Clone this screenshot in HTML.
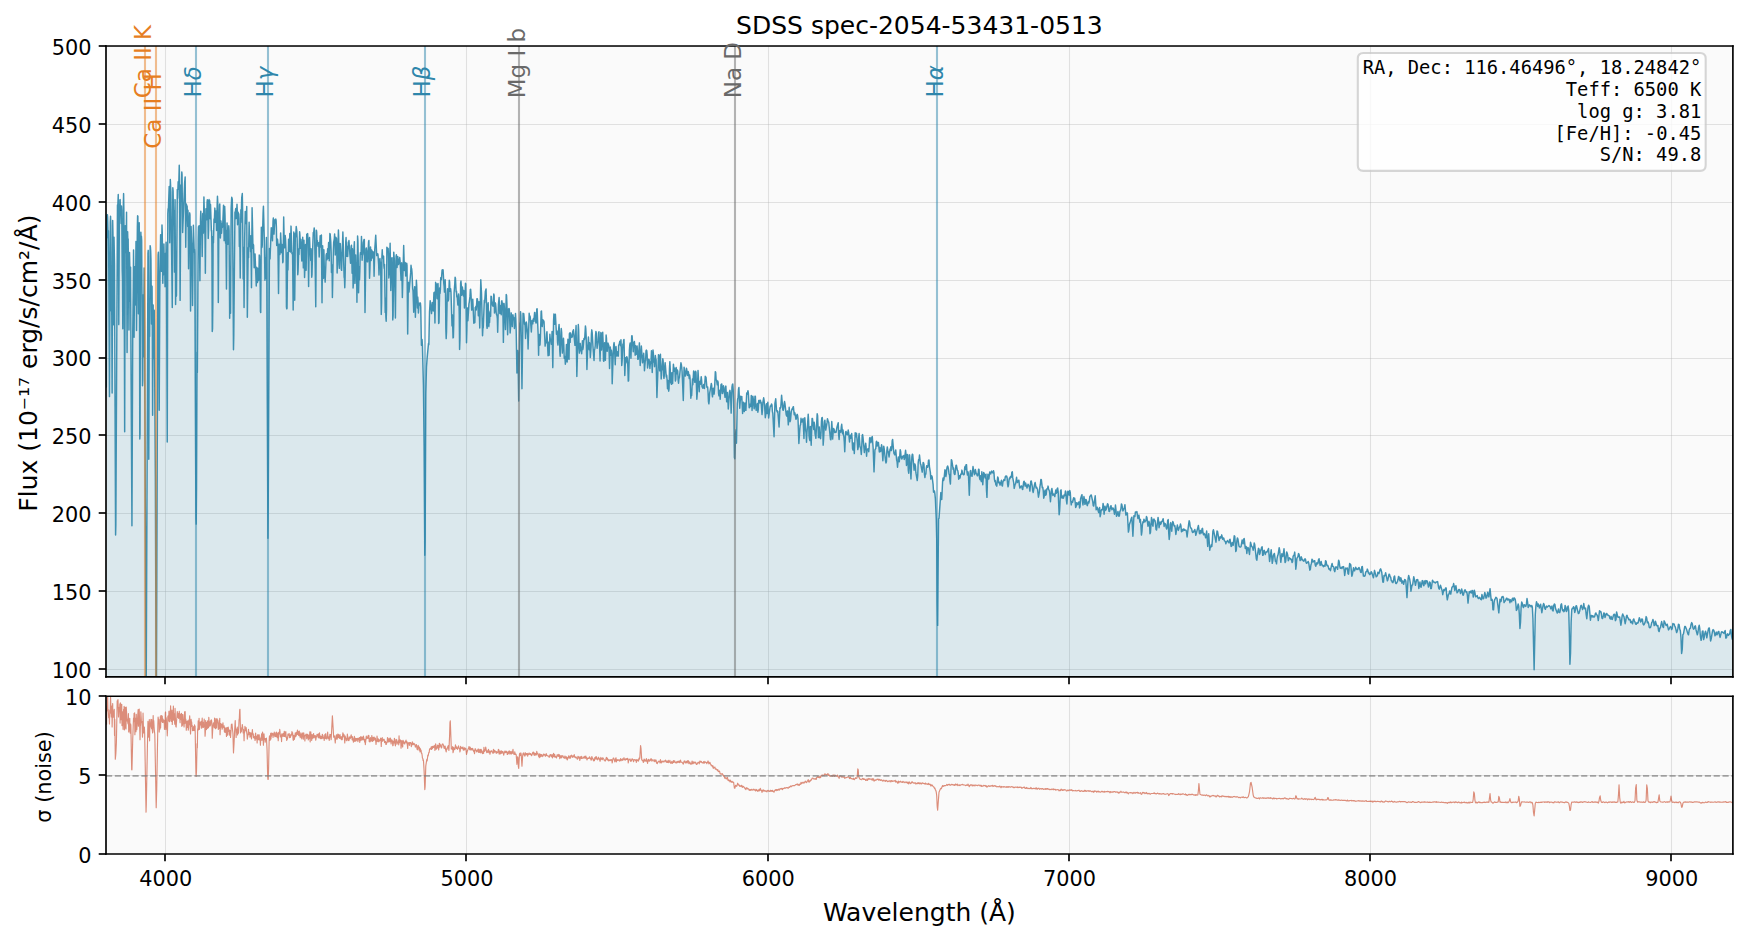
<!DOCTYPE html>
<html><head><meta charset="utf-8"><title>SDSS spec-2054-53431-0513</title>
<style>html,body{margin:0;padding:0;background:#fff;}body{width:1748px;height:940px;overflow:hidden;}svg{display:block;}</style>
</head><body>
<svg width="1748" height="940" viewBox="0 0 839.04 451.2" version="1.1">
<defs>
<style type="text/css">*{stroke-linejoin: round; stroke-linecap: butt}</style>
</defs>
<g id="figure_1">
<g id="patch_1">
<path d="M 0 451.2 L 839.04 451.2 L 839.04 0 L 0 0 z
" style="fill: #ffffff"/>
</g>
<g id="axes_1">
<g id="patch_2">
<path d="M 50.88 324.91 L 831.79 324.91 L 831.79 22.08 L 50.88 22.08 z
" style="fill: #fafafa"/>
</g>
<g id="matplotlib.axis_1">
<g id="xtick_1">
<g id="line2d_1">
<path d="M 79.44 324.91 L 79.44 22.08 " clip-path="url(#pba4cbe3485)" style="fill: none; stroke: #b0b0b0; stroke-opacity: 0.35; stroke-width: 0.5; stroke-linecap: square"/>
</g>
<g id="line2d_2">
<defs>
<path id="m1504cfccaf" d="M 0 0 L 0 3.5 " style="stroke: #000000; stroke-width: 0.8"/>
</defs>
<g>
<use href="#m1504cfccaf" x="79.20" y="324.96" style="stroke: #000000; stroke-width: 0.8"/>
</g>
</g>
</g>
<g id="xtick_2">
<g id="line2d_3">
<path d="M 223.92 324.91 L 223.92 22.08 " clip-path="url(#pba4cbe3485)" style="fill: none; stroke: #b0b0b0; stroke-opacity: 0.35; stroke-width: 0.5; stroke-linecap: square"/>
</g>
<g id="line2d_4">
<g>
<use href="#m1504cfccaf" x="223.68" y="324.96" style="stroke: #000000; stroke-width: 0.8"/>
</g>
</g>
</g>
<g id="xtick_3">
<g id="line2d_5">
<path d="M 368.88 324.91 L 368.88 22.08 " clip-path="url(#pba4cbe3485)" style="fill: none; stroke: #b0b0b0; stroke-opacity: 0.35; stroke-width: 0.5; stroke-linecap: square"/>
</g>
<g id="line2d_6">
<g>
<use href="#m1504cfccaf" x="368.64" y="324.96" style="stroke: #000000; stroke-width: 0.8"/>
</g>
</g>
</g>
<g id="xtick_4">
<g id="line2d_7">
<path d="M 513.36 324.91 L 513.36 22.08 " clip-path="url(#pba4cbe3485)" style="fill: none; stroke: #b0b0b0; stroke-opacity: 0.35; stroke-width: 0.5; stroke-linecap: square"/>
</g>
<g id="line2d_8">
<g>
<use href="#m1504cfccaf" x="513.12" y="324.96" style="stroke: #000000; stroke-width: 0.8"/>
</g>
</g>
</g>
<g id="xtick_5">
<g id="line2d_9">
<path d="M 657.84 324.91 L 657.84 22.08 " clip-path="url(#pba4cbe3485)" style="fill: none; stroke: #b0b0b0; stroke-opacity: 0.35; stroke-width: 0.5; stroke-linecap: square"/>
</g>
<g id="line2d_10">
<g>
<use href="#m1504cfccaf" x="657.60" y="324.96" style="stroke: #000000; stroke-width: 0.8"/>
</g>
</g>
</g>
<g id="xtick_6">
<g id="line2d_11">
<path d="M 802.32 324.91 L 802.32 22.08 " clip-path="url(#pba4cbe3485)" style="fill: none; stroke: #b0b0b0; stroke-opacity: 0.35; stroke-width: 0.5; stroke-linecap: square"/>
</g>
<g id="line2d_12">
<g>
<use href="#m1504cfccaf" x="802.08" y="324.96" style="stroke: #000000; stroke-width: 0.8"/>
</g>
</g>
</g>
</g>
<g id="matplotlib.axis_2">
<g id="ytick_1">
<g id="line2d_13">
<path d="M 50.88 321.36 L 831.79 321.36 " clip-path="url(#pba4cbe3485)" style="fill: none; stroke: #b0b0b0; stroke-opacity: 0.35; stroke-width: 0.5; stroke-linecap: square"/>
</g>
<g id="line2d_14">
<defs>
<path id="m5d545ce8f8" d="M 0 0 L -3.5 0 " style="stroke: #000000; stroke-width: 0.8"/>
</defs>
<g>
<use href="#m5d545ce8f8" x="50.88" y="321.12" style="stroke: #000000; stroke-width: 0.8"/>
</g>
</g>
<g id="text_1" transform="translate(0.00 0.48)">
<text style="font-size: 10px; font-family: 'DejaVu Sans', 'Liberation Sans', sans-serif; text-anchor: end" x="43.88" y="324.92" transform="rotate(-0 43.88 324.92)">100</text>
</g>
</g>
<g id="ytick_2">
<g id="line2d_15">
<path d="M 50.88 283.92 L 831.79 283.92 " clip-path="url(#pba4cbe3485)" style="fill: none; stroke: #b0b0b0; stroke-opacity: 0.35; stroke-width: 0.5; stroke-linecap: square"/>
</g>
<g id="line2d_16">
<g>
<use href="#m5d545ce8f8" x="50.88" y="283.68" style="stroke: #000000; stroke-width: 0.8"/>
</g>
</g>
<g id="text_2" transform="translate(0.00 0.48)">
<text style="font-size: 10px; font-family: 'DejaVu Sans', 'Liberation Sans', sans-serif; text-anchor: end" x="43.88" y="287.54" transform="rotate(-0 43.88 287.54)">150</text>
</g>
</g>
<g id="ytick_3">
<g id="line2d_17">
<path d="M 50.88 246.48 L 831.79 246.48 " clip-path="url(#pba4cbe3485)" style="fill: none; stroke: #b0b0b0; stroke-opacity: 0.35; stroke-width: 0.5; stroke-linecap: square"/>
</g>
<g id="line2d_18">
<g>
<use href="#m5d545ce8f8" x="50.88" y="246.24" style="stroke: #000000; stroke-width: 0.8"/>
</g>
</g>
<g id="text_3" transform="translate(0.00 0.48)">
<text style="font-size: 10px; font-family: 'DejaVu Sans', 'Liberation Sans', sans-serif; text-anchor: end" x="43.88" y="250.16" transform="rotate(-0 43.88 250.16)">200</text>
</g>
</g>
<g id="ytick_4">
<g id="line2d_19">
<path d="M 50.88 209.04 L 831.79 209.04 " clip-path="url(#pba4cbe3485)" style="fill: none; stroke: #b0b0b0; stroke-opacity: 0.35; stroke-width: 0.5; stroke-linecap: square"/>
</g>
<g id="line2d_20">
<g>
<use href="#m5d545ce8f8" x="50.88" y="208.80" style="stroke: #000000; stroke-width: 0.8"/>
</g>
</g>
<g id="text_4" transform="translate(0.00 0.48)">
<text style="font-size: 10px; font-family: 'DejaVu Sans', 'Liberation Sans', sans-serif; text-anchor: end" x="43.88" y="212.78" transform="rotate(-0 43.88 212.78)">250</text>
</g>
</g>
<g id="ytick_5">
<g id="line2d_21">
<path d="M 50.88 172.08 L 831.79 172.08 " clip-path="url(#pba4cbe3485)" style="fill: none; stroke: #b0b0b0; stroke-opacity: 0.35; stroke-width: 0.5; stroke-linecap: square"/>
</g>
<g id="line2d_22">
<g>
<use href="#m5d545ce8f8" x="50.88" y="171.84" style="stroke: #000000; stroke-width: 0.8"/>
</g>
</g>
<g id="text_5" transform="translate(0.00 0.48)">
<text style="font-size: 10px; font-family: 'DejaVu Sans', 'Liberation Sans', sans-serif; text-anchor: end" x="43.88" y="175.40" transform="rotate(-0 43.88 175.40)">300</text>
</g>
</g>
<g id="ytick_6">
<g id="line2d_23">
<path d="M 50.88 134.64 L 831.79 134.64 " clip-path="url(#pba4cbe3485)" style="fill: none; stroke: #b0b0b0; stroke-opacity: 0.35; stroke-width: 0.5; stroke-linecap: square"/>
</g>
<g id="line2d_24">
<g>
<use href="#m5d545ce8f8" x="50.88" y="134.40" style="stroke: #000000; stroke-width: 0.8"/>
</g>
</g>
<g id="text_6" transform="translate(0.00 0.48)">
<text style="font-size: 10px; font-family: 'DejaVu Sans', 'Liberation Sans', sans-serif; text-anchor: end" x="43.88" y="138.01" transform="rotate(-0 43.88 138.01)">350</text>
</g>
</g>
<g id="ytick_7">
<g id="line2d_25">
<path d="M 50.88 97.20 L 831.79 97.20 " clip-path="url(#pba4cbe3485)" style="fill: none; stroke: #b0b0b0; stroke-opacity: 0.35; stroke-width: 0.5; stroke-linecap: square"/>
</g>
<g id="line2d_26">
<g>
<use href="#m5d545ce8f8" x="50.88" y="96.96" style="stroke: #000000; stroke-width: 0.8"/>
</g>
</g>
<g id="text_7" transform="translate(0.00 0.48)">
<text style="font-size: 10px; font-family: 'DejaVu Sans', 'Liberation Sans', sans-serif; text-anchor: end" x="43.88" y="100.63" transform="rotate(-0 43.88 100.63)">400</text>
</g>
</g>
<g id="ytick_8">
<g id="line2d_27">
<path d="M 50.88 59.76 L 831.79 59.76 " clip-path="url(#pba4cbe3485)" style="fill: none; stroke: #b0b0b0; stroke-opacity: 0.35; stroke-width: 0.5; stroke-linecap: square"/>
</g>
<g id="line2d_28">
<g>
<use href="#m5d545ce8f8" x="50.88" y="59.52" style="stroke: #000000; stroke-width: 0.8"/>
</g>
</g>
<g id="text_8" transform="translate(0.00 0.48)">
<text style="font-size: 10px; font-family: 'DejaVu Sans', 'Liberation Sans', sans-serif; text-anchor: end" x="43.88" y="63.25" transform="rotate(-0 43.88 63.25)">450</text>
</g>
</g>
<g id="ytick_9">
<g id="line2d_29">
<path d="M 50.88 22.32 L 831.79 22.32 " clip-path="url(#pba4cbe3485)" style="fill: none; stroke: #b0b0b0; stroke-opacity: 0.35; stroke-width: 0.5; stroke-linecap: square"/>
</g>
<g id="line2d_30">
<g>
<use href="#m5d545ce8f8" x="50.88" y="22.08" style="stroke: #000000; stroke-width: 0.8"/>
</g>
</g>
<g id="text_9" transform="translate(0.00 0.48)">
<text style="font-size: 10px; font-family: 'DejaVu Sans', 'Liberation Sans', sans-serif; text-anchor: end" x="43.88" y="25.87" transform="rotate(-0 43.88 25.87)">500</text>
</g>
</g>
<g id="text_10" transform="translate(-0.48 0.81)">
<text style="font-size: 12px; font-family: 'DejaVu Sans', 'Liberation Sans', sans-serif; text-anchor: middle" x="18.29" y="173.49" transform="rotate(-90 18.29 173.49)">Flux (10⁻¹⁷ erg/s/cm²/Å)</text>
</g>
</g>
<g id="FillBetweenPolyCollection_1">
<defs>
<path id="m7d26e6ad8c" d="M 50.40 -55.31 L 50.40 -351.37 L 50.52 -343.74 L 50.65 -335.51 L 50.78 -336.23 L 50.90 -308.76 L 51.03 -265.43 L 51.16 -314.63 L 51.28 -347.62 L 51.41 -347.87 L 51.54 -348.16 L 51.66 -346.89 L 51.79 -338.58 L 51.92 -336.95 L 52.04 -340.49 L 52.17 -328.85 L 52.30 -305.86 L 52.43 -265.85 L 52.55 -260.80 L 52.68 -294.57 L 52.81 -325.25 L 52.93 -344.34 L 53.06 -347.37 L 53.19 -343.28 L 53.32 -321.95 L 53.44 -301.89 L 53.57 -316.00 L 53.70 -296.93 L 53.82 -262.53 L 53.95 -316.93 L 54.08 -345.39 L 54.21 -339.63 L 54.33 -324.74 L 54.46 -295.29 L 54.59 -323.17 L 54.72 -337.35 L 54.84 -328.94 L 54.97 -324.37 L 55.10 -298.91 L 55.23 -256.09 L 55.35 -216.07 L 55.48 -194.37 L 55.61 -199.48 L 55.74 -226.86 L 55.86 -251.35 L 55.99 -263.14 L 56.12 -318.33 L 56.25 -349.87 L 56.38 -352.75 L 56.50 -351.47 L 56.63 -354.42 L 56.76 -357.82 L 56.89 -330.59 L 57.02 -295.37 L 57.14 -323.60 L 57.27 -341.91 L 57.40 -348.68 L 57.53 -355.21 L 57.66 -355.41 L 57.78 -350.33 L 57.91 -351.79 L 58.04 -350.03 L 58.17 -343.92 L 58.30 -352.30 L 58.43 -350.27 L 58.55 -331.71 L 58.68 -321.29 L 58.81 -317.25 L 58.94 -293.36 L 59.07 -325.77 L 59.20 -353.29 L 59.33 -358.26 L 59.45 -351.01 L 59.58 -332.13 L 59.71 -287.74 L 59.84 -243.94 L 59.97 -304.41 L 60.10 -342.80 L 60.23 -336.14 L 60.35 -329.94 L 60.48 -330.21 L 60.61 -343.96 L 60.74 -349.28 L 60.87 -322.85 L 61.00 -282.01 L 61.13 -319.49 L 61.26 -339.95 L 61.39 -334.56 L 61.52 -336.53 L 61.64 -320.81 L 61.77 -305.96 L 61.90 -292.79 L 62.03 -311.23 L 62.16 -330.02 L 62.29 -324.27 L 62.42 -306.55 L 62.55 -319.39 L 62.68 -322.95 L 62.81 -302.92 L 62.94 -268.41 L 63.07 -238.61 L 63.20 -205.27 L 63.33 -198.84 L 63.45 -238.06 L 63.58 -269.51 L 63.71 -291.51 L 63.84 -300.14 L 63.97 -313.51 L 64.10 -331.21 L 64.23 -318.95 L 64.36 -289.30 L 64.49 -314.45 L 64.62 -323.18 L 64.75 -307.71 L 64.88 -310.59 L 65.01 -304.84 L 65.14 -319.87 L 65.27 -335.28 L 65.40 -321.76 L 65.53 -292.52 L 65.66 -313.17 L 65.79 -338.58 L 65.92 -341.76 L 66.05 -347.60 L 66.18 -347.41 L 66.31 -327.53 L 66.44 -300.59 L 66.57 -316.36 L 66.70 -340.87 L 66.83 -344.30 L 66.96 -309.43 L 67.09 -240.44 L 67.22 -242.83 L 67.35 -298.55 L 67.48 -334.61 L 67.61 -339.77 L 67.74 -336.01 L 67.88 -337.76 L 68.01 -335.73 L 68.14 -309.84 L 68.27 -267.84 L 68.40 -266.07 L 68.53 -268.79 L 68.66 -307.25 L 68.79 -309.66 L 68.92 -279.99 L 69.05 -308.95 L 69.18 -322.57 L 69.31 -309.30 L 69.44 -291.99 L 69.57 -249.90 L 69.71 -198.29 L 69.84 -164.09 L 69.97 -129.85 L 70.10 -115.12 L 70.23 -132.05 L 70.36 -170.14 L 70.49 -221.98 L 70.62 -262.80 L 70.75 -284.78 L 70.89 -308.71 L 71.02 -329.51 L 71.15 -331.02 L 71.28 -286.49 L 71.41 -230.70 L 71.54 -286.76 L 71.67 -307.32 L 71.81 -289.68 L 71.94 -318.02 L 72.07 -333.29 L 72.20 -332.52 L 72.33 -330.79 L 72.46 -326.57 L 72.59 -310.21 L 72.73 -295.71 L 72.86 -310.67 L 72.99 -313.77 L 73.12 -293.57 L 73.25 -251.83 L 73.38 -288.88 L 73.52 -304.81 L 73.65 -279.07 L 73.78 -279.32 L 73.91 -295.58 L 74.04 -302.25 L 74.18 -284.37 L 74.31 -272.25 L 74.44 -255.76 L 74.57 -222.95 L 74.70 -175.88 L 74.84 -134.34 L 74.97 -115.12 L 75.10 -125.63 L 75.23 -165.95 L 75.36 -217.24 L 75.50 -268.18 L 75.63 -301.02 L 75.76 -317.21 L 75.89 -328.71 L 76.03 -330.08 L 76.16 -317.87 L 76.29 -291.79 L 76.42 -254.24 L 76.56 -290.37 L 76.69 -310.79 L 76.82 -323.17 L 76.95 -331.81 L 77.09 -338.51 L 77.22 -337.48 L 77.35 -326.32 L 77.48 -320.99 L 77.62 -330.54 L 77.75 -343.22 L 77.88 -339.80 L 78.02 -321.83 L 78.15 -315.20 L 78.28 -325.05 L 78.41 -319.21 L 78.55 -324.08 L 78.68 -334.08 L 78.81 -326.51 L 78.95 -329.49 L 79.08 -323.84 L 79.21 -313.52 L 79.35 -329.57 L 79.48 -326.80 L 79.61 -313.98 L 79.75 -334.89 L 79.88 -326.71 L 80.01 -295.11 L 80.15 -273.46 L 80.28 -238.99 L 80.41 -303.50 L 80.55 -348.58 L 80.68 -351.03 L 80.81 -350.20 L 80.95 -353.67 L 81.08 -358.61 L 81.21 -361.68 L 81.35 -350.32 L 81.48 -334.71 L 81.61 -354.10 L 81.75 -364.99 L 81.88 -361.69 L 82.02 -359.15 L 82.15 -347.46 L 82.28 -338.87 L 82.42 -329.91 L 82.55 -318.07 L 82.69 -303.55 L 82.82 -339.45 L 82.95 -361.08 L 83.09 -359.54 L 83.22 -352.71 L 83.36 -343.42 L 83.49 -350.20 L 83.62 -340.44 L 83.76 -320.57 L 83.89 -340.65 L 84.03 -355.38 L 84.16 -337.23 L 84.29 -305.05 L 84.43 -314.89 L 84.56 -308.88 L 84.70 -309.30 L 84.83 -324.13 L 84.97 -351.17 L 85.10 -360.29 L 85.24 -356.04 L 85.37 -361.82 L 85.51 -363.94 L 85.64 -360.37 L 85.77 -361.04 L 85.91 -367.60 L 86.04 -371.89 L 86.18 -365.88 L 86.31 -343.56 L 86.45 -307.01 L 86.58 -327.32 L 86.72 -357.06 L 86.85 -362.41 L 86.99 -354.70 L 87.12 -359.53 L 87.26 -368.69 L 87.39 -367.37 L 87.53 -354.84 L 87.66 -339.57 L 87.80 -343.28 L 87.93 -347.34 L 88.07 -349.26 L 88.20 -354.39 L 88.34 -357.70 L 88.47 -360.77 L 88.61 -363.22 L 88.74 -365.05 L 88.88 -366.26 L 89.01 -351.06 L 89.15 -332.55 L 89.29 -343.76 L 89.42 -353.32 L 89.56 -352.74 L 89.69 -349.25 L 89.83 -352.32 L 89.96 -348.23 L 90.10 -342.45 L 90.23 -350.25 L 90.37 -342.75 L 90.51 -322.18 L 90.64 -335.34 L 90.78 -345.37 L 90.91 -345.38 L 91.05 -349.02 L 91.19 -348.11 L 91.32 -326.62 L 91.46 -301.91 L 91.59 -326.59 L 91.73 -342.50 L 91.87 -338.39 L 92.00 -334.12 L 92.14 -334.42 L 92.27 -323.15 L 92.41 -304.52 L 92.55 -320.69 L 92.68 -341.49 L 92.82 -343.09 L 92.95 -338.74 L 93.09 -331.33 L 93.23 -330.28 L 93.36 -331.47 L 93.50 -329.71 L 93.64 -301.27 L 93.77 -259.27 L 93.91 -216.53 L 94.05 -202.15 L 94.18 -199.60 L 94.32 -216.74 L 94.46 -259.14 L 94.59 -282.10 L 94.73 -272.41 L 94.87 -300.28 L 95.00 -327.43 L 95.14 -336.37 L 95.28 -342.32 L 95.41 -342.34 L 95.55 -342.85 L 95.69 -337.42 L 95.82 -324.31 L 95.96 -316.48 L 96.10 -333.11 L 96.24 -345.87 L 96.37 -349.83 L 96.51 -347.66 L 96.65 -341.93 L 96.78 -343.85 L 96.92 -338.14 L 97.06 -328.07 L 97.20 -341.64 L 97.33 -348.67 L 97.47 -342.20 L 97.61 -339.28 L 97.74 -349.14 L 97.88 -356.60 L 98.02 -351.62 L 98.16 -345.72 L 98.29 -343.03 L 98.43 -336.31 L 98.57 -320.06 L 98.71 -339.30 L 98.85 -350.96 L 98.98 -347.95 L 99.12 -345.70 L 99.26 -345.95 L 99.40 -354.09 L 99.53 -355.34 L 99.67 -354.95 L 99.81 -346.84 L 99.95 -336.76 L 100.09 -340.49 L 100.22 -351.00 L 100.36 -355.39 L 100.50 -353.75 L 100.64 -354.89 L 100.78 -346.66 L 100.91 -346.21 L 101.05 -353.06 L 101.19 -349.20 L 101.33 -346.10 L 101.47 -340.38 L 101.60 -340.64 L 101.74 -329.53 L 101.88 -292.08 L 102.02 -293.47 L 102.16 -305.90 L 102.30 -337.71 L 102.44 -334.58 L 102.57 -339.32 L 102.71 -346.04 L 102.85 -344.27 L 102.99 -349.38 L 103.13 -351.30 L 103.27 -347.62 L 103.41 -344.46 L 103.54 -344.80 L 103.68 -349.89 L 103.82 -345.11 L 103.96 -340.57 L 104.10 -348.79 L 104.24 -353.04 L 104.38 -356.97 L 104.52 -354.21 L 104.66 -330.35 L 104.79 -305.99 L 104.93 -327.11 L 105.07 -345.41 L 105.21 -347.70 L 105.35 -352.79 L 105.49 -353.25 L 105.63 -342.50 L 105.77 -336.98 L 105.91 -339.78 L 106.05 -345.13 L 106.19 -341.93 L 106.33 -339.24 L 106.46 -341.96 L 106.60 -343.96 L 106.74 -341.98 L 106.88 -342.99 L 107.02 -346.33 L 107.16 -352.30 L 107.30 -352.73 L 107.44 -344.84 L 107.58 -335.68 L 107.72 -345.38 L 107.86 -352.08 L 108.00 -348.27 L 108.14 -341.01 L 108.28 -334.48 L 108.42 -340.68 L 108.56 -330.50 L 108.70 -312.50 L 108.84 -333.39 L 108.98 -344.21 L 109.12 -340.40 L 109.26 -334.98 L 109.40 -333.98 L 109.54 -337.60 L 109.68 -339.19 L 109.82 -342.81 L 109.96 -340.62 L 110.10 -322.61 L 110.24 -298.44 L 110.38 -318.57 L 110.52 -308.21 L 110.66 -300.80 L 110.80 -332.91 L 110.94 -351.12 L 111.08 -355.13 L 111.22 -356.52 L 111.36 -356.09 L 111.50 -355.56 L 111.65 -345.62 L 111.79 -325.84 L 111.93 -304.00 L 112.07 -283.33 L 112.21 -289.68 L 112.35 -305.74 L 112.49 -328.68 L 112.63 -347.51 L 112.77 -349.49 L 112.91 -346.10 L 113.05 -350.41 L 113.19 -351.13 L 113.34 -346.34 L 113.48 -347.32 L 113.62 -350.54 L 113.76 -353.19 L 113.90 -349.97 L 114.04 -343.27 L 114.18 -346.49 L 114.32 -349.33 L 114.46 -346.72 L 114.61 -348.58 L 114.75 -346.31 L 114.89 -332.93 L 115.03 -335.38 L 115.17 -331.53 L 115.31 -317.79 L 115.45 -340.14 L 115.60 -350.46 L 115.74 -344.44 L 115.88 -350.60 L 116.02 -356.18 L 116.16 -357.41 L 116.30 -358.28 L 116.45 -350.42 L 116.59 -332.60 L 116.73 -317.28 L 116.87 -332.48 L 117.01 -325.94 L 117.15 -303.62 L 117.30 -323.43 L 117.44 -337.03 L 117.58 -344.96 L 117.72 -349.69 L 117.86 -347.30 L 118.01 -347.37 L 118.15 -343.93 L 118.29 -350.10 L 118.43 -352.03 L 118.57 -319.83 L 118.72 -298.93 L 118.86 -311.17 L 119.00 -323.95 L 119.14 -332.28 L 119.29 -327.49 L 119.43 -336.58 L 119.57 -344.56 L 119.71 -340.65 L 119.86 -332.90 L 120.00 -338.06 L 120.14 -333.00 L 120.28 -330.40 L 120.43 -338.07 L 120.57 -327.21 L 120.71 -313.12 L 120.85 -337.19 L 121.00 -351.48 L 121.14 -346.00 L 121.28 -335.12 L 121.43 -332.00 L 121.57 -333.96 L 121.71 -333.53 L 121.85 -327.57 L 122.00 -322.71 L 122.14 -324.29 L 122.28 -326.38 L 122.43 -329.25 L 122.57 -325.71 L 122.71 -320.42 L 122.86 -318.74 L 123.00 -313.92 L 123.14 -317.64 L 123.29 -322.86 L 123.43 -318.29 L 123.57 -315.55 L 123.72 -320.61 L 123.86 -322.36 L 124.00 -321.08 L 124.15 -316.54 L 124.29 -319.81 L 124.43 -328.80 L 124.58 -328.43 L 124.72 -322.34 L 124.86 -317.03 L 125.01 -301.62 L 125.15 -301.15 L 125.29 -325.05 L 125.44 -342.14 L 125.58 -339.55 L 125.73 -332.39 L 125.87 -333.22 L 126.01 -340.08 L 126.16 -345.01 L 126.30 -349.56 L 126.45 -352.21 L 126.59 -347.62 L 126.73 -340.19 L 126.88 -335.99 L 127.02 -325.60 L 127.17 -316.62 L 127.31 -321.57 L 127.45 -327.45 L 127.60 -317.67 L 127.74 -328.76 L 127.89 -337.24 L 128.03 -328.07 L 128.18 -301.19 L 128.32 -254.98 L 128.47 -208.14 L 128.61 -192.87 L 128.75 -209.29 L 128.90 -246.82 L 129.04 -292.88 L 129.19 -322.94 L 129.33 -331.89 L 129.48 -331.58 L 129.62 -326.94 L 129.77 -331.42 L 129.91 -335.47 L 130.06 -338.01 L 130.20 -341.88 L 130.35 -340.60 L 130.49 -341.69 L 130.64 -338.89 L 130.78 -335.63 L 130.93 -342.10 L 131.07 -345.43 L 131.22 -346.59 L 131.36 -342.20 L 131.51 -338.81 L 131.65 -341.66 L 131.80 -344.42 L 131.94 -345.72 L 132.09 -344.23 L 132.23 -344.35 L 132.38 -346.04 L 132.52 -345.46 L 132.67 -342.24 L 132.81 -333.39 L 132.96 -334.88 L 133.11 -336.45 L 133.25 -336.10 L 133.40 -333.99 L 133.54 -324.07 L 133.69 -310.32 L 133.83 -325.77 L 133.98 -334.01 L 134.13 -330.28 L 134.27 -329.06 L 134.42 -329.23 L 134.56 -333.56 L 134.71 -339.41 L 134.85 -336.29 L 135.00 -331.39 L 135.15 -329.92 L 135.29 -333.62 L 135.44 -333.77 L 135.59 -330.95 L 135.73 -325.11 L 135.88 -325.62 L 136.02 -339.97 L 136.17 -347.08 L 136.32 -339.50 L 136.46 -333.15 L 136.61 -332.25 L 136.76 -335.36 L 136.90 -338.12 L 137.05 -336.70 L 137.19 -333.86 L 137.34 -329.96 L 137.49 -303.84 L 137.63 -302.94 L 137.78 -303.21 L 137.93 -324.72 L 138.07 -330.02 L 138.22 -321.60 L 138.37 -328.58 L 138.51 -336.39 L 138.66 -334.46 L 138.81 -330.55 L 138.95 -333.65 L 139.10 -339.16 L 139.25 -335.10 L 139.40 -330.26 L 139.54 -338.35 L 139.69 -342.66 L 139.84 -338.54 L 139.98 -332.49 L 140.13 -329.48 L 140.28 -329.32 L 140.43 -329.83 L 140.57 -314.59 L 140.72 -302.39 L 140.87 -317.30 L 141.01 -339.80 L 141.16 -336.45 L 141.31 -309.97 L 141.46 -307.04 L 141.60 -318.46 L 141.75 -339.25 L 141.90 -337.41 L 142.05 -339.71 L 142.19 -342.48 L 142.34 -341.29 L 142.49 -340.14 L 142.64 -336.27 L 142.79 -326.89 L 142.93 -319.32 L 143.08 -321.00 L 143.23 -329.10 L 143.38 -331.77 L 143.53 -328.99 L 143.67 -334.99 L 143.82 -339.96 L 143.97 -338.39 L 144.12 -331.97 L 144.27 -333.78 L 144.41 -336.30 L 144.56 -332.73 L 144.71 -329.25 L 144.86 -325.91 L 145.01 -331.16 L 145.15 -334.69 L 145.30 -337.33 L 145.45 -330.65 L 145.60 -322.61 L 145.75 -327.46 L 145.90 -335.86 L 146.05 -329.08 L 146.19 -317.96 L 146.34 -321.49 L 146.49 -326.34 L 146.64 -333.80 L 146.79 -331.33 L 146.94 -321.41 L 147.09 -331.61 L 147.23 -338.71 L 147.38 -337.31 L 147.53 -337.21 L 147.68 -339.06 L 147.83 -335.67 L 147.98 -323.67 L 148.13 -313.65 L 148.28 -324.41 L 148.43 -336.10 L 148.58 -337.22 L 148.72 -332.09 L 148.87 -329.68 L 149.02 -329.13 L 149.17 -326.13 L 149.32 -331.79 L 149.47 -327.49 L 149.62 -318.15 L 149.77 -319.52 L 149.92 -326.98 L 150.07 -331.68 L 150.22 -335.67 L 150.37 -339.55 L 150.52 -339.22 L 150.67 -340.33 L 150.82 -341.79 L 150.97 -340.51 L 151.12 -329.07 L 151.26 -325.13 L 151.41 -316.66 L 151.56 -303.97 L 151.71 -327.11 L 151.86 -340.68 L 152.01 -339.80 L 152.16 -335.22 L 152.31 -335.83 L 152.46 -334.18 L 152.61 -332.97 L 152.76 -333.55 L 152.91 -334.66 L 153.06 -332.65 L 153.21 -327.85 L 153.36 -330.65 L 153.51 -334.62 L 153.67 -338.06 L 153.82 -336.76 L 153.97 -332.66 L 154.12 -334.10 L 154.27 -338.43 L 154.42 -324.15 L 154.57 -305.86 L 154.72 -320.08 L 154.87 -333.28 L 155.02 -327.37 L 155.17 -317.51 L 155.32 -327.24 L 155.47 -331.32 L 155.62 -326.15 L 155.77 -317.81 L 155.92 -319.39 L 156.07 -315.78 L 156.23 -321.74 L 156.38 -323.58 L 156.53 -328.72 L 156.68 -329.35 L 156.83 -327.85 L 156.98 -326.54 L 157.13 -328.98 L 157.28 -331.85 L 157.43 -327.22 L 157.58 -330.34 L 157.74 -334.78 L 157.89 -331.31 L 158.04 -326.02 L 158.19 -333.47 L 158.34 -339.08 L 158.49 -338.80 L 158.64 -336.59 L 158.79 -334.93 L 158.95 -330.37 L 159.10 -320.41 L 159.25 -324.16 L 159.40 -322.37 L 159.55 -308.37 L 159.70 -317.49 L 159.86 -324.63 L 160.01 -330.94 L 160.16 -334.84 L 160.31 -335.69 L 160.46 -336.50 L 160.62 -338.88 L 160.77 -335.39 L 160.92 -328.80 L 161.07 -331.24 L 161.22 -337.31 L 161.37 -336.97 L 161.53 -336.72 L 161.68 -330.03 L 161.83 -320.14 L 161.98 -326.31 L 162.14 -335.92 L 162.29 -339.06 L 162.44 -340.76 L 162.59 -337.00 L 162.74 -324.20 L 162.90 -322.38 L 163.05 -331.67 L 163.20 -334.31 L 163.35 -334.27 L 163.51 -331.09 L 163.66 -327.50 L 163.81 -321.90 L 163.97 -321.41 L 164.12 -325.91 L 164.27 -331.60 L 164.42 -336.86 L 164.58 -339.87 L 164.73 -335.52 L 164.88 -327.36 L 165.03 -323.15 L 165.19 -318.13 L 165.34 -317.45 L 165.49 -313.09 L 165.65 -317.79 L 165.80 -329.93 L 165.95 -334.88 L 166.11 -337.16 L 166.26 -333.09 L 166.41 -328.17 L 166.57 -333.00 L 166.72 -332.84 L 166.87 -328.10 L 167.03 -333.37 L 167.18 -335.07 L 167.33 -334.26 L 167.49 -335.71 L 167.64 -333.49 L 167.79 -330.26 L 167.95 -328.74 L 168.10 -328.37 L 168.25 -324.84 L 168.41 -325.98 L 168.56 -333.01 L 168.71 -333.45 L 168.87 -323.80 L 169.02 -320.07 L 169.18 -331.79 L 169.33 -329.79 L 169.48 -312.97 L 169.64 -314.96 L 169.79 -326.92 L 169.95 -332.41 L 170.10 -335.16 L 170.25 -326.26 L 170.41 -315.17 L 170.56 -324.41 L 170.72 -328.85 L 170.87 -322.27 L 171.02 -325.02 L 171.18 -319.80 L 171.33 -306.11 L 171.49 -326.94 L 171.64 -337.89 L 171.80 -335.75 L 171.95 -327.10 L 172.11 -310.62 L 172.26 -316.62 L 172.41 -323.17 L 172.57 -316.91 L 172.72 -321.08 L 172.88 -328.68 L 173.03 -330.05 L 173.19 -329.19 L 173.34 -330.41 L 173.50 -337.72 L 173.65 -334.35 L 173.81 -326.27 L 173.96 -328.93 L 174.12 -328.82 L 174.27 -329.90 L 174.43 -334.85 L 174.58 -335.68 L 174.74 -336.22 L 174.89 -336.24 L 175.05 -318.96 L 175.20 -301.22 L 175.36 -312.46 L 175.51 -323.13 L 175.67 -331.68 L 175.82 -332.21 L 175.98 -330.94 L 176.14 -329.44 L 176.29 -325.58 L 176.45 -325.53 L 176.60 -329.41 L 176.76 -334.14 L 176.91 -335.09 L 177.07 -335.73 L 177.22 -327.32 L 177.38 -317.61 L 177.54 -321.54 L 177.69 -329.85 L 177.85 -332.60 L 178.00 -328.62 L 178.16 -326.17 L 178.32 -331.23 L 178.47 -330.87 L 178.63 -330.57 L 178.78 -327.40 L 178.94 -327.78 L 179.10 -330.32 L 179.25 -329.03 L 179.41 -325.80 L 179.56 -318.57 L 179.72 -326.67 L 179.88 -331.46 L 180.03 -333.86 L 180.19 -336.04 L 180.35 -338.32 L 180.50 -334.90 L 180.66 -330.54 L 180.82 -328.49 L 180.97 -329.41 L 181.13 -329.06 L 181.29 -329.43 L 181.44 -328.93 L 181.60 -326.89 L 181.76 -324.14 L 181.91 -319.21 L 182.07 -324.17 L 182.23 -326.38 L 182.38 -327.14 L 182.54 -324.87 L 182.70 -325.39 L 182.85 -308.40 L 183.01 -300.28 L 183.17 -305.73 L 183.32 -328.00 L 183.48 -331.33 L 183.64 -327.60 L 183.80 -327.41 L 183.95 -328.04 L 184.11 -328.26 L 184.27 -323.69 L 184.43 -322.39 L 184.58 -324.28 L 184.74 -311.56 L 184.90 -301.17 L 185.06 -308.17 L 185.21 -299.03 L 185.37 -297.01 L 185.53 -302.93 L 185.69 -332.52 L 185.84 -331.75 L 186.00 -330.16 L 186.16 -332.06 L 186.32 -331.91 L 186.47 -327.04 L 186.63 -317.75 L 186.79 -319.78 L 186.95 -324.00 L 187.11 -330.02 L 187.26 -334.39 L 187.42 -324.57 L 187.58 -311.72 L 187.74 -316.59 L 187.90 -322.99 L 188.05 -327.37 L 188.21 -327.51 L 188.37 -318.16 L 188.53 -297.64 L 188.69 -299.63 L 188.85 -313.77 L 189.00 -330.17 L 189.16 -328.66 L 189.32 -326.26 L 189.48 -316.88 L 189.64 -306.66 L 189.80 -298.57 L 189.96 -317.05 L 190.11 -328.03 L 190.27 -328.91 L 190.43 -325.07 L 190.59 -322.83 L 190.75 -324.99 L 190.91 -328.09 L 191.07 -326.73 L 191.23 -324.17 L 191.39 -324.60 L 191.54 -325.99 L 191.70 -326.22 L 191.86 -327.56 L 192.02 -326.24 L 192.18 -323.75 L 192.34 -320.30 L 192.50 -316.69 L 192.66 -323.50 L 192.82 -325.03 L 192.98 -316.53 L 193.14 -308.34 L 193.30 -315.23 L 193.45 -320.40 L 193.61 -326.80 L 193.77 -333.35 L 193.93 -328.34 L 194.09 -321.31 L 194.25 -322.23 L 194.41 -325.22 L 194.57 -325.00 L 194.73 -318.70 L 194.89 -319.30 L 195.05 -322.55 L 195.21 -324.85 L 195.37 -323.78 L 195.53 -305.85 L 195.69 -290.88 L 195.85 -303.11 L 196.01 -315.69 L 196.17 -311.88 L 196.33 -311.07 L 196.49 -312.93 L 196.65 -313.59 L 196.81 -317.23 L 196.97 -317.81 L 197.13 -320.32 L 197.29 -323.85 L 197.45 -322.55 L 197.61 -322.18 L 197.77 -320.36 L 197.93 -315.04 L 198.09 -312.65 L 198.25 -311.57 L 198.42 -304.17 L 198.58 -301.35 L 198.74 -308.21 L 198.90 -311.87 L 199.06 -313.60 L 199.22 -309.63 L 199.38 -298.93 L 199.54 -306.45 L 199.70 -315.58 L 199.86 -316.73 L 200.02 -314.15 L 200.18 -308.23 L 200.35 -303.39 L 200.51 -308.64 L 200.67 -306.70 L 200.83 -300.96 L 200.99 -303.12 L 201.15 -305.31 L 201.31 -305.70 L 201.47 -304.81 L 201.63 -305.10 L 201.80 -305.72 L 201.96 -303.83 L 202.12 -295.40 L 202.28 -285.51 L 202.44 -285.85 L 202.60 -288.27 L 202.76 -285.28 L 202.93 -279.15 L 203.09 -273.09 L 203.25 -266.20 L 203.41 -254.61 L 203.57 -237.35 L 203.74 -204.99 L 203.90 -184.65 L 204.06 -191.89 L 204.22 -225.79 L 204.38 -262.21 L 204.54 -269.71 L 204.71 -275.01 L 204.87 -277.96 L 205.03 -279.43 L 205.19 -281.45 L 205.36 -283.74 L 205.52 -284.52 L 205.68 -286.40 L 205.84 -285.77 L 206.00 -294.62 L 206.17 -301.46 L 206.33 -303.64 L 206.49 -306.87 L 206.65 -305.50 L 206.82 -303.29 L 206.98 -303.39 L 207.14 -300.68 L 207.30 -303.77 L 207.47 -305.98 L 207.63 -304.43 L 207.79 -304.76 L 207.96 -301.94 L 208.12 -306.51 L 208.28 -310.60 L 208.44 -310.92 L 208.61 -302.31 L 208.77 -296.15 L 208.93 -309.30 L 209.10 -315.66 L 209.26 -312.27 L 209.42 -313.99 L 209.58 -314.91 L 209.75 -308.01 L 209.91 -307.78 L 210.07 -311.14 L 210.24 -315.13 L 210.40 -310.99 L 210.56 -295.92 L 210.73 -296.40 L 210.89 -307.91 L 211.05 -312.92 L 211.22 -310.31 L 211.38 -312.19 L 211.55 -317.85 L 211.71 -317.18 L 211.87 -316.95 L 212.04 -320.00 L 212.20 -321.62 L 212.36 -321.16 L 212.53 -321.76 L 212.69 -321.61 L 212.86 -318.09 L 213.02 -315.10 L 213.18 -313.83 L 213.35 -310.98 L 213.51 -311.97 L 213.68 -316.91 L 213.84 -311.89 L 214.00 -293.57 L 214.17 -288.65 L 214.33 -291.81 L 214.50 -301.82 L 214.66 -309.41 L 214.83 -312.60 L 214.99 -306.69 L 215.15 -306.77 L 215.32 -307.45 L 215.48 -311.10 L 215.65 -316.72 L 215.81 -316.00 L 215.98 -311.40 L 216.14 -312.38 L 216.31 -312.58 L 216.47 -311.03 L 216.64 -306.29 L 216.80 -302.95 L 216.97 -294.77 L 217.13 -300.12 L 217.30 -294.99 L 217.46 -289.00 L 217.63 -289.20 L 217.79 -295.58 L 217.96 -310.68 L 218.12 -312.33 L 218.29 -314.95 L 218.45 -318.11 L 218.62 -317.66 L 218.78 -313.84 L 218.95 -311.03 L 219.11 -311.47 L 219.28 -308.68 L 219.44 -309.12 L 219.61 -306.30 L 219.77 -304.81 L 219.94 -308.18 L 220.10 -310.11 L 220.27 -308.63 L 220.44 -300.20 L 220.60 -283.48 L 220.77 -287.94 L 220.93 -306.22 L 221.10 -315.15 L 221.26 -316.28 L 221.43 -314.30 L 221.60 -309.45 L 221.76 -310.86 L 221.93 -313.46 L 222.09 -311.97 L 222.26 -310.19 L 222.43 -309.09 L 222.59 -311.72 L 222.76 -310.21 L 222.93 -303.35 L 223.09 -306.18 L 223.26 -312.50 L 223.42 -315.21 L 223.59 -314.93 L 223.76 -298.45 L 223.92 -286.68 L 224.09 -292.70 L 224.26 -303.41 L 224.42 -303.26 L 224.59 -297.27 L 224.76 -300.27 L 224.92 -304.98 L 225.09 -305.34 L 225.26 -306.19 L 225.42 -307.80 L 225.59 -309.04 L 225.76 -312.30 L 225.92 -312.33 L 226.09 -309.90 L 226.26 -304.77 L 226.42 -302.34 L 226.59 -304.75 L 226.76 -306.62 L 226.93 -307.60 L 227.09 -304.03 L 227.26 -299.82 L 227.43 -295.99 L 227.59 -296.90 L 227.76 -296.74 L 227.93 -296.36 L 228.10 -303.60 L 228.26 -302.83 L 228.43 -304.21 L 228.60 -302.38 L 228.77 -304.73 L 228.93 -307.78 L 229.10 -307.81 L 229.27 -306.83 L 229.44 -302.42 L 229.61 -299.65 L 229.77 -302.51 L 229.94 -306.40 L 230.11 -301.33 L 230.28 -293.70 L 230.44 -301.89 L 230.61 -311.53 L 230.78 -316.91 L 230.95 -314.16 L 231.12 -310.58 L 231.28 -303.41 L 231.45 -297.87 L 231.62 -290.04 L 231.79 -293.59 L 231.96 -293.95 L 232.13 -298.57 L 232.29 -305.57 L 232.46 -307.02 L 232.63 -305.85 L 232.80 -309.35 L 232.97 -311.34 L 233.14 -312.05 L 233.31 -312.48 L 233.47 -306.89 L 233.64 -294.82 L 233.81 -293.57 L 233.98 -295.60 L 234.15 -304.99 L 234.32 -305.84 L 234.49 -299.67 L 234.66 -294.41 L 234.82 -300.04 L 234.99 -296.40 L 235.16 -300.96 L 235.33 -301.86 L 235.50 -299.35 L 235.67 -308.97 L 235.84 -308.94 L 236.01 -306.33 L 236.18 -306.12 L 236.35 -304.78 L 236.52 -304.32 L 236.69 -304.22 L 236.86 -306.61 L 237.02 -310.07 L 237.19 -309.34 L 237.36 -300.99 L 237.53 -301.76 L 237.70 -305.86 L 237.87 -305.50 L 238.04 -303.77 L 238.21 -300.83 L 238.38 -300.02 L 238.55 -299.76 L 238.72 -298.27 L 238.89 -291.70 L 239.06 -299.34 L 239.23 -305.01 L 239.40 -307.26 L 239.57 -308.38 L 239.74 -304.18 L 239.91 -300.71 L 240.08 -304.59 L 240.25 -304.22 L 240.42 -302.22 L 240.59 -300.09 L 240.76 -306.60 L 240.93 -306.82 L 241.10 -304.67 L 241.27 -305.74 L 241.44 -298.81 L 241.62 -286.85 L 241.79 -300.08 L 241.96 -305.50 L 242.13 -303.22 L 242.30 -297.68 L 242.47 -296.97 L 242.64 -292.98 L 242.81 -303.31 L 242.98 -309.83 L 243.15 -309.34 L 243.32 -305.44 L 243.49 -297.91 L 243.66 -290.48 L 243.84 -298.82 L 244.01 -302.90 L 244.18 -301.71 L 244.35 -303.17 L 244.52 -302.16 L 244.69 -298.08 L 244.86 -291.37 L 245.03 -293.45 L 245.21 -298.08 L 245.38 -301.02 L 245.55 -298.22 L 245.72 -294.71 L 245.89 -294.42 L 246.06 -299.96 L 246.23 -300.08 L 246.41 -298.45 L 246.58 -298.86 L 246.75 -297.05 L 246.92 -293.54 L 247.09 -296.33 L 247.26 -298.27 L 247.44 -300.69 L 247.61 -297.95 L 247.78 -292.19 L 247.95 -281.57 L 248.12 -272.12 L 248.30 -279.67 L 248.47 -282.98 L 248.64 -281.55 L 248.81 -266.15 L 248.98 -258.66 L 249.16 -274.39 L 249.33 -294.61 L 249.50 -296.07 L 249.67 -296.61 L 249.85 -301.59 L 250.02 -299.84 L 250.19 -290.58 L 250.36 -271.94 L 250.54 -264.64 L 250.71 -279.38 L 250.88 -295.80 L 251.05 -300.89 L 251.23 -300.24 L 251.40 -300.63 L 251.57 -298.77 L 251.75 -295.54 L 251.92 -296.29 L 252.09 -294.11 L 252.26 -288.68 L 252.44 -293.55 L 252.61 -296.69 L 252.78 -295.79 L 252.96 -294.05 L 253.13 -292.86 L 253.30 -290.36 L 253.48 -283.63 L 253.65 -290.54 L 253.82 -298.53 L 254.00 -300.82 L 254.17 -299.28 L 254.34 -299.56 L 254.52 -299.03 L 254.69 -296.89 L 254.86 -295.40 L 255.04 -291.81 L 255.21 -294.93 L 255.38 -297.41 L 255.56 -297.06 L 255.73 -295.75 L 255.91 -297.71 L 256.08 -298.32 L 256.25 -296.93 L 256.43 -300.00 L 256.60 -301.15 L 256.78 -301.16 L 256.95 -298.70 L 257.12 -296.76 L 257.30 -296.16 L 257.47 -296.30 L 257.65 -302.82 L 257.82 -303.01 L 257.99 -298.67 L 258.17 -296.92 L 258.34 -289.88 L 258.52 -280.62 L 258.69 -288.69 L 258.87 -290.63 L 259.04 -285.41 L 259.22 -285.83 L 259.39 -289.34 L 259.57 -295.91 L 259.74 -301.77 L 259.91 -301.89 L 260.09 -298.24 L 260.26 -294.43 L 260.44 -296.38 L 260.61 -297.67 L 260.79 -296.38 L 260.96 -297.29 L 261.14 -296.73 L 261.31 -292.57 L 261.49 -288.88 L 261.66 -285.05 L 261.84 -286.87 L 262.01 -287.51 L 262.19 -286.65 L 262.37 -291.05 L 262.54 -291.95 L 262.72 -288.07 L 262.89 -282.02 L 263.07 -280.42 L 263.24 -286.88 L 263.42 -284.64 L 263.59 -280.69 L 263.77 -286.13 L 263.94 -290.76 L 264.12 -288.53 L 264.30 -288.18 L 264.47 -288.17 L 264.65 -285.93 L 264.82 -287.43 L 265.00 -292.13 L 265.18 -285.02 L 265.35 -274.73 L 265.53 -286.61 L 265.70 -297.04 L 265.88 -300.52 L 266.06 -298.13 L 266.23 -295.55 L 266.41 -297.67 L 266.58 -300.35 L 266.76 -296.94 L 266.94 -292.08 L 267.11 -290.75 L 267.29 -292.43 L 267.47 -291.71 L 267.64 -286.74 L 267.82 -285.56 L 268.00 -291.12 L 268.17 -293.57 L 268.35 -295.49 L 268.53 -292.29 L 268.70 -282.58 L 268.88 -280.16 L 269.06 -284.58 L 269.23 -290.97 L 269.41 -293.48 L 269.59 -291.52 L 269.76 -286.30 L 269.94 -281.70 L 270.12 -284.40 L 270.30 -286.69 L 270.47 -288.82 L 270.65 -285.27 L 270.83 -279.24 L 271.00 -280.17 L 271.18 -279.55 L 271.36 -276.35 L 271.54 -277.67 L 271.71 -281.77 L 271.89 -285.87 L 272.07 -282.90 L 272.25 -277.41 L 272.42 -282.98 L 272.60 -288.31 L 272.78 -287.24 L 272.96 -279.06 L 273.13 -278.73 L 273.31 -291.02 L 273.49 -291.40 L 273.67 -286.86 L 273.85 -291.42 L 274.02 -290.79 L 274.20 -289.21 L 274.38 -289.50 L 274.56 -290.22 L 274.74 -289.48 L 274.91 -292.10 L 275.09 -292.63 L 275.27 -292.91 L 275.45 -290.91 L 275.63 -288.63 L 275.81 -288.12 L 275.98 -285.41 L 276.16 -288.35 L 276.34 -293.01 L 276.52 -294.93 L 276.70 -283.20 L 276.88 -270.52 L 277.06 -277.15 L 277.24 -280.78 L 277.41 -290.92 L 277.59 -295.42 L 277.77 -292.36 L 277.95 -284.24 L 278.13 -281.70 L 278.31 -286.09 L 278.49 -286.36 L 278.67 -284.80 L 278.85 -282.70 L 279.02 -283.93 L 279.20 -281.42 L 279.38 -284.71 L 279.56 -287.69 L 279.74 -283.37 L 279.92 -284.21 L 280.10 -286.11 L 280.28 -288.71 L 280.46 -288.19 L 280.64 -288.47 L 280.82 -292.66 L 281.00 -294.73 L 281.18 -293.49 L 281.36 -289.88 L 281.54 -281.25 L 281.72 -273.87 L 281.90 -279.78 L 282.08 -284.17 L 282.26 -286.72 L 282.44 -289.42 L 282.62 -286.44 L 282.80 -283.33 L 282.98 -286.69 L 283.16 -285.18 L 283.34 -279.58 L 283.52 -281.92 L 283.70 -284.66 L 283.88 -290.85 L 284.06 -292.86 L 284.24 -291.56 L 284.42 -287.35 L 284.60 -285.33 L 284.78 -282.27 L 284.96 -280.39 L 285.14 -278.18 L 285.32 -282.98 L 285.50 -283.70 L 285.68 -285.06 L 285.86 -290.23 L 286.04 -292.11 L 286.22 -291.30 L 286.40 -287.64 L 286.59 -283.99 L 286.77 -285.35 L 286.95 -286.80 L 287.13 -287.81 L 287.31 -291.52 L 287.49 -291.98 L 287.67 -288.25 L 287.85 -281.11 L 288.03 -277.94 L 288.22 -283.88 L 288.40 -291.61 L 288.58 -289.19 L 288.76 -283.18 L 288.94 -287.24 L 289.12 -291.27 L 289.30 -291.73 L 289.49 -287.12 L 289.67 -278.09 L 289.85 -277.76 L 290.03 -284.09 L 290.21 -286.70 L 290.39 -279.91 L 290.58 -278.29 L 290.76 -286.48 L 290.94 -290.41 L 291.12 -288.62 L 291.30 -282.90 L 291.48 -282.55 L 291.67 -286.37 L 291.85 -286.51 L 292.03 -285.74 L 292.21 -285.53 L 292.40 -281.53 L 292.58 -274.29 L 292.76 -279.40 L 292.94 -284.59 L 293.12 -282.02 L 293.31 -280.72 L 293.49 -283.04 L 293.67 -281.41 L 293.85 -267.01 L 294.04 -272.84 L 294.22 -279.66 L 294.40 -282.61 L 294.59 -286.01 L 294.77 -286.74 L 294.95 -284.37 L 295.13 -278.69 L 295.32 -276.15 L 295.50 -283.15 L 295.68 -284.88 L 295.87 -282.93 L 296.05 -280.29 L 296.23 -281.91 L 296.41 -282.29 L 296.60 -280.39 L 296.78 -280.26 L 296.96 -285.60 L 297.15 -285.64 L 297.33 -286.43 L 297.51 -287.42 L 297.70 -286.05 L 297.88 -285.25 L 298.06 -288.10 L 298.25 -283.63 L 298.43 -275.79 L 298.62 -277.83 L 298.80 -283.05 L 298.98 -286.10 L 299.17 -284.80 L 299.35 -288.00 L 299.53 -288.20 L 299.72 -277.58 L 299.90 -270.97 L 300.09 -276.74 L 300.27 -279.45 L 300.45 -277.00 L 300.64 -278.48 L 300.82 -279.96 L 301.01 -279.72 L 301.19 -278.44 L 301.38 -274.66 L 301.56 -268.25 L 301.74 -268.38 L 301.93 -277.51 L 302.11 -282.99 L 302.30 -285.60 L 302.48 -286.59 L 302.67 -282.95 L 302.85 -279.23 L 303.04 -285.29 L 303.22 -289.93 L 303.41 -290.03 L 303.59 -286.97 L 303.77 -283.23 L 303.96 -282.36 L 304.14 -286.75 L 304.33 -286.90 L 304.51 -287.28 L 304.70 -285.08 L 304.88 -280.63 L 305.07 -285.29 L 305.26 -283.42 L 305.44 -281.16 L 305.63 -284.43 L 305.81 -285.11 L 306.00 -281.90 L 306.18 -278.71 L 306.37 -278.84 L 306.55 -281.32 L 306.74 -284.67 L 306.92 -286.62 L 307.11 -282.23 L 307.29 -275.77 L 307.48 -279.11 L 307.67 -284.10 L 307.85 -285.14 L 308.04 -282.06 L 308.22 -278.47 L 308.41 -277.08 L 308.60 -277.75 L 308.78 -279.60 L 308.97 -281.59 L 309.15 -278.74 L 309.34 -273.21 L 309.53 -276.09 L 309.71 -277.68 L 309.90 -278.27 L 310.08 -282.82 L 310.27 -283.16 L 310.46 -282.75 L 310.64 -280.72 L 310.83 -274.54 L 311.02 -275.99 L 311.20 -278.80 L 311.39 -278.59 L 311.58 -278.59 L 311.76 -277.04 L 311.95 -274.34 L 312.14 -276.37 L 312.32 -277.08 L 312.51 -278.32 L 312.70 -282.84 L 312.88 -278.19 L 313.07 -272.38 L 313.26 -279.75 L 313.45 -283.15 L 313.63 -281.37 L 313.82 -277.38 L 314.01 -278.88 L 314.19 -275.20 L 314.38 -278.24 L 314.57 -280.52 L 314.76 -278.91 L 314.94 -278.57 L 315.13 -270.81 L 315.32 -260.37 L 315.51 -265.56 L 315.69 -270.97 L 315.88 -276.65 L 316.07 -280.96 L 316.26 -280.50 L 316.44 -276.45 L 316.63 -273.18 L 316.82 -279.13 L 317.01 -281.15 L 317.20 -273.61 L 317.38 -269.32 L 317.57 -273.86 L 317.76 -273.64 L 317.95 -275.86 L 318.14 -279.00 L 318.32 -277.92 L 318.51 -270.91 L 318.70 -269.60 L 318.89 -271.20 L 319.08 -275.43 L 319.27 -277.11 L 319.45 -274.82 L 319.64 -272.20 L 319.83 -270.21 L 320.02 -271.07 L 320.21 -268.77 L 320.40 -264.59 L 320.59 -268.60 L 320.77 -267.62 L 320.96 -263.44 L 321.15 -264.63 L 321.34 -274.02 L 321.53 -277.61 L 321.72 -274.03 L 321.91 -267.76 L 322.10 -267.09 L 322.29 -266.70 L 322.47 -272.33 L 322.66 -272.33 L 322.85 -267.15 L 323.04 -271.47 L 323.23 -276.38 L 323.42 -274.84 L 323.61 -273.00 L 323.80 -274.48 L 323.99 -273.00 L 324.18 -268.30 L 324.37 -269.08 L 324.56 -274.84 L 324.75 -273.04 L 324.94 -271.81 L 325.13 -273.60 L 325.32 -273.02 L 325.51 -268.71 L 325.70 -267.22 L 325.89 -269.59 L 326.08 -269.69 L 326.27 -271.62 L 326.46 -273.94 L 326.65 -276.38 L 326.84 -277.09 L 327.03 -276.28 L 327.22 -274.98 L 327.41 -272.89 L 327.60 -268.49 L 327.79 -265.75 L 327.98 -258.92 L 328.17 -268.90 L 328.36 -274.97 L 328.55 -273.45 L 328.74 -270.99 L 328.93 -270.67 L 329.12 -271.90 L 329.31 -273.56 L 329.50 -274.49 L 329.69 -273.48 L 329.89 -271.07 L 330.08 -270.99 L 330.27 -272.93 L 330.46 -272.52 L 330.65 -271.20 L 330.84 -269.45 L 331.03 -271.20 L 331.22 -269.88 L 331.41 -265.82 L 331.60 -260.01 L 331.80 -261.93 L 331.99 -261.36 L 332.18 -266.39 L 332.37 -269.25 L 332.56 -266.55 L 332.75 -269.73 L 332.94 -273.13 L 333.14 -272.83 L 333.33 -269.03 L 333.52 -267.65 L 333.71 -270.84 L 333.90 -272.97 L 334.09 -272.39 L 334.29 -264.49 L 334.48 -259.56 L 334.67 -262.02 L 334.86 -269.24 L 335.05 -273.36 L 335.25 -269.87 L 335.44 -265.85 L 335.63 -263.16 L 335.82 -267.69 L 336.02 -268.16 L 336.21 -266.79 L 336.40 -268.65 L 336.59 -270.40 L 336.78 -268.67 L 336.98 -265.58 L 337.17 -265.28 L 337.36 -264.82 L 337.55 -265.89 L 337.75 -266.60 L 337.94 -265.92 L 338.13 -264.74 L 338.33 -267.94 L 338.52 -270.55 L 338.71 -270.35 L 338.90 -270.00 L 339.10 -266.97 L 339.29 -265.33 L 339.48 -265.33 L 339.68 -265.46 L 339.87 -262.90 L 340.06 -258.40 L 340.26 -257.34 L 340.45 -259.28 L 340.64 -262.50 L 340.84 -263.47 L 341.03 -264.75 L 341.22 -265.86 L 341.42 -267.11 L 341.61 -266.36 L 341.80 -261.98 L 342.00 -260.70 L 342.19 -262.44 L 342.38 -264.87 L 342.58 -264.61 L 342.77 -262.02 L 342.97 -264.08 L 343.16 -269.05 L 343.35 -272.81 L 343.55 -272.40 L 343.74 -268.94 L 343.94 -268.76 L 344.13 -267.63 L 344.32 -266.45 L 344.52 -268.35 L 344.71 -267.66 L 344.91 -262.33 L 345.10 -261.22 L 345.30 -262.69 L 345.49 -263.84 L 345.68 -259.57 L 345.88 -263.49 L 346.07 -266.50 L 346.27 -266.78 L 346.46 -266.84 L 346.66 -262.40 L 346.85 -262.31 L 347.05 -264.00 L 347.24 -266.04 L 347.44 -264.84 L 347.63 -262.84 L 347.83 -261.82 L 348.02 -260.47 L 348.22 -265.27 L 348.41 -265.87 L 348.61 -261.22 L 348.80 -258.31 L 349.00 -260.68 L 349.19 -262.76 L 349.39 -259.28 L 349.58 -254.87 L 349.78 -257.91 L 349.97 -260.09 L 350.17 -263.30 L 350.37 -263.83 L 350.56 -262.58 L 350.76 -259.24 L 350.95 -252.89 L 351.15 -259.33 L 351.34 -265.41 L 351.54 -266.63 L 351.74 -266.83 L 351.93 -264.37 L 352.13 -259.61 L 352.32 -249.00 L 352.52 -231.59 L 352.72 -231.00 L 352.91 -238.00 L 353.11 -243.35 L 353.30 -244.91 L 353.50 -238.48 L 353.70 -247.40 L 353.89 -257.34 L 354.09 -259.73 L 354.29 -260.56 L 354.48 -264.39 L 354.68 -265.25 L 354.88 -259.69 L 355.07 -255.27 L 355.27 -259.11 L 355.47 -261.01 L 355.66 -260.14 L 355.86 -259.44 L 356.06 -260.93 L 356.25 -257.07 L 356.45 -252.75 L 356.65 -254.99 L 356.84 -258.17 L 357.04 -257.31 L 357.24 -253.65 L 357.44 -254.79 L 357.63 -257.71 L 357.83 -257.39 L 358.03 -254.22 L 358.22 -259.63 L 358.42 -262.51 L 358.62 -261.96 L 358.82 -262.58 L 359.01 -263.64 L 359.21 -262.58 L 359.41 -258.83 L 359.61 -255.48 L 359.81 -255.52 L 360.00 -257.11 L 360.20 -257.10 L 360.40 -256.20 L 360.60 -261.37 L 360.79 -260.72 L 360.99 -254.16 L 361.19 -257.22 L 361.39 -260.97 L 361.59 -259.63 L 361.79 -256.93 L 361.98 -254.96 L 362.18 -256.41 L 362.38 -260.95 L 362.58 -260.98 L 362.78 -256.22 L 362.98 -254.20 L 363.17 -254.60 L 363.37 -256.75 L 363.57 -257.52 L 363.77 -253.34 L 363.97 -254.62 L 364.17 -258.87 L 364.37 -259.01 L 364.56 -257.93 L 364.76 -257.80 L 364.96 -259.11 L 365.16 -258.27 L 365.36 -257.98 L 365.56 -255.45 L 365.76 -252.20 L 365.96 -254.06 L 366.16 -257.90 L 366.36 -258.97 L 366.56 -260.25 L 366.75 -259.12 L 366.95 -257.05 L 367.15 -253.46 L 367.35 -250.70 L 367.55 -252.09 L 367.75 -256.65 L 367.95 -257.42 L 368.15 -252.65 L 368.35 -254.72 L 368.55 -258.07 L 368.75 -254.58 L 368.95 -250.56 L 369.15 -252.39 L 369.35 -253.84 L 369.55 -255.33 L 369.75 -256.31 L 369.95 -256.14 L 370.15 -256.64 L 370.35 -257.30 L 370.55 -256.80 L 370.75 -253.64 L 370.95 -252.81 L 371.15 -247.70 L 371.35 -245.21 L 371.55 -241.52 L 371.75 -251.13 L 371.95 -257.42 L 372.15 -258.99 L 372.35 -259.78 L 372.56 -255.91 L 372.76 -253.97 L 372.96 -254.15 L 373.16 -253.36 L 373.36 -253.74 L 373.56 -250.75 L 373.76 -248.39 L 373.96 -246.27 L 374.16 -251.80 L 374.36 -255.44 L 374.56 -255.20 L 374.77 -255.71 L 374.97 -259.39 L 375.17 -261.49 L 375.37 -259.20 L 375.57 -256.05 L 375.77 -254.44 L 375.97 -254.23 L 376.18 -255.43 L 376.38 -257.53 L 376.58 -258.45 L 376.78 -257.45 L 376.98 -255.32 L 377.18 -253.76 L 377.39 -252.07 L 377.59 -251.51 L 377.79 -253.57 L 377.99 -253.93 L 378.19 -251.06 L 378.39 -247.26 L 378.60 -252.33 L 378.80 -255.73 L 379.00 -253.25 L 379.20 -248.73 L 379.41 -249.30 L 379.61 -252.19 L 379.81 -253.60 L 380.01 -254.38 L 380.22 -255.00 L 380.42 -254.81 L 380.62 -255.70 L 380.82 -255.99 L 381.03 -253.57 L 381.23 -252.12 L 381.43 -253.20 L 381.63 -252.55 L 381.84 -250.78 L 382.04 -249.96 L 382.24 -250.16 L 382.44 -251.85 L 382.65 -252.32 L 382.85 -251.80 L 383.05 -250.24 L 383.26 -243.42 L 383.46 -238.31 L 383.66 -242.70 L 383.87 -244.72 L 384.07 -247.02 L 384.27 -247.31 L 384.48 -250.42 L 384.68 -249.10 L 384.88 -248.63 L 385.09 -249.72 L 385.29 -249.54 L 385.49 -250.31 L 385.70 -245.41 L 385.90 -240.67 L 386.11 -248.11 L 386.31 -250.66 L 386.51 -247.17 L 386.72 -244.71 L 386.92 -243.46 L 387.13 -238.92 L 387.33 -243.78 L 387.53 -245.71 L 387.74 -249.49 L 387.94 -252.39 L 388.15 -248.98 L 388.35 -241.95 L 388.55 -240.40 L 388.76 -239.72 L 388.96 -246.51 L 389.17 -243.44 L 389.37 -237.44 L 389.58 -244.33 L 389.78 -250.33 L 389.99 -250.31 L 390.19 -248.81 L 390.40 -246.58 L 390.60 -245.03 L 390.81 -248.49 L 391.01 -246.77 L 391.22 -242.98 L 391.42 -242.08 L 391.63 -240.82 L 391.83 -244.75 L 392.04 -249.76 L 392.24 -252.60 L 392.45 -251.72 L 392.65 -247.13 L 392.86 -241.13 L 393.06 -244.81 L 393.27 -246.20 L 393.47 -241.40 L 393.68 -241.00 L 393.88 -240.61 L 394.09 -243.68 L 394.30 -249.10 L 394.50 -250.74 L 394.71 -250.77 L 394.91 -246.56 L 395.12 -237.52 L 395.32 -240.41 L 395.53 -244.89 L 395.74 -248.81 L 395.94 -249.53 L 396.15 -247.15 L 396.36 -244.74 L 396.56 -245.94 L 396.77 -247.50 L 396.97 -248.33 L 397.18 -250.22 L 397.39 -249.49 L 397.59 -248.81 L 397.80 -248.53 L 398.01 -246.31 L 398.21 -244.74 L 398.42 -242.69 L 398.63 -240.23 L 398.83 -240.07 L 399.04 -245.44 L 399.25 -248.85 L 399.45 -245.70 L 399.66 -240.43 L 399.87 -242.64 L 400.07 -245.53 L 400.28 -245.29 L 400.49 -244.69 L 400.70 -243.58 L 400.90 -243.69 L 401.11 -243.98 L 401.32 -243.73 L 401.52 -245.09 L 401.73 -246.08 L 401.94 -246.91 L 402.15 -247.97 L 402.35 -248.24 L 402.56 -242.45 L 402.77 -240.24 L 402.98 -243.30 L 403.18 -244.58 L 403.39 -244.13 L 403.60 -243.70 L 403.81 -246.34 L 404.02 -247.53 L 404.22 -244.57 L 404.43 -243.03 L 404.64 -244.82 L 404.85 -242.59 L 405.06 -241.65 L 405.26 -239.04 L 405.47 -234.36 L 405.68 -239.55 L 405.89 -243.72 L 406.10 -244.07 L 406.31 -242.91 L 406.51 -242.76 L 406.72 -242.47 L 406.93 -243.35 L 407.14 -244.75 L 407.35 -243.52 L 407.56 -241.11 L 407.77 -239.07 L 407.98 -241.66 L 408.18 -242.32 L 408.39 -240.84 L 408.60 -241.60 L 408.81 -243.08 L 409.02 -240.36 L 409.23 -235.75 L 409.44 -235.18 L 409.65 -238.57 L 409.86 -236.84 L 410.07 -233.47 L 410.28 -238.75 L 410.49 -243.51 L 410.69 -242.69 L 410.90 -241.49 L 411.11 -243.24 L 411.32 -241.11 L 411.53 -238.72 L 411.74 -235.39 L 411.95 -236.48 L 412.16 -241.15 L 412.37 -243.13 L 412.58 -239.71 L 412.79 -236.69 L 413.00 -236.55 L 413.21 -235.35 L 413.42 -233.05 L 413.63 -236.56 L 413.84 -242.25 L 414.05 -242.58 L 414.26 -241.16 L 414.47 -238.27 L 414.68 -235.31 L 414.89 -233.97 L 415.10 -235.72 L 415.31 -237.55 L 415.53 -238.49 L 415.74 -236.54 L 415.95 -232.18 L 416.16 -234.98 L 416.37 -235.49 L 416.58 -235.80 L 416.79 -235.72 L 417.00 -234.37 L 417.21 -236.82 L 417.42 -240.99 L 417.63 -241.22 L 417.84 -239.81 L 418.06 -238.72 L 418.27 -239.68 L 418.48 -241.33 L 418.69 -241.63 L 418.90 -239.00 L 419.11 -236.13 L 419.32 -230.75 L 419.53 -224.70 L 419.75 -229.98 L 419.96 -235.26 L 420.17 -235.75 L 420.38 -236.01 L 420.59 -239.06 L 420.80 -239.38 L 421.02 -237.07 L 421.23 -237.88 L 421.44 -238.76 L 421.65 -238.82 L 421.86 -236.49 L 422.08 -234.27 L 422.29 -236.40 L 422.50 -235.96 L 422.71 -234.45 L 422.93 -235.53 L 423.14 -237.73 L 423.35 -236.78 L 423.56 -233.78 L 423.77 -230.02 L 423.99 -233.90 L 424.20 -237.02 L 424.41 -235.80 L 424.63 -233.63 L 424.84 -231.59 L 425.05 -230.02 L 425.26 -228.97 L 425.48 -229.60 L 425.69 -234.83 L 425.90 -236.66 L 426.12 -235.09 L 426.33 -234.45 L 426.54 -232.97 L 426.75 -231.87 L 426.97 -234.14 L 427.18 -235.41 L 427.39 -235.81 L 427.61 -236.72 L 427.82 -234.92 L 428.03 -235.82 L 428.25 -239.62 L 428.46 -240.26 L 428.67 -237.43 L 428.89 -235.37 L 429.10 -233.55 L 429.32 -233.24 L 429.53 -232.80 L 429.74 -234.31 L 429.96 -235.23 L 430.17 -232.01 L 430.39 -230.31 L 430.60 -229.63 L 430.81 -226.89 L 431.03 -229.25 L 431.24 -231.87 L 431.46 -230.81 L 431.67 -229.56 L 431.88 -232.53 L 432.10 -235.35 L 432.31 -234.52 L 432.53 -231.70 L 432.74 -230.92 L 432.96 -230.96 L 433.17 -232.18 L 433.39 -231.80 L 433.60 -231.84 L 433.82 -232.52 L 434.03 -230.66 L 434.25 -231.37 L 434.46 -233.21 L 434.68 -235.03 L 434.89 -233.07 L 435.11 -227.79 L 435.32 -229.06 L 435.54 -233.00 L 435.75 -232.75 L 435.97 -225.56 L 436.18 -224.05 L 436.40 -229.26 L 436.61 -232.86 L 436.83 -229.68 L 437.04 -224.29 L 437.26 -221.28 L 437.47 -226.64 L 437.69 -231.89 L 437.91 -233.17 L 438.12 -233.02 L 438.34 -230.53 L 438.55 -227.62 L 438.77 -225.47 L 438.99 -228.50 L 439.20 -228.39 L 439.42 -227.46 L 439.63 -224.29 L 439.85 -223.15 L 440.07 -221.77 L 440.28 -220.53 L 440.50 -222.69 L 440.71 -228.90 L 440.93 -230.61 L 441.15 -230.43 L 441.36 -232.77 L 441.58 -230.34 L 441.80 -228.56 L 442.01 -228.18 L 442.23 -226.58 L 442.45 -225.78 L 442.66 -224.56 L 442.88 -226.34 L 443.10 -229.21 L 443.31 -229.02 L 443.53 -228.12 L 443.75 -223.32 L 443.97 -221.98 L 444.18 -223.96 L 444.40 -223.58 L 444.62 -226.42 L 444.83 -227.69 L 445.05 -226.92 L 445.27 -226.95 L 445.49 -228.16 L 445.70 -230.34 L 445.92 -230.37 L 446.14 -227.11 L 446.36 -225.66 L 446.58 -224.43 L 446.79 -221.22 L 447.01 -222.65 L 447.23 -222.77 L 447.45 -222.20 L 447.66 -220.53 L 447.88 -218.72 L 448.10 -214.96 L 448.32 -215.04 L 448.54 -215.50 L 448.75 -214.18 L 448.97 -211.87 L 449.19 -207.73 L 449.41 -202.05 L 449.63 -192.32 L 449.85 -161.98 L 450.07 -151.01 L 450.28 -172.24 L 450.50 -202.19 L 450.72 -202.37 L 450.94 -205.88 L 451.16 -209.85 L 451.38 -213.75 L 451.60 -214.74 L 451.82 -213.80 L 452.03 -211.40 L 452.25 -216.69 L 452.47 -220.39 L 452.69 -221.76 L 452.91 -220.49 L 453.13 -221.35 L 453.35 -223.42 L 453.57 -225.71 L 453.79 -225.11 L 454.01 -222.47 L 454.23 -223.64 L 454.45 -226.16 L 454.67 -227.21 L 454.89 -227.47 L 455.10 -226.80 L 455.32 -225.66 L 455.54 -223.72 L 455.76 -223.23 L 455.98 -220.28 L 456.20 -218.85 L 456.42 -226.32 L 456.64 -230.53 L 456.86 -230.17 L 457.08 -228.84 L 457.30 -226.94 L 457.52 -225.90 L 457.74 -226.54 L 457.97 -224.02 L 458.19 -223.46 L 458.41 -223.53 L 458.63 -225.62 L 458.85 -227.73 L 459.07 -227.91 L 459.29 -226.35 L 459.51 -225.49 L 459.73 -225.31 L 459.95 -224.07 L 460.17 -221.14 L 460.39 -221.62 L 460.61 -222.88 L 460.83 -221.79 L 461.06 -223.20 L 461.28 -223.78 L 461.50 -223.60 L 461.72 -225.54 L 461.94 -224.78 L 462.16 -223.63 L 462.38 -223.71 L 462.60 -223.27 L 462.83 -223.56 L 463.05 -226.80 L 463.27 -227.38 L 463.49 -225.78 L 463.71 -228.17 L 463.93 -228.12 L 464.16 -224.45 L 464.38 -223.17 L 464.60 -224.78 L 464.82 -223.95 L 465.04 -217.50 L 465.26 -213.45 L 465.49 -220.14 L 465.71 -225.13 L 465.93 -225.31 L 466.15 -222.80 L 466.38 -222.76 L 466.60 -222.57 L 466.82 -225.46 L 467.04 -227.24 L 467.27 -225.89 L 467.49 -224.08 L 467.71 -223.32 L 467.93 -224.24 L 468.16 -225.84 L 468.38 -224.99 L 468.60 -223.79 L 468.82 -223.84 L 469.05 -222.87 L 469.27 -222.86 L 469.49 -223.59 L 469.72 -225.99 L 469.94 -225.81 L 470.16 -221.89 L 470.39 -221.05 L 470.61 -222.82 L 470.83 -220.80 L 471.06 -220.01 L 471.28 -224.72 L 471.50 -222.60 L 471.73 -218.48 L 471.95 -221.72 L 472.17 -224.37 L 472.40 -223.93 L 472.62 -222.88 L 472.84 -221.76 L 473.07 -223.28 L 473.29 -223.58 L 473.52 -215.74 L 473.74 -212.46 L 473.96 -219.97 L 474.19 -223.52 L 474.41 -221.33 L 474.64 -221.29 L 474.86 -223.54 L 475.08 -224.69 L 475.31 -224.25 L 475.53 -223.71 L 475.76 -224.37 L 475.98 -225.06 L 476.21 -224.54 L 476.43 -224.43 L 476.66 -224.19 L 476.88 -225.23 L 477.10 -224.34 L 477.33 -221.10 L 477.55 -219.96 L 477.78 -220.50 L 478.00 -218.58 L 478.23 -218.14 L 478.45 -217.81 L 478.68 -219.90 L 478.90 -222.28 L 479.13 -221.69 L 479.36 -219.49 L 479.58 -219.93 L 479.81 -218.90 L 480.03 -218.32 L 480.26 -219.55 L 480.48 -219.90 L 480.71 -220.65 L 480.93 -218.19 L 481.16 -217.89 L 481.38 -219.70 L 481.61 -220.50 L 481.84 -220.97 L 482.06 -220.83 L 482.29 -220.59 L 482.51 -222.31 L 482.74 -222.65 L 482.97 -222.39 L 483.19 -222.70 L 483.42 -221.85 L 483.64 -218.82 L 483.87 -217.52 L 484.10 -218.45 L 484.32 -220.79 L 484.55 -221.78 L 484.78 -221.44 L 485.00 -222.37 L 485.23 -222.53 L 485.46 -222.15 L 485.68 -224.53 L 485.91 -224.73 L 486.14 -221.80 L 486.36 -220.75 L 486.59 -219.37 L 486.82 -216.76 L 487.04 -217.96 L 487.27 -218.71 L 487.50 -218.95 L 487.73 -220.78 L 487.95 -222.11 L 488.18 -219.90 L 488.41 -219.64 L 488.64 -220.02 L 488.86 -220.66 L 489.09 -220.64 L 489.32 -218.05 L 489.55 -216.95 L 489.77 -217.27 L 490.00 -217.61 L 490.23 -217.95 L 490.46 -217.75 L 490.68 -216.51 L 490.91 -216.27 L 491.14 -218.64 L 491.37 -219.92 L 491.60 -220.17 L 491.82 -219.19 L 492.05 -217.87 L 492.28 -219.38 L 492.51 -218.40 L 492.74 -217.43 L 492.97 -216.90 L 493.19 -218.06 L 493.42 -218.72 L 493.65 -218.49 L 493.88 -217.74 L 494.11 -217.36 L 494.34 -215.46 L 494.57 -217.60 L 494.79 -220.23 L 495.02 -220.30 L 495.25 -218.98 L 495.48 -217.81 L 495.71 -215.58 L 495.94 -214.80 L 496.17 -216.23 L 496.40 -217.69 L 496.63 -218.91 L 496.86 -219.61 L 497.09 -218.40 L 497.32 -216.98 L 497.54 -217.40 L 497.77 -216.77 L 498.00 -216.50 L 498.23 -214.85 L 498.46 -212.56 L 498.69 -213.66 L 498.92 -215.13 L 499.15 -217.63 L 499.38 -218.75 L 499.61 -221.04 L 499.84 -220.95 L 500.07 -218.83 L 500.30 -217.17 L 500.53 -217.27 L 500.76 -215.72 L 500.99 -212.06 L 501.22 -212.95 L 501.45 -215.33 L 501.68 -215.99 L 501.91 -213.50 L 502.14 -213.79 L 502.38 -215.96 L 502.61 -216.73 L 502.84 -216.62 L 503.07 -217.86 L 503.30 -216.50 L 503.53 -215.98 L 503.76 -215.43 L 503.99 -212.80 L 504.22 -210.37 L 504.45 -213.60 L 504.68 -215.87 L 504.91 -216.75 L 505.15 -215.29 L 505.38 -213.37 L 505.61 -213.92 L 505.84 -214.06 L 506.07 -213.78 L 506.30 -212.85 L 506.53 -214.62 L 506.77 -215.96 L 507.00 -214.44 L 507.23 -214.72 L 507.46 -216.73 L 507.69 -216.94 L 507.92 -215.22 L 508.16 -209.81 L 508.39 -204.10 L 508.62 -206.01 L 508.85 -210.21 L 509.08 -215.61 L 509.32 -216.08 L 509.55 -212.36 L 509.78 -212.10 L 510.01 -213.14 L 510.25 -212.58 L 510.48 -212.08 L 510.71 -213.55 L 510.94 -213.12 L 511.18 -213.77 L 511.41 -215.49 L 511.64 -215.01 L 511.87 -211.02 L 512.11 -209.30 L 512.34 -212.02 L 512.57 -215.44 L 512.81 -215.27 L 513.04 -213.76 L 513.27 -213.54 L 513.50 -215.71 L 513.74 -214.68 L 513.97 -210.71 L 514.20 -208.84 L 514.44 -210.12 L 514.67 -210.54 L 514.90 -210.17 L 515.14 -211.59 L 515.37 -212.29 L 515.60 -211.38 L 515.84 -212.01 L 516.07 -210.34 L 516.31 -207.62 L 516.54 -207.94 L 516.77 -209.89 L 517.01 -209.77 L 517.24 -208.95 L 517.48 -209.21 L 517.71 -209.90 L 517.94 -210.32 L 518.18 -207.38 L 518.41 -207.92 L 518.65 -211.67 L 518.88 -212.60 L 519.12 -213.24 L 519.35 -213.76 L 519.58 -210.46 L 519.82 -208.79 L 520.05 -211.02 L 520.29 -212.83 L 520.52 -211.67 L 520.76 -209.10 L 520.99 -209.46 L 521.23 -211.47 L 521.46 -211.23 L 521.70 -209.05 L 521.93 -208.47 L 522.17 -209.54 L 522.40 -210.40 L 522.64 -209.71 L 522.87 -210.83 L 523.11 -212.85 L 523.34 -213.03 L 523.58 -213.53 L 523.81 -213.61 L 524.05 -212.55 L 524.29 -211.23 L 524.52 -210.45 L 524.76 -208.45 L 524.99 -208.28 L 525.23 -209.77 L 525.46 -211.91 L 525.70 -213.20 L 525.94 -209.90 L 526.17 -206.46 L 526.41 -206.98 L 526.64 -207.69 L 526.88 -206.88 L 527.12 -205.87 L 527.35 -205.14 L 527.59 -207.08 L 527.83 -207.62 L 528.06 -203.17 L 528.30 -204.23 L 528.54 -206.14 L 528.77 -206.60 L 529.01 -206.39 L 529.25 -206.94 L 529.48 -209.54 L 529.72 -208.12 L 529.96 -204.35 L 530.19 -206.85 L 530.43 -208.20 L 530.67 -206.30 L 530.90 -206.50 L 531.14 -207.49 L 531.38 -208.81 L 531.62 -209.39 L 531.85 -209.18 L 532.09 -207.20 L 532.33 -205.73 L 532.57 -205.63 L 532.80 -207.00 L 533.04 -208.10 L 533.28 -208.45 L 533.52 -207.17 L 533.75 -206.54 L 533.99 -207.18 L 534.23 -207.39 L 534.47 -206.93 L 534.71 -205.92 L 534.94 -204.36 L 535.18 -205.98 L 535.42 -208.79 L 535.66 -206.64 L 535.90 -203.36 L 536.14 -203.78 L 536.37 -204.18 L 536.61 -205.68 L 536.85 -204.38 L 537.09 -203.33 L 537.33 -203.82 L 537.57 -205.89 L 537.81 -206.03 L 538.04 -207.00 L 538.28 -209.33 L 538.52 -208.86 L 538.76 -207.34 L 539.00 -205.96 L 539.24 -206.49 L 539.48 -206.87 L 539.72 -207.59 L 539.96 -208.96 L 540.20 -206.79 L 540.43 -203.94 L 540.67 -204.89 L 540.91 -205.00 L 541.15 -204.93 L 541.39 -201.09 L 541.63 -195.78 L 541.87 -196.88 L 542.11 -199.43 L 542.35 -200.36 L 542.59 -200.89 L 542.83 -201.71 L 543.07 -202.53 L 543.31 -202.94 L 543.55 -198.37 L 543.79 -193.80 L 544.03 -198.48 L 544.27 -203.59 L 544.51 -203.22 L 544.75 -203.30 L 544.99 -205.44 L 545.23 -205.28 L 545.47 -205.23 L 545.71 -205.62 L 545.95 -203.83 L 546.19 -202.31 L 546.44 -203.65 L 546.68 -203.94 L 546.92 -201.85 L 547.16 -200.56 L 547.40 -201.89 L 547.64 -198.96 L 547.88 -194.37 L 548.12 -196.01 L 548.36 -199.40 L 548.60 -200.71 L 548.85 -200.38 L 549.09 -201.96 L 549.33 -201.29 L 549.57 -200.69 L 549.81 -201.12 L 550.05 -201.31 L 550.29 -203.28 L 550.54 -202.71 L 550.78 -201.05 L 551.02 -198.61 L 551.26 -199.37 L 551.50 -200.95 L 551.74 -200.08 L 551.99 -195.03 L 552.23 -195.59 L 552.47 -199.46 L 552.71 -202.81 L 552.96 -201.72 L 553.20 -199.28 L 553.44 -198.64 L 553.68 -201.76 L 553.92 -202.05 L 554.17 -201.22 L 554.41 -201.35 L 554.65 -199.69 L 554.90 -197.02 L 555.14 -196.76 L 555.38 -198.75 L 555.62 -201.44 L 555.87 -202.82 L 556.11 -201.11 L 556.35 -197.90 L 556.60 -199.15 L 556.84 -200.59 L 557.08 -199.56 L 557.32 -199.88 L 557.57 -200.88 L 557.81 -200.85 L 558.05 -201.55 L 558.30 -202.22 L 558.54 -199.90 L 558.78 -198.48 L 559.03 -200.01 L 559.27 -199.87 L 559.52 -199.44 L 559.76 -197.87 L 560.00 -197.22 L 560.25 -198.12 L 560.49 -201.43 L 560.74 -201.77 L 560.98 -195.51 L 561.22 -192.24 L 561.47 -194.43 L 561.71 -199.52 L 561.96 -200.34 L 562.20 -198.23 L 562.44 -196.18 L 562.69 -199.36 L 562.93 -200.83 L 563.18 -200.33 L 563.42 -199.18 L 563.67 -198.61 L 563.91 -198.94 L 564.16 -197.36 L 564.40 -194.67 L 564.65 -196.07 L 564.89 -197.98 L 565.14 -199.24 L 565.38 -197.51 L 565.63 -196.59 L 565.87 -197.35 L 566.12 -198.24 L 566.36 -198.29 L 566.61 -199.65 L 566.85 -198.89 L 567.10 -195.94 L 567.34 -196.29 L 567.59 -197.02 L 567.84 -196.36 L 568.08 -197.27 L 568.33 -197.28 L 568.57 -196.62 L 568.82 -196.78 L 569.06 -196.78 L 569.31 -196.72 L 569.56 -195.53 L 569.80 -193.45 L 570.05 -195.68 L 570.29 -197.02 L 570.54 -199.55 L 570.79 -201.23 L 571.03 -200.55 L 571.28 -198.46 L 571.53 -197.86 L 571.77 -197.55 L 572.02 -197.25 L 572.27 -195.89 L 572.51 -195.63 L 572.76 -196.18 L 573.01 -195.89 L 573.25 -196.43 L 573.50 -197.03 L 573.75 -195.94 L 573.99 -194.25 L 574.24 -195.15 L 574.49 -195.92 L 574.74 -196.59 L 574.98 -197.79 L 575.23 -198.97 L 575.48 -197.32 L 575.73 -195.13 L 575.97 -194.98 L 576.22 -196.51 L 576.47 -195.64 L 576.72 -195.42 L 576.96 -197.40 L 577.21 -197.58 L 577.46 -195.35 L 577.71 -194.49 L 577.96 -195.13 L 578.20 -194.75 L 578.45 -194.13 L 578.70 -193.01 L 578.95 -194.76 L 579.20 -196.29 L 579.44 -192.95 L 579.69 -188.92 L 579.94 -193.07 L 580.19 -195.02 L 580.44 -191.20 L 580.69 -187.09 L 580.94 -188.78 L 581.18 -188.51 L 581.43 -189.72 L 581.68 -188.93 L 581.93 -191.70 L 582.18 -196.13 L 582.43 -196.95 L 582.68 -195.64 L 582.93 -193.91 L 583.18 -193.53 L 583.42 -192.42 L 583.67 -190.96 L 583.92 -194.11 L 584.17 -196.37 L 584.42 -196.09 L 584.67 -194.42 L 584.92 -192.45 L 585.17 -191.69 L 585.42 -192.69 L 585.67 -193.60 L 585.92 -192.93 L 586.17 -193.11 L 586.42 -194.46 L 586.67 -193.57 L 586.92 -192.37 L 587.17 -192.94 L 587.42 -192.87 L 587.67 -191.69 L 587.92 -191.46 L 588.17 -191.28 L 588.42 -190.13 L 588.67 -191.18 L 588.92 -191.17 L 589.17 -191.74 L 589.42 -191.24 L 589.67 -190.95 L 589.92 -190.60 L 590.18 -192.11 L 590.43 -192.35 L 590.68 -190.59 L 590.93 -188.88 L 591.18 -189.07 L 591.43 -190.77 L 591.68 -189.59 L 591.93 -189.51 L 592.18 -192.14 L 592.43 -194.00 L 592.69 -193.80 L 592.94 -190.48 L 593.19 -186.43 L 593.44 -187.20 L 593.69 -191.62 L 593.94 -192.99 L 594.20 -192.48 L 594.45 -190.56 L 594.70 -189.20 L 594.95 -188.68 L 595.20 -188.58 L 595.45 -188.58 L 595.71 -188.88 L 595.96 -190.42 L 596.21 -191.96 L 596.46 -190.91 L 596.72 -190.19 L 596.97 -192.39 L 597.22 -192.69 L 597.47 -190.08 L 597.73 -187.95 L 597.98 -188.92 L 598.23 -188.71 L 598.48 -185.50 L 598.74 -187.71 L 598.99 -188.43 L 599.24 -187.96 L 599.49 -186.15 L 599.75 -185.04 L 600.00 -188.50 L 600.25 -190.90 L 600.51 -189.73 L 600.76 -188.97 L 601.01 -188.75 L 601.27 -188.35 L 601.52 -187.08 L 601.77 -188.36 L 602.03 -190.57 L 602.28 -189.71 L 602.53 -187.47 L 602.79 -185.85 L 603.04 -182.85 L 603.30 -182.28 L 603.55 -184.76 L 603.80 -186.09 L 604.06 -187.98 L 604.31 -187.72 L 604.56 -185.05 L 604.82 -185.68 L 605.07 -187.26 L 605.33 -187.27 L 605.58 -188.59 L 605.84 -188.70 L 606.09 -184.61 L 606.35 -184.78 L 606.60 -186.83 L 606.85 -187.03 L 607.11 -185.87 L 607.36 -185.05 L 607.62 -186.19 L 607.87 -186.30 L 608.13 -186.15 L 608.38 -186.76 L 608.64 -187.52 L 608.89 -187.92 L 609.15 -184.45 L 609.40 -181.67 L 609.66 -183.66 L 609.91 -186.39 L 610.17 -187.27 L 610.42 -184.61 L 610.68 -180.79 L 610.94 -182.10 L 611.19 -184.63 L 611.45 -185.22 L 611.70 -185.54 L 611.96 -183.80 L 612.21 -181.77 L 612.47 -181.76 L 612.73 -180.54 L 612.98 -183.10 L 613.24 -184.41 L 613.49 -184.97 L 613.75 -186.43 L 614.01 -188.31 L 614.26 -187.06 L 614.52 -184.45 L 614.78 -181.29 L 615.03 -183.21 L 615.29 -185.38 L 615.55 -185.20 L 615.80 -184.07 L 616.06 -186.31 L 616.32 -187.78 L 616.57 -184.18 L 616.83 -181.20 L 617.09 -181.58 L 617.34 -184.20 L 617.60 -186.29 L 617.86 -185.61 L 618.12 -184.59 L 618.37 -182.03 L 618.63 -182.59 L 618.89 -183.45 L 619.14 -183.08 L 619.40 -183.15 L 619.66 -182.52 L 619.92 -182.70 L 620.18 -181.23 L 620.43 -181.51 L 620.69 -184.20 L 620.95 -184.48 L 621.21 -184.79 L 621.46 -186.18 L 621.72 -183.22 L 621.98 -177.96 L 622.24 -179.98 L 622.50 -183.22 L 622.76 -183.59 L 623.01 -184.03 L 623.27 -185.46 L 623.53 -185.17 L 623.79 -183.65 L 624.05 -182.14 L 624.31 -182.49 L 624.56 -183.93 L 624.82 -183.32 L 625.08 -182.36 L 625.34 -182.51 L 625.60 -181.98 L 625.86 -181.76 L 626.12 -182.36 L 626.38 -182.99 L 626.64 -182.74 L 626.90 -181.23 L 627.15 -180.78 L 627.41 -181.24 L 627.67 -181.22 L 627.93 -181.72 L 628.19 -181.01 L 628.45 -179.20 L 628.71 -177.52 L 628.97 -177.92 L 629.23 -179.99 L 629.49 -180.85 L 629.75 -182.80 L 630.01 -182.46 L 630.27 -181.44 L 630.53 -181.75 L 630.79 -181.94 L 631.05 -182.08 L 631.31 -180.05 L 631.57 -179.36 L 631.83 -180.31 L 632.09 -181.11 L 632.35 -180.50 L 632.61 -180.75 L 632.87 -182.51 L 633.13 -183.00 L 633.40 -181.21 L 633.66 -179.80 L 633.92 -180.52 L 634.18 -181.67 L 634.44 -180.14 L 634.70 -179.74 L 634.96 -179.85 L 635.22 -179.17 L 635.48 -179.39 L 635.74 -179.81 L 636.01 -179.46 L 636.27 -182.08 L 636.53 -181.80 L 636.79 -180.08 L 637.05 -179.63 L 637.31 -179.91 L 637.58 -179.18 L 637.84 -178.07 L 638.10 -178.24 L 638.36 -177.85 L 638.62 -177.27 L 638.88 -178.63 L 639.15 -179.89 L 639.41 -180.72 L 639.67 -179.32 L 639.93 -179.26 L 640.20 -179.05 L 640.46 -177.34 L 640.72 -176.79 L 640.98 -178.31 L 641.25 -179.12 L 641.51 -178.92 L 641.77 -178.84 L 642.03 -177.92 L 642.30 -179.91 L 642.56 -182.33 L 642.82 -181.52 L 643.08 -179.42 L 643.35 -178.41 L 643.61 -178.83 L 643.87 -178.86 L 644.14 -178.27 L 644.40 -179.11 L 644.66 -178.93 L 644.93 -179.20 L 645.19 -177.66 L 645.45 -174.96 L 645.72 -176.95 L 645.98 -178.57 L 646.24 -178.13 L 646.51 -178.25 L 646.77 -178.55 L 647.04 -175.79 L 647.30 -175.61 L 647.56 -178.04 L 647.83 -180.73 L 648.09 -180.40 L 648.36 -180.16 L 648.62 -177.54 L 648.88 -174.63 L 649.15 -175.46 L 649.41 -177.28 L 649.68 -178.63 L 649.94 -177.34 L 650.21 -177.19 L 650.47 -178.09 L 650.74 -178.93 L 651.00 -178.41 L 651.27 -177.86 L 651.53 -178.09 L 651.80 -177.83 L 652.06 -178.57 L 652.33 -178.82 L 652.59 -178.20 L 652.86 -177.42 L 653.12 -176.46 L 653.39 -176.42 L 653.65 -179.07 L 653.92 -179.26 L 654.18 -176.73 L 654.45 -174.67 L 654.71 -174.80 L 654.98 -174.62 L 655.25 -174.86 L 655.51 -176.49 L 655.78 -176.91 L 656.04 -176.91 L 656.31 -178.02 L 656.58 -177.33 L 656.84 -176.15 L 657.11 -176.34 L 657.37 -175.40 L 657.64 -175.57 L 657.91 -175.93 L 658.17 -176.74 L 658.44 -176.40 L 658.71 -175.50 L 658.97 -174.76 L 659.24 -173.85 L 659.51 -176.04 L 659.77 -177.42 L 660.04 -176.22 L 660.31 -175.36 L 660.57 -174.32 L 660.84 -174.63 L 661.11 -174.74 L 661.38 -176.54 L 661.64 -176.32 L 661.91 -175.84 L 662.18 -176.84 L 662.44 -177.82 L 662.71 -178.12 L 662.98 -177.43 L 663.25 -176.40 L 663.51 -173.98 L 663.78 -171.80 L 664.05 -171.76 L 664.32 -174.98 L 664.59 -174.72 L 664.85 -175.33 L 665.12 -176.25 L 665.39 -174.88 L 665.66 -173.10 L 665.93 -172.39 L 666.19 -172.97 L 666.46 -174.08 L 666.73 -175.60 L 667.00 -175.36 L 667.27 -174.38 L 667.54 -174.09 L 667.81 -172.44 L 668.07 -172.40 L 668.34 -171.57 L 668.61 -171.54 L 668.88 -172.40 L 669.15 -174.40 L 669.42 -174.68 L 669.69 -172.27 L 669.96 -171.22 L 670.23 -171.07 L 670.50 -171.53 L 670.76 -171.99 L 671.03 -173.01 L 671.30 -174.53 L 671.57 -174.27 L 671.84 -172.72 L 672.11 -172.25 L 672.38 -173.91 L 672.65 -173.00 L 672.92 -171.26 L 673.19 -172.31 L 673.46 -172.23 L 673.73 -170.70 L 674.00 -172.14 L 674.27 -173.03 L 674.54 -172.83 L 674.81 -172.24 L 675.08 -168.20 L 675.35 -164.33 L 675.62 -168.78 L 675.89 -173.45 L 676.16 -175.00 L 676.43 -173.88 L 676.71 -172.90 L 676.98 -171.04 L 677.25 -167.41 L 677.52 -168.70 L 677.79 -170.44 L 678.06 -170.46 L 678.33 -172.86 L 678.60 -174.40 L 678.87 -173.16 L 679.14 -171.36 L 679.42 -170.22 L 679.69 -171.40 L 679.96 -172.97 L 680.23 -172.68 L 680.50 -173.01 L 680.77 -171.55 L 681.04 -168.75 L 681.32 -170.76 L 681.59 -171.83 L 681.86 -169.62 L 682.13 -169.33 L 682.40 -170.68 L 682.68 -172.50 L 682.95 -172.42 L 683.22 -170.47 L 683.49 -170.03 L 683.77 -172.13 L 684.04 -172.49 L 684.31 -170.98 L 684.58 -172.32 L 684.86 -172.42 L 685.13 -172.16 L 685.40 -170.61 L 685.67 -169.40 L 685.95 -170.25 L 686.22 -171.87 L 686.49 -171.61 L 686.76 -168.68 L 687.04 -168.72 L 687.31 -170.84 L 687.58 -172.67 L 687.86 -172.26 L 688.13 -171.80 L 688.40 -171.87 L 688.68 -171.63 L 688.95 -171.37 L 689.22 -171.77 L 689.50 -171.90 L 689.77 -171.93 L 690.05 -172.04 L 690.32 -170.08 L 690.59 -168.86 L 690.87 -168.39 L 691.14 -169.19 L 691.42 -170.26 L 691.69 -169.45 L 691.96 -168.67 L 692.24 -167.67 L 692.51 -165.76 L 692.79 -166.97 L 693.06 -168.27 L 693.34 -167.74 L 693.61 -168.08 L 693.89 -168.94 L 694.16 -169.01 L 694.43 -165.24 L 694.71 -163.28 L 694.98 -164.91 L 695.26 -165.95 L 695.53 -166.00 L 695.81 -167.54 L 696.08 -167.28 L 696.36 -166.01 L 696.64 -167.49 L 696.91 -169.19 L 697.19 -169.62 L 697.46 -169.66 L 697.74 -171.09 L 698.01 -169.81 L 698.29 -167.74 L 698.56 -169.15 L 698.84 -170.05 L 699.12 -167.94 L 699.39 -166.64 L 699.67 -166.92 L 699.94 -167.42 L 700.22 -168.29 L 700.50 -168.26 L 700.77 -167.62 L 701.05 -166.28 L 701.32 -167.01 L 701.60 -168.52 L 701.88 -167.33 L 702.15 -165.59 L 702.43 -165.52 L 702.71 -166.74 L 702.98 -167.92 L 703.26 -168.06 L 703.54 -167.43 L 703.81 -166.82 L 704.09 -167.15 L 704.37 -165.14 L 704.65 -161.69 L 704.92 -165.05 L 705.20 -167.17 L 705.48 -166.57 L 705.76 -167.45 L 706.03 -167.20 L 706.31 -166.53 L 706.59 -167.80 L 706.87 -167.68 L 707.14 -164.63 L 707.42 -165.87 L 707.70 -167.84 L 707.98 -166.73 L 708.25 -164.79 L 708.53 -165.06 L 708.81 -164.88 L 709.09 -165.29 L 709.37 -164.20 L 709.65 -163.87 L 709.92 -164.27 L 710.20 -164.45 L 710.48 -163.91 L 710.76 -163.51 L 711.04 -163.32 L 711.32 -165.82 L 711.59 -164.81 L 711.87 -163.71 L 712.15 -163.84 L 712.43 -165.13 L 712.71 -166.80 L 712.99 -165.77 L 713.27 -164.12 L 713.55 -164.34 L 713.83 -165.80 L 714.11 -166.92 L 714.39 -165.26 L 714.67 -164.69 L 714.94 -167.11 L 715.22 -168.64 L 715.50 -166.19 L 715.78 -163.01 L 716.06 -163.64 L 716.34 -163.12 L 716.62 -158.48 L 716.90 -158.47 L 717.18 -162.21 L 717.46 -163.47 L 717.74 -163.80 L 718.02 -164.52 L 718.30 -164.29 L 718.58 -163.85 L 718.86 -161.58 L 719.14 -158.78 L 719.43 -157.01 L 719.71 -160.35 L 719.99 -163.52 L 720.27 -162.38 L 720.55 -162.62 L 720.83 -164.63 L 721.11 -164.47 L 721.39 -164.92 L 721.67 -164.33 L 721.95 -161.93 L 722.23 -162.65 L 722.52 -162.73 L 722.80 -163.39 L 723.08 -163.99 L 723.36 -164.03 L 723.64 -163.22 L 723.92 -163.21 L 724.20 -163.67 L 724.49 -163.35 L 724.77 -161.91 L 725.05 -163.30 L 725.33 -162.58 L 725.61 -162.37 L 725.90 -163.86 L 726.18 -164.04 L 726.46 -163.00 L 726.74 -164.19 L 727.02 -163.95 L 727.31 -163.47 L 727.59 -161.53 L 727.87 -158.20 L 728.15 -158.59 L 728.44 -160.21 L 728.72 -161.33 L 729.00 -160.19 L 729.28 -156.27 L 729.57 -149.51 L 729.85 -152.55 L 730.13 -159.81 L 730.42 -162.23 L 730.70 -161.62 L 730.98 -160.10 L 731.27 -159.58 L 731.55 -160.88 L 731.83 -160.81 L 732.12 -160.25 L 732.40 -160.10 L 732.68 -161.31 L 732.97 -163.88 L 733.25 -162.13 L 733.53 -159.62 L 733.82 -160.32 L 734.10 -160.88 L 734.39 -160.39 L 734.67 -160.54 L 734.95 -159.91 L 735.24 -160.56 L 735.52 -159.85 L 735.81 -154.25 L 736.09 -139.29 L 736.38 -129.70 L 736.66 -143.60 L 736.94 -156.35 L 737.23 -160.33 L 737.51 -162.31 L 737.80 -161.55 L 738.08 -160.11 L 738.37 -161.28 L 738.65 -160.16 L 738.94 -159.37 L 739.22 -160.57 L 739.51 -161.14 L 739.79 -158.84 L 740.08 -157.09 L 740.36 -159.00 L 740.65 -160.48 L 740.94 -161.48 L 741.22 -160.93 L 741.51 -159.18 L 741.79 -158.72 L 742.08 -159.80 L 742.36 -160.26 L 742.65 -159.73 L 742.94 -160.15 L 743.22 -160.26 L 743.51 -160.50 L 743.79 -160.26 L 744.08 -160.01 L 744.37 -158.94 L 744.65 -159.55 L 744.94 -160.32 L 745.23 -158.13 L 745.51 -157.95 L 745.80 -160.59 L 746.09 -161.31 L 746.37 -161.02 L 746.66 -159.04 L 746.95 -158.37 L 747.23 -157.83 L 747.52 -156.90 L 747.81 -157.95 L 748.09 -158.90 L 748.38 -157.30 L 748.67 -157.14 L 748.96 -158.19 L 749.24 -160.85 L 749.53 -161.38 L 749.82 -159.29 L 750.11 -158.06 L 750.39 -158.47 L 750.68 -157.59 L 750.97 -158.12 L 751.26 -160.57 L 751.54 -159.92 L 751.83 -157.68 L 752.12 -158.01 L 752.41 -159.67 L 752.70 -160.31 L 752.99 -158.37 L 753.27 -147.85 L 753.56 -132.32 L 753.85 -137.69 L 754.14 -152.57 L 754.43 -158.46 L 754.72 -159.27 L 755.00 -159.06 L 755.29 -159.98 L 755.58 -159.65 L 755.87 -157.18 L 756.16 -158.21 L 756.45 -160.38 L 756.74 -160.41 L 757.03 -159.11 L 757.32 -158.31 L 757.61 -156.69 L 757.90 -156.83 L 758.18 -157.64 L 758.47 -158.88 L 758.76 -160.38 L 759.05 -160.62 L 759.34 -159.55 L 759.63 -158.60 L 759.92 -159.34 L 760.21 -161.49 L 760.50 -159.47 L 760.79 -158.90 L 761.08 -159.31 L 761.37 -156.16 L 761.66 -154.22 L 761.95 -156.89 L 762.24 -159.69 L 762.53 -160.67 L 762.83 -160.17 L 763.12 -157.16 L 763.41 -153.50 L 763.70 -155.65 L 763.99 -155.80 L 764.28 -155.06 L 764.57 -155.68 L 764.86 -155.12 L 765.15 -154.96 L 765.44 -155.30 L 765.73 -156.48 L 766.03 -156.99 L 766.32 -156.15 L 766.61 -156.04 L 766.90 -155.04 L 767.19 -153.34 L 767.48 -156.18 L 767.77 -158.01 L 768.07 -157.52 L 768.36 -157.69 L 768.65 -156.70 L 768.94 -154.46 L 769.23 -154.28 L 769.53 -155.23 L 769.82 -156.93 L 770.11 -156.86 L 770.40 -154.82 L 770.69 -155.81 L 770.99 -156.57 L 771.28 -156.74 L 771.57 -156.02 L 771.86 -155.97 L 772.16 -155.73 L 772.45 -155.59 L 772.74 -154.35 L 773.04 -154.10 L 773.33 -155.34 L 773.62 -154.06 L 773.91 -153.88 L 774.21 -154.96 L 774.50 -156.02 L 774.79 -156.37 L 775.09 -156.27 L 775.38 -153.28 L 775.67 -153.75 L 775.97 -157.48 L 776.26 -156.28 L 776.56 -154.97 L 776.85 -154.88 L 777.14 -155.06 L 777.44 -155.06 L 777.73 -152.87 L 778.02 -151.08 L 778.32 -152.88 L 778.61 -155.53 L 778.91 -156.48 L 779.20 -155.66 L 779.50 -155.20 L 779.79 -153.18 L 780.08 -151.83 L 780.38 -153.29 L 780.67 -155.46 L 780.97 -155.86 L 781.26 -154.70 L 781.56 -154.60 L 781.85 -153.73 L 782.15 -153.82 L 782.44 -153.89 L 782.74 -152.39 L 783.03 -152.93 L 783.33 -152.19 L 783.62 -151.77 L 783.92 -153.60 L 784.21 -154.12 L 784.51 -153.12 L 784.81 -152.57 L 785.10 -151.67 L 785.40 -151.52 L 785.69 -152.29 L 785.99 -152.04 L 786.28 -152.25 L 786.58 -153.62 L 786.88 -154.68 L 787.17 -154.00 L 787.47 -152.66 L 787.77 -152.96 L 788.06 -154.07 L 788.36 -153.99 L 788.65 -151.74 L 788.95 -151.22 L 789.25 -151.59 L 789.54 -152.18 L 789.84 -153.24 L 790.14 -155.22 L 790.43 -154.49 L 790.73 -152.27 L 791.03 -152.73 L 791.33 -151.96 L 791.62 -150.15 L 791.92 -149.83 L 792.22 -150.00 L 792.51 -150.89 L 792.81 -152.32 L 793.11 -152.84 L 793.41 -153.86 L 793.71 -152.83 L 794.00 -150.94 L 794.30 -151.06 L 794.60 -153.03 L 794.90 -151.92 L 795.19 -151.05 L 795.49 -150.71 L 795.79 -150.94 L 796.09 -148.54 L 796.39 -148.02 L 796.69 -149.70 L 796.98 -149.87 L 797.28 -151.48 L 797.58 -152.83 L 797.88 -151.32 L 798.18 -150.25 L 798.48 -150.02 L 798.78 -153.18 L 799.07 -152.58 L 799.37 -151.64 L 799.67 -151.07 L 799.97 -150.96 L 800.27 -151.59 L 800.57 -150.09 L 800.87 -148.84 L 801.17 -149.27 L 801.47 -149.91 L 801.77 -150.48 L 802.07 -150.24 L 802.37 -149.01 L 802.67 -149.58 L 802.97 -151.92 L 803.27 -151.66 L 803.57 -151.70 L 803.87 -150.71 L 804.17 -150.15 L 804.47 -148.77 L 804.77 -147.53 L 805.07 -148.22 L 805.37 -149.55 L 805.67 -151.57 L 805.97 -151.34 L 806.27 -149.24 L 806.57 -148.45 L 806.87 -145.17 L 807.17 -137.55 L 807.47 -139.49 L 807.77 -146.52 L 808.07 -146.91 L 808.37 -149.06 L 808.67 -150.43 L 808.98 -150.45 L 809.28 -149.76 L 809.58 -148.99 L 809.88 -147.90 L 810.18 -146.92 L 810.48 -146.46 L 810.78 -148.64 L 811.09 -149.54 L 811.39 -149.65 L 811.69 -151.49 L 811.99 -152.33 L 812.29 -151.86 L 812.59 -149.89 L 812.90 -149.18 L 813.20 -149.54 L 813.50 -150.56 L 813.80 -150.79 L 814.11 -148.80 L 814.41 -147.59 L 814.71 -146.49 L 815.01 -147.61 L 815.32 -150.02 L 815.62 -151.11 L 815.92 -149.16 L 816.22 -145.56 L 816.53 -143.86 L 816.83 -145.38 L 817.13 -148.23 L 817.44 -148.29 L 817.74 -144.17 L 818.04 -145.26 L 818.35 -147.29 L 818.65 -148.23 L 818.95 -147.20 L 819.26 -145.03 L 819.56 -146.91 L 819.86 -148.41 L 820.17 -149.65 L 820.47 -149.74 L 820.77 -146.26 L 821.08 -143.55 L 821.38 -144.52 L 821.69 -146.57 L 821.99 -148.26 L 822.29 -148.97 L 822.60 -148.64 L 822.90 -147.69 L 823.21 -146.02 L 823.51 -146.99 L 823.82 -147.77 L 824.12 -146.49 L 824.43 -147.01 L 824.73 -147.98 L 825.04 -148.12 L 825.34 -146.32 L 825.65 -145.24 L 825.95 -146.63 L 826.26 -147.78 L 826.56 -147.97 L 826.87 -147.65 L 827.17 -147.51 L 827.48 -147.18 L 827.78 -148.10 L 828.09 -148.48 L 828.39 -144.90 L 828.70 -145.02 L 829.00 -146.63 L 829.31 -146.97 L 829.62 -146.18 L 829.92 -146.63 L 830.23 -146.85 L 830.53 -148.63 L 830.84 -149.04 L 831.15 -145.85 L 831.45 -144.40 L 831.76 -147.80 L 832.07 -149.73 L 832.37 -146.53 L 832.68 -143.42 L 832.99 -145.02 L 833.29 -148.05 L 833.29 -55.31 L 833.29 -55.31 L 832.99 -55.31 L 832.68 -55.31 L 832.37 -55.31 L 832.07 -55.31 L 831.76 -55.31 L 831.45 -55.31 L 831.15 -55.31 L 830.84 -55.31 L 830.53 -55.31 L 830.23 -55.31 L 829.92 -55.31 L 829.62 -55.31 L 829.31 -55.31 L 829.00 -55.31 L 828.70 -55.31 L 828.39 -55.31 L 828.09 -55.31 L 827.78 -55.31 L 827.48 -55.31 L 827.17 -55.31 L 826.87 -55.31 L 826.56 -55.31 L 826.26 -55.31 L 825.95 -55.31 L 825.65 -55.31 L 825.34 -55.31 L 825.04 -55.31 L 824.73 -55.31 L 824.43 -55.31 L 824.12 -55.31 L 823.82 -55.31 L 823.51 -55.31 L 823.21 -55.31 L 822.90 -55.31 L 822.60 -55.31 L 822.29 -55.31 L 821.99 -55.31 L 821.69 -55.31 L 821.38 -55.31 L 821.08 -55.31 L 820.77 -55.31 L 820.47 -55.31 L 820.17 -55.31 L 819.86 -55.31 L 819.56 -55.31 L 819.26 -55.31 L 818.95 -55.31 L 818.65 -55.31 L 818.35 -55.31 L 818.04 -55.31 L 817.74 -55.31 L 817.44 -55.31 L 817.13 -55.31 L 816.83 -55.31 L 816.53 -55.31 L 816.22 -55.31 L 815.92 -55.31 L 815.62 -55.31 L 815.32 -55.31 L 815.01 -55.31 L 814.71 -55.31 L 814.41 -55.31 L 814.11 -55.31 L 813.80 -55.31 L 813.50 -55.31 L 813.20 -55.31 L 812.90 -55.31 L 812.59 -55.31 L 812.29 -55.31 L 811.99 -55.31 L 811.69 -55.31 L 811.39 -55.31 L 811.09 -55.31 L 810.78 -55.31 L 810.48 -55.31 L 810.18 -55.31 L 809.88 -55.31 L 809.58 -55.31 L 809.28 -55.31 L 808.98 -55.31 L 808.67 -55.31 L 808.37 -55.31 L 808.07 -55.31 L 807.77 -55.31 L 807.47 -55.31 L 807.17 -55.31 L 806.87 -55.31 L 806.57 -55.31 L 806.27 -55.31 L 805.97 -55.31 L 805.67 -55.31 L 805.37 -55.31 L 805.07 -55.31 L 804.77 -55.31 L 804.47 -55.31 L 804.17 -55.31 L 803.87 -55.31 L 803.57 -55.31 L 803.27 -55.31 L 802.97 -55.31 L 802.67 -55.31 L 802.37 -55.31 L 802.07 -55.31 L 801.77 -55.31 L 801.47 -55.31 L 801.17 -55.31 L 800.87 -55.31 L 800.57 -55.31 L 800.27 -55.31 L 799.97 -55.31 L 799.67 -55.31 L 799.37 -55.31 L 799.07 -55.31 L 798.78 -55.31 L 798.48 -55.31 L 798.18 -55.31 L 797.88 -55.31 L 797.58 -55.31 L 797.28 -55.31 L 796.98 -55.31 L 796.69 -55.31 L 796.39 -55.31 L 796.09 -55.31 L 795.79 -55.31 L 795.49 -55.31 L 795.19 -55.31 L 794.90 -55.31 L 794.60 -55.31 L 794.30 -55.31 L 794.00 -55.31 L 793.71 -55.31 L 793.41 -55.31 L 793.11 -55.31 L 792.81 -55.31 L 792.51 -55.31 L 792.22 -55.31 L 791.92 -55.31 L 791.62 -55.31 L 791.33 -55.31 L 791.03 -55.31 L 790.73 -55.31 L 790.43 -55.31 L 790.14 -55.31 L 789.84 -55.31 L 789.54 -55.31 L 789.25 -55.31 L 788.95 -55.31 L 788.65 -55.31 L 788.36 -55.31 L 788.06 -55.31 L 787.77 -55.31 L 787.47 -55.31 L 787.17 -55.31 L 786.88 -55.31 L 786.58 -55.31 L 786.28 -55.31 L 785.99 -55.31 L 785.69 -55.31 L 785.40 -55.31 L 785.10 -55.31 L 784.81 -55.31 L 784.51 -55.31 L 784.21 -55.31 L 783.92 -55.31 L 783.62 -55.31 L 783.33 -55.31 L 783.03 -55.31 L 782.74 -55.31 L 782.44 -55.31 L 782.15 -55.31 L 781.85 -55.31 L 781.56 -55.31 L 781.26 -55.31 L 780.97 -55.31 L 780.67 -55.31 L 780.38 -55.31 L 780.08 -55.31 L 779.79 -55.31 L 779.50 -55.31 L 779.20 -55.31 L 778.91 -55.31 L 778.61 -55.31 L 778.32 -55.31 L 778.02 -55.31 L 777.73 -55.31 L 777.44 -55.31 L 777.14 -55.31 L 776.85 -55.31 L 776.56 -55.31 L 776.26 -55.31 L 775.97 -55.31 L 775.67 -55.31 L 775.38 -55.31 L 775.09 -55.31 L 774.79 -55.31 L 774.50 -55.31 L 774.21 -55.31 L 773.91 -55.31 L 773.62 -55.31 L 773.33 -55.31 L 773.04 -55.31 L 772.74 -55.31 L 772.45 -55.31 L 772.16 -55.31 L 771.86 -55.31 L 771.57 -55.31 L 771.28 -55.31 L 770.99 -55.31 L 770.69 -55.31 L 770.40 -55.31 L 770.11 -55.31 L 769.82 -55.31 L 769.53 -55.31 L 769.23 -55.31 L 768.94 -55.31 L 768.65 -55.31 L 768.36 -55.31 L 768.07 -55.31 L 767.77 -55.31 L 767.48 -55.31 L 767.19 -55.31 L 766.90 -55.31 L 766.61 -55.31 L 766.32 -55.31 L 766.03 -55.31 L 765.73 -55.31 L 765.44 -55.31 L 765.15 -55.31 L 764.86 -55.31 L 764.57 -55.31 L 764.28 -55.31 L 763.99 -55.31 L 763.70 -55.31 L 763.41 -55.31 L 763.12 -55.31 L 762.83 -55.31 L 762.53 -55.31 L 762.24 -55.31 L 761.95 -55.31 L 761.66 -55.31 L 761.37 -55.31 L 761.08 -55.31 L 760.79 -55.31 L 760.50 -55.31 L 760.21 -55.31 L 759.92 -55.31 L 759.63 -55.31 L 759.34 -55.31 L 759.05 -55.31 L 758.76 -55.31 L 758.47 -55.31 L 758.18 -55.31 L 757.90 -55.31 L 757.61 -55.31 L 757.32 -55.31 L 757.03 -55.31 L 756.74 -55.31 L 756.45 -55.31 L 756.16 -55.31 L 755.87 -55.31 L 755.58 -55.31 L 755.29 -55.31 L 755.00 -55.31 L 754.72 -55.31 L 754.43 -55.31 L 754.14 -55.31 L 753.85 -55.31 L 753.56 -55.31 L 753.27 -55.31 L 752.99 -55.31 L 752.70 -55.31 L 752.41 -55.31 L 752.12 -55.31 L 751.83 -55.31 L 751.54 -55.31 L 751.26 -55.31 L 750.97 -55.31 L 750.68 -55.31 L 750.39 -55.31 L 750.11 -55.31 L 749.82 -55.31 L 749.53 -55.31 L 749.24 -55.31 L 748.96 -55.31 L 748.67 -55.31 L 748.38 -55.31 L 748.09 -55.31 L 747.81 -55.31 L 747.52 -55.31 L 747.23 -55.31 L 746.95 -55.31 L 746.66 -55.31 L 746.37 -55.31 L 746.09 -55.31 L 745.80 -55.31 L 745.51 -55.31 L 745.23 -55.31 L 744.94 -55.31 L 744.65 -55.31 L 744.37 -55.31 L 744.08 -55.31 L 743.79 -55.31 L 743.51 -55.31 L 743.22 -55.31 L 742.94 -55.31 L 742.65 -55.31 L 742.36 -55.31 L 742.08 -55.31 L 741.79 -55.31 L 741.51 -55.31 L 741.22 -55.31 L 740.94 -55.31 L 740.65 -55.31 L 740.36 -55.31 L 740.08 -55.31 L 739.79 -55.31 L 739.51 -55.31 L 739.22 -55.31 L 738.94 -55.31 L 738.65 -55.31 L 738.37 -55.31 L 738.08 -55.31 L 737.80 -55.31 L 737.51 -55.31 L 737.23 -55.31 L 736.94 -55.31 L 736.66 -55.31 L 736.38 -55.31 L 736.09 -55.31 L 735.81 -55.31 L 735.52 -55.31 L 735.24 -55.31 L 734.95 -55.31 L 734.67 -55.31 L 734.39 -55.31 L 734.10 -55.31 L 733.82 -55.31 L 733.53 -55.31 L 733.25 -55.31 L 732.97 -55.31 L 732.68 -55.31 L 732.40 -55.31 L 732.12 -55.31 L 731.83 -55.31 L 731.55 -55.31 L 731.27 -55.31 L 730.98 -55.31 L 730.70 -55.31 L 730.42 -55.31 L 730.13 -55.31 L 729.85 -55.31 L 729.57 -55.31 L 729.28 -55.31 L 729.00 -55.31 L 728.72 -55.31 L 728.44 -55.31 L 728.15 -55.31 L 727.87 -55.31 L 727.59 -55.31 L 727.31 -55.31 L 727.02 -55.31 L 726.74 -55.31 L 726.46 -55.31 L 726.18 -55.31 L 725.90 -55.31 L 725.61 -55.31 L 725.33 -55.31 L 725.05 -55.31 L 724.77 -55.31 L 724.49 -55.31 L 724.20 -55.31 L 723.92 -55.31 L 723.64 -55.31 L 723.36 -55.31 L 723.08 -55.31 L 722.80 -55.31 L 722.52 -55.31 L 722.23 -55.31 L 721.95 -55.31 L 721.67 -55.31 L 721.39 -55.31 L 721.11 -55.31 L 720.83 -55.31 L 720.55 -55.31 L 720.27 -55.31 L 719.99 -55.31 L 719.71 -55.31 L 719.43 -55.31 L 719.14 -55.31 L 718.86 -55.31 L 718.58 -55.31 L 718.30 -55.31 L 718.02 -55.31 L 717.74 -55.31 L 717.46 -55.31 L 717.18 -55.31 L 716.90 -55.31 L 716.62 -55.31 L 716.34 -55.31 L 716.06 -55.31 L 715.78 -55.31 L 715.50 -55.31 L 715.22 -55.31 L 714.94 -55.31 L 714.67 -55.31 L 714.39 -55.31 L 714.11 -55.31 L 713.83 -55.31 L 713.55 -55.31 L 713.27 -55.31 L 712.99 -55.31 L 712.71 -55.31 L 712.43 -55.31 L 712.15 -55.31 L 711.87 -55.31 L 711.59 -55.31 L 711.32 -55.31 L 711.04 -55.31 L 710.76 -55.31 L 710.48 -55.31 L 710.20 -55.31 L 709.92 -55.31 L 709.65 -55.31 L 709.37 -55.31 L 709.09 -55.31 L 708.81 -55.31 L 708.53 -55.31 L 708.25 -55.31 L 707.98 -55.31 L 707.70 -55.31 L 707.42 -55.31 L 707.14 -55.31 L 706.87 -55.31 L 706.59 -55.31 L 706.31 -55.31 L 706.03 -55.31 L 705.76 -55.31 L 705.48 -55.31 L 705.20 -55.31 L 704.92 -55.31 L 704.65 -55.31 L 704.37 -55.31 L 704.09 -55.31 L 703.81 -55.31 L 703.54 -55.31 L 703.26 -55.31 L 702.98 -55.31 L 702.71 -55.31 L 702.43 -55.31 L 702.15 -55.31 L 701.88 -55.31 L 701.60 -55.31 L 701.32 -55.31 L 701.05 -55.31 L 700.77 -55.31 L 700.50 -55.31 L 700.22 -55.31 L 699.94 -55.31 L 699.67 -55.31 L 699.39 -55.31 L 699.12 -55.31 L 698.84 -55.31 L 698.56 -55.31 L 698.29 -55.31 L 698.01 -55.31 L 697.74 -55.31 L 697.46 -55.31 L 697.19 -55.31 L 696.91 -55.31 L 696.64 -55.31 L 696.36 -55.31 L 696.08 -55.31 L 695.81 -55.31 L 695.53 -55.31 L 695.26 -55.31 L 694.98 -55.31 L 694.71 -55.31 L 694.43 -55.31 L 694.16 -55.31 L 693.89 -55.31 L 693.61 -55.31 L 693.34 -55.31 L 693.06 -55.31 L 692.79 -55.31 L 692.51 -55.31 L 692.24 -55.31 L 691.96 -55.31 L 691.69 -55.31 L 691.42 -55.31 L 691.14 -55.31 L 690.87 -55.31 L 690.59 -55.31 L 690.32 -55.31 L 690.05 -55.31 L 689.77 -55.31 L 689.50 -55.31 L 689.22 -55.31 L 688.95 -55.31 L 688.68 -55.31 L 688.40 -55.31 L 688.13 -55.31 L 687.86 -55.31 L 687.58 -55.31 L 687.31 -55.31 L 687.04 -55.31 L 686.76 -55.31 L 686.49 -55.31 L 686.22 -55.31 L 685.95 -55.31 L 685.67 -55.31 L 685.40 -55.31 L 685.13 -55.31 L 684.86 -55.31 L 684.58 -55.31 L 684.31 -55.31 L 684.04 -55.31 L 683.77 -55.31 L 683.49 -55.31 L 683.22 -55.31 L 682.95 -55.31 L 682.68 -55.31 L 682.40 -55.31 L 682.13 -55.31 L 681.86 -55.31 L 681.59 -55.31 L 681.32 -55.31 L 681.04 -55.31 L 680.77 -55.31 L 680.50 -55.31 L 680.23 -55.31 L 679.96 -55.31 L 679.69 -55.31 L 679.42 -55.31 L 679.14 -55.31 L 678.87 -55.31 L 678.60 -55.31 L 678.33 -55.31 L 678.06 -55.31 L 677.79 -55.31 L 677.52 -55.31 L 677.25 -55.31 L 676.98 -55.31 L 676.71 -55.31 L 676.43 -55.31 L 676.16 -55.31 L 675.89 -55.31 L 675.62 -55.31 L 675.35 -55.31 L 675.08 -55.31 L 674.81 -55.31 L 674.54 -55.31 L 674.27 -55.31 L 674.00 -55.31 L 673.73 -55.31 L 673.46 -55.31 L 673.19 -55.31 L 672.92 -55.31 L 672.65 -55.31 L 672.38 -55.31 L 672.11 -55.31 L 671.84 -55.31 L 671.57 -55.31 L 671.30 -55.31 L 671.03 -55.31 L 670.76 -55.31 L 670.50 -55.31 L 670.23 -55.31 L 669.96 -55.31 L 669.69 -55.31 L 669.42 -55.31 L 669.15 -55.31 L 668.88 -55.31 L 668.61 -55.31 L 668.34 -55.31 L 668.07 -55.31 L 667.81 -55.31 L 667.54 -55.31 L 667.27 -55.31 L 667.00 -55.31 L 666.73 -55.31 L 666.46 -55.31 L 666.19 -55.31 L 665.93 -55.31 L 665.66 -55.31 L 665.39 -55.31 L 665.12 -55.31 L 664.85 -55.31 L 664.59 -55.31 L 664.32 -55.31 L 664.05 -55.31 L 663.78 -55.31 L 663.51 -55.31 L 663.25 -55.31 L 662.98 -55.31 L 662.71 -55.31 L 662.44 -55.31 L 662.18 -55.31 L 661.91 -55.31 L 661.64 -55.31 L 661.38 -55.31 L 661.11 -55.31 L 660.84 -55.31 L 660.57 -55.31 L 660.31 -55.31 L 660.04 -55.31 L 659.77 -55.31 L 659.51 -55.31 L 659.24 -55.31 L 658.97 -55.31 L 658.71 -55.31 L 658.44 -55.31 L 658.17 -55.31 L 657.91 -55.31 L 657.64 -55.31 L 657.37 -55.31 L 657.11 -55.31 L 656.84 -55.31 L 656.58 -55.31 L 656.31 -55.31 L 656.04 -55.31 L 655.78 -55.31 L 655.51 -55.31 L 655.25 -55.31 L 654.98 -55.31 L 654.71 -55.31 L 654.45 -55.31 L 654.18 -55.31 L 653.92 -55.31 L 653.65 -55.31 L 653.39 -55.31 L 653.12 -55.31 L 652.86 -55.31 L 652.59 -55.31 L 652.33 -55.31 L 652.06 -55.31 L 651.80 -55.31 L 651.53 -55.31 L 651.27 -55.31 L 651.00 -55.31 L 650.74 -55.31 L 650.47 -55.31 L 650.21 -55.31 L 649.94 -55.31 L 649.68 -55.31 L 649.41 -55.31 L 649.15 -55.31 L 648.88 -55.31 L 648.62 -55.31 L 648.36 -55.31 L 648.09 -55.31 L 647.83 -55.31 L 647.56 -55.31 L 647.30 -55.31 L 647.04 -55.31 L 646.77 -55.31 L 646.51 -55.31 L 646.24 -55.31 L 645.98 -55.31 L 645.72 -55.31 L 645.45 -55.31 L 645.19 -55.31 L 644.93 -55.31 L 644.66 -55.31 L 644.40 -55.31 L 644.14 -55.31 L 643.87 -55.31 L 643.61 -55.31 L 643.35 -55.31 L 643.08 -55.31 L 642.82 -55.31 L 642.56 -55.31 L 642.30 -55.31 L 642.03 -55.31 L 641.77 -55.31 L 641.51 -55.31 L 641.25 -55.31 L 640.98 -55.31 L 640.72 -55.31 L 640.46 -55.31 L 640.20 -55.31 L 639.93 -55.31 L 639.67 -55.31 L 639.41 -55.31 L 639.15 -55.31 L 638.88 -55.31 L 638.62 -55.31 L 638.36 -55.31 L 638.10 -55.31 L 637.84 -55.31 L 637.58 -55.31 L 637.31 -55.31 L 637.05 -55.31 L 636.79 -55.31 L 636.53 -55.31 L 636.27 -55.31 L 636.01 -55.31 L 635.74 -55.31 L 635.48 -55.31 L 635.22 -55.31 L 634.96 -55.31 L 634.70 -55.31 L 634.44 -55.31 L 634.18 -55.31 L 633.92 -55.31 L 633.66 -55.31 L 633.40 -55.31 L 633.13 -55.31 L 632.87 -55.31 L 632.61 -55.31 L 632.35 -55.31 L 632.09 -55.31 L 631.83 -55.31 L 631.57 -55.31 L 631.31 -55.31 L 631.05 -55.31 L 630.79 -55.31 L 630.53 -55.31 L 630.27 -55.31 L 630.01 -55.31 L 629.75 -55.31 L 629.49 -55.31 L 629.23 -55.31 L 628.97 -55.31 L 628.71 -55.31 L 628.45 -55.31 L 628.19 -55.31 L 627.93 -55.31 L 627.67 -55.31 L 627.41 -55.31 L 627.15 -55.31 L 626.90 -55.31 L 626.64 -55.31 L 626.38 -55.31 L 626.12 -55.31 L 625.86 -55.31 L 625.60 -55.31 L 625.34 -55.31 L 625.08 -55.31 L 624.82 -55.31 L 624.56 -55.31 L 624.31 -55.31 L 624.05 -55.31 L 623.79 -55.31 L 623.53 -55.31 L 623.27 -55.31 L 623.01 -55.31 L 622.76 -55.31 L 622.50 -55.31 L 622.24 -55.31 L 621.98 -55.31 L 621.72 -55.31 L 621.46 -55.31 L 621.21 -55.31 L 620.95 -55.31 L 620.69 -55.31 L 620.43 -55.31 L 620.18 -55.31 L 619.92 -55.31 L 619.66 -55.31 L 619.40 -55.31 L 619.14 -55.31 L 618.89 -55.31 L 618.63 -55.31 L 618.37 -55.31 L 618.12 -55.31 L 617.86 -55.31 L 617.60 -55.31 L 617.34 -55.31 L 617.09 -55.31 L 616.83 -55.31 L 616.57 -55.31 L 616.32 -55.31 L 616.06 -55.31 L 615.80 -55.31 L 615.55 -55.31 L 615.29 -55.31 L 615.03 -55.31 L 614.78 -55.31 L 614.52 -55.31 L 614.26 -55.31 L 614.01 -55.31 L 613.75 -55.31 L 613.49 -55.31 L 613.24 -55.31 L 612.98 -55.31 L 612.73 -55.31 L 612.47 -55.31 L 612.21 -55.31 L 611.96 -55.31 L 611.70 -55.31 L 611.45 -55.31 L 611.19 -55.31 L 610.94 -55.31 L 610.68 -55.31 L 610.42 -55.31 L 610.17 -55.31 L 609.91 -55.31 L 609.66 -55.31 L 609.40 -55.31 L 609.15 -55.31 L 608.89 -55.31 L 608.64 -55.31 L 608.38 -55.31 L 608.13 -55.31 L 607.87 -55.31 L 607.62 -55.31 L 607.36 -55.31 L 607.11 -55.31 L 606.85 -55.31 L 606.60 -55.31 L 606.35 -55.31 L 606.09 -55.31 L 605.84 -55.31 L 605.58 -55.31 L 605.33 -55.31 L 605.07 -55.31 L 604.82 -55.31 L 604.56 -55.31 L 604.31 -55.31 L 604.06 -55.31 L 603.80 -55.31 L 603.55 -55.31 L 603.30 -55.31 L 603.04 -55.31 L 602.79 -55.31 L 602.53 -55.31 L 602.28 -55.31 L 602.03 -55.31 L 601.77 -55.31 L 601.52 -55.31 L 601.27 -55.31 L 601.01 -55.31 L 600.76 -55.31 L 600.51 -55.31 L 600.25 -55.31 L 600.00 -55.31 L 599.75 -55.31 L 599.49 -55.31 L 599.24 -55.31 L 598.99 -55.31 L 598.74 -55.31 L 598.48 -55.31 L 598.23 -55.31 L 597.98 -55.31 L 597.73 -55.31 L 597.47 -55.31 L 597.22 -55.31 L 596.97 -55.31 L 596.72 -55.31 L 596.46 -55.31 L 596.21 -55.31 L 595.96 -55.31 L 595.71 -55.31 L 595.45 -55.31 L 595.20 -55.31 L 594.95 -55.31 L 594.70 -55.31 L 594.45 -55.31 L 594.20 -55.31 L 593.94 -55.31 L 593.69 -55.31 L 593.44 -55.31 L 593.19 -55.31 L 592.94 -55.31 L 592.69 -55.31 L 592.43 -55.31 L 592.18 -55.31 L 591.93 -55.31 L 591.68 -55.31 L 591.43 -55.31 L 591.18 -55.31 L 590.93 -55.31 L 590.68 -55.31 L 590.43 -55.31 L 590.18 -55.31 L 589.92 -55.31 L 589.67 -55.31 L 589.42 -55.31 L 589.17 -55.31 L 588.92 -55.31 L 588.67 -55.31 L 588.42 -55.31 L 588.17 -55.31 L 587.92 -55.31 L 587.67 -55.31 L 587.42 -55.31 L 587.17 -55.31 L 586.92 -55.31 L 586.67 -55.31 L 586.42 -55.31 L 586.17 -55.31 L 585.92 -55.31 L 585.67 -55.31 L 585.42 -55.31 L 585.17 -55.31 L 584.92 -55.31 L 584.67 -55.31 L 584.42 -55.31 L 584.17 -55.31 L 583.92 -55.31 L 583.67 -55.31 L 583.42 -55.31 L 583.18 -55.31 L 582.93 -55.31 L 582.68 -55.31 L 582.43 -55.31 L 582.18 -55.31 L 581.93 -55.31 L 581.68 -55.31 L 581.43 -55.31 L 581.18 -55.31 L 580.94 -55.31 L 580.69 -55.31 L 580.44 -55.31 L 580.19 -55.31 L 579.94 -55.31 L 579.69 -55.31 L 579.44 -55.31 L 579.20 -55.31 L 578.95 -55.31 L 578.70 -55.31 L 578.45 -55.31 L 578.20 -55.31 L 577.96 -55.31 L 577.71 -55.31 L 577.46 -55.31 L 577.21 -55.31 L 576.96 -55.31 L 576.72 -55.31 L 576.47 -55.31 L 576.22 -55.31 L 575.97 -55.31 L 575.73 -55.31 L 575.48 -55.31 L 575.23 -55.31 L 574.98 -55.31 L 574.74 -55.31 L 574.49 -55.31 L 574.24 -55.31 L 573.99 -55.31 L 573.75 -55.31 L 573.50 -55.31 L 573.25 -55.31 L 573.01 -55.31 L 572.76 -55.31 L 572.51 -55.31 L 572.27 -55.31 L 572.02 -55.31 L 571.77 -55.31 L 571.53 -55.31 L 571.28 -55.31 L 571.03 -55.31 L 570.79 -55.31 L 570.54 -55.31 L 570.29 -55.31 L 570.05 -55.31 L 569.80 -55.31 L 569.56 -55.31 L 569.31 -55.31 L 569.06 -55.31 L 568.82 -55.31 L 568.57 -55.31 L 568.33 -55.31 L 568.08 -55.31 L 567.84 -55.31 L 567.59 -55.31 L 567.34 -55.31 L 567.10 -55.31 L 566.85 -55.31 L 566.61 -55.31 L 566.36 -55.31 L 566.12 -55.31 L 565.87 -55.31 L 565.63 -55.31 L 565.38 -55.31 L 565.14 -55.31 L 564.89 -55.31 L 564.65 -55.31 L 564.40 -55.31 L 564.16 -55.31 L 563.91 -55.31 L 563.67 -55.31 L 563.42 -55.31 L 563.18 -55.31 L 562.93 -55.31 L 562.69 -55.31 L 562.44 -55.31 L 562.20 -55.31 L 561.96 -55.31 L 561.71 -55.31 L 561.47 -55.31 L 561.22 -55.31 L 560.98 -55.31 L 560.74 -55.31 L 560.49 -55.31 L 560.25 -55.31 L 560.00 -55.31 L 559.76 -55.31 L 559.52 -55.31 L 559.27 -55.31 L 559.03 -55.31 L 558.78 -55.31 L 558.54 -55.31 L 558.30 -55.31 L 558.05 -55.31 L 557.81 -55.31 L 557.57 -55.31 L 557.32 -55.31 L 557.08 -55.31 L 556.84 -55.31 L 556.60 -55.31 L 556.35 -55.31 L 556.11 -55.31 L 555.87 -55.31 L 555.62 -55.31 L 555.38 -55.31 L 555.14 -55.31 L 554.90 -55.31 L 554.65 -55.31 L 554.41 -55.31 L 554.17 -55.31 L 553.92 -55.31 L 553.68 -55.31 L 553.44 -55.31 L 553.20 -55.31 L 552.96 -55.31 L 552.71 -55.31 L 552.47 -55.31 L 552.23 -55.31 L 551.99 -55.31 L 551.74 -55.31 L 551.50 -55.31 L 551.26 -55.31 L 551.02 -55.31 L 550.78 -55.31 L 550.54 -55.31 L 550.29 -55.31 L 550.05 -55.31 L 549.81 -55.31 L 549.57 -55.31 L 549.33 -55.31 L 549.09 -55.31 L 548.85 -55.31 L 548.60 -55.31 L 548.36 -55.31 L 548.12 -55.31 L 547.88 -55.31 L 547.64 -55.31 L 547.40 -55.31 L 547.16 -55.31 L 546.92 -55.31 L 546.68 -55.31 L 546.44 -55.31 L 546.19 -55.31 L 545.95 -55.31 L 545.71 -55.31 L 545.47 -55.31 L 545.23 -55.31 L 544.99 -55.31 L 544.75 -55.31 L 544.51 -55.31 L 544.27 -55.31 L 544.03 -55.31 L 543.79 -55.31 L 543.55 -55.31 L 543.31 -55.31 L 543.07 -55.31 L 542.83 -55.31 L 542.59 -55.31 L 542.35 -55.31 L 542.11 -55.31 L 541.87 -55.31 L 541.63 -55.31 L 541.39 -55.31 L 541.15 -55.31 L 540.91 -55.31 L 540.67 -55.31 L 540.43 -55.31 L 540.20 -55.31 L 539.96 -55.31 L 539.72 -55.31 L 539.48 -55.31 L 539.24 -55.31 L 539.00 -55.31 L 538.76 -55.31 L 538.52 -55.31 L 538.28 -55.31 L 538.04 -55.31 L 537.81 -55.31 L 537.57 -55.31 L 537.33 -55.31 L 537.09 -55.31 L 536.85 -55.31 L 536.61 -55.31 L 536.37 -55.31 L 536.14 -55.31 L 535.90 -55.31 L 535.66 -55.31 L 535.42 -55.31 L 535.18 -55.31 L 534.94 -55.31 L 534.71 -55.31 L 534.47 -55.31 L 534.23 -55.31 L 533.99 -55.31 L 533.75 -55.31 L 533.52 -55.31 L 533.28 -55.31 L 533.04 -55.31 L 532.80 -55.31 L 532.57 -55.31 L 532.33 -55.31 L 532.09 -55.31 L 531.85 -55.31 L 531.62 -55.31 L 531.38 -55.31 L 531.14 -55.31 L 530.90 -55.31 L 530.67 -55.31 L 530.43 -55.31 L 530.19 -55.31 L 529.96 -55.31 L 529.72 -55.31 L 529.48 -55.31 L 529.25 -55.31 L 529.01 -55.31 L 528.77 -55.31 L 528.54 -55.31 L 528.30 -55.31 L 528.06 -55.31 L 527.83 -55.31 L 527.59 -55.31 L 527.35 -55.31 L 527.12 -55.31 L 526.88 -55.31 L 526.64 -55.31 L 526.41 -55.31 L 526.17 -55.31 L 525.94 -55.31 L 525.70 -55.31 L 525.46 -55.31 L 525.23 -55.31 L 524.99 -55.31 L 524.76 -55.31 L 524.52 -55.31 L 524.29 -55.31 L 524.05 -55.31 L 523.81 -55.31 L 523.58 -55.31 L 523.34 -55.31 L 523.11 -55.31 L 522.87 -55.31 L 522.64 -55.31 L 522.40 -55.31 L 522.17 -55.31 L 521.93 -55.31 L 521.70 -55.31 L 521.46 -55.31 L 521.23 -55.31 L 520.99 -55.31 L 520.76 -55.31 L 520.52 -55.31 L 520.29 -55.31 L 520.05 -55.31 L 519.82 -55.31 L 519.58 -55.31 L 519.35 -55.31 L 519.12 -55.31 L 518.88 -55.31 L 518.65 -55.31 L 518.41 -55.31 L 518.18 -55.31 L 517.94 -55.31 L 517.71 -55.31 L 517.48 -55.31 L 517.24 -55.31 L 517.01 -55.31 L 516.77 -55.31 L 516.54 -55.31 L 516.31 -55.31 L 516.07 -55.31 L 515.84 -55.31 L 515.60 -55.31 L 515.37 -55.31 L 515.14 -55.31 L 514.90 -55.31 L 514.67 -55.31 L 514.44 -55.31 L 514.20 -55.31 L 513.97 -55.31 L 513.74 -55.31 L 513.50 -55.31 L 513.27 -55.31 L 513.04 -55.31 L 512.81 -55.31 L 512.57 -55.31 L 512.34 -55.31 L 512.11 -55.31 L 511.87 -55.31 L 511.64 -55.31 L 511.41 -55.31 L 511.18 -55.31 L 510.94 -55.31 L 510.71 -55.31 L 510.48 -55.31 L 510.25 -55.31 L 510.01 -55.31 L 509.78 -55.31 L 509.55 -55.31 L 509.32 -55.31 L 509.08 -55.31 L 508.85 -55.31 L 508.62 -55.31 L 508.39 -55.31 L 508.16 -55.31 L 507.92 -55.31 L 507.69 -55.31 L 507.46 -55.31 L 507.23 -55.31 L 507.00 -55.31 L 506.77 -55.31 L 506.53 -55.31 L 506.30 -55.31 L 506.07 -55.31 L 505.84 -55.31 L 505.61 -55.31 L 505.38 -55.31 L 505.15 -55.31 L 504.91 -55.31 L 504.68 -55.31 L 504.45 -55.31 L 504.22 -55.31 L 503.99 -55.31 L 503.76 -55.31 L 503.53 -55.31 L 503.30 -55.31 L 503.07 -55.31 L 502.84 -55.31 L 502.61 -55.31 L 502.38 -55.31 L 502.14 -55.31 L 501.91 -55.31 L 501.68 -55.31 L 501.45 -55.31 L 501.22 -55.31 L 500.99 -55.31 L 500.76 -55.31 L 500.53 -55.31 L 500.30 -55.31 L 500.07 -55.31 L 499.84 -55.31 L 499.61 -55.31 L 499.38 -55.31 L 499.15 -55.31 L 498.92 -55.31 L 498.69 -55.31 L 498.46 -55.31 L 498.23 -55.31 L 498.00 -55.31 L 497.77 -55.31 L 497.54 -55.31 L 497.32 -55.31 L 497.09 -55.31 L 496.86 -55.31 L 496.63 -55.31 L 496.40 -55.31 L 496.17 -55.31 L 495.94 -55.31 L 495.71 -55.31 L 495.48 -55.31 L 495.25 -55.31 L 495.02 -55.31 L 494.79 -55.31 L 494.57 -55.31 L 494.34 -55.31 L 494.11 -55.31 L 493.88 -55.31 L 493.65 -55.31 L 493.42 -55.31 L 493.19 -55.31 L 492.97 -55.31 L 492.74 -55.31 L 492.51 -55.31 L 492.28 -55.31 L 492.05 -55.31 L 491.82 -55.31 L 491.60 -55.31 L 491.37 -55.31 L 491.14 -55.31 L 490.91 -55.31 L 490.68 -55.31 L 490.46 -55.31 L 490.23 -55.31 L 490.00 -55.31 L 489.77 -55.31 L 489.55 -55.31 L 489.32 -55.31 L 489.09 -55.31 L 488.86 -55.31 L 488.64 -55.31 L 488.41 -55.31 L 488.18 -55.31 L 487.95 -55.31 L 487.73 -55.31 L 487.50 -55.31 L 487.27 -55.31 L 487.04 -55.31 L 486.82 -55.31 L 486.59 -55.31 L 486.36 -55.31 L 486.14 -55.31 L 485.91 -55.31 L 485.68 -55.31 L 485.46 -55.31 L 485.23 -55.31 L 485.00 -55.31 L 484.78 -55.31 L 484.55 -55.31 L 484.32 -55.31 L 484.10 -55.31 L 483.87 -55.31 L 483.64 -55.31 L 483.42 -55.31 L 483.19 -55.31 L 482.97 -55.31 L 482.74 -55.31 L 482.51 -55.31 L 482.29 -55.31 L 482.06 -55.31 L 481.84 -55.31 L 481.61 -55.31 L 481.38 -55.31 L 481.16 -55.31 L 480.93 -55.31 L 480.71 -55.31 L 480.48 -55.31 L 480.26 -55.31 L 480.03 -55.31 L 479.81 -55.31 L 479.58 -55.31 L 479.36 -55.31 L 479.13 -55.31 L 478.90 -55.31 L 478.68 -55.31 L 478.45 -55.31 L 478.23 -55.31 L 478.00 -55.31 L 477.78 -55.31 L 477.55 -55.31 L 477.33 -55.31 L 477.10 -55.31 L 476.88 -55.31 L 476.66 -55.31 L 476.43 -55.31 L 476.21 -55.31 L 475.98 -55.31 L 475.76 -55.31 L 475.53 -55.31 L 475.31 -55.31 L 475.08 -55.31 L 474.86 -55.31 L 474.64 -55.31 L 474.41 -55.31 L 474.19 -55.31 L 473.96 -55.31 L 473.74 -55.31 L 473.52 -55.31 L 473.29 -55.31 L 473.07 -55.31 L 472.84 -55.31 L 472.62 -55.31 L 472.40 -55.31 L 472.17 -55.31 L 471.95 -55.31 L 471.73 -55.31 L 471.50 -55.31 L 471.28 -55.31 L 471.06 -55.31 L 470.83 -55.31 L 470.61 -55.31 L 470.39 -55.31 L 470.16 -55.31 L 469.94 -55.31 L 469.72 -55.31 L 469.49 -55.31 L 469.27 -55.31 L 469.05 -55.31 L 468.82 -55.31 L 468.60 -55.31 L 468.38 -55.31 L 468.16 -55.31 L 467.93 -55.31 L 467.71 -55.31 L 467.49 -55.31 L 467.27 -55.31 L 467.04 -55.31 L 466.82 -55.31 L 466.60 -55.31 L 466.38 -55.31 L 466.15 -55.31 L 465.93 -55.31 L 465.71 -55.31 L 465.49 -55.31 L 465.26 -55.31 L 465.04 -55.31 L 464.82 -55.31 L 464.60 -55.31 L 464.38 -55.31 L 464.16 -55.31 L 463.93 -55.31 L 463.71 -55.31 L 463.49 -55.31 L 463.27 -55.31 L 463.05 -55.31 L 462.83 -55.31 L 462.60 -55.31 L 462.38 -55.31 L 462.16 -55.31 L 461.94 -55.31 L 461.72 -55.31 L 461.50 -55.31 L 461.28 -55.31 L 461.06 -55.31 L 460.83 -55.31 L 460.61 -55.31 L 460.39 -55.31 L 460.17 -55.31 L 459.95 -55.31 L 459.73 -55.31 L 459.51 -55.31 L 459.29 -55.31 L 459.07 -55.31 L 458.85 -55.31 L 458.63 -55.31 L 458.41 -55.31 L 458.19 -55.31 L 457.97 -55.31 L 457.74 -55.31 L 457.52 -55.31 L 457.30 -55.31 L 457.08 -55.31 L 456.86 -55.31 L 456.64 -55.31 L 456.42 -55.31 L 456.20 -55.31 L 455.98 -55.31 L 455.76 -55.31 L 455.54 -55.31 L 455.32 -55.31 L 455.10 -55.31 L 454.89 -55.31 L 454.67 -55.31 L 454.45 -55.31 L 454.23 -55.31 L 454.01 -55.31 L 453.79 -55.31 L 453.57 -55.31 L 453.35 -55.31 L 453.13 -55.31 L 452.91 -55.31 L 452.69 -55.31 L 452.47 -55.31 L 452.25 -55.31 L 452.03 -55.31 L 451.82 -55.31 L 451.60 -55.31 L 451.38 -55.31 L 451.16 -55.31 L 450.94 -55.31 L 450.72 -55.31 L 450.50 -55.31 L 450.28 -55.31 L 450.07 -55.31 L 449.85 -55.31 L 449.63 -55.31 L 449.41 -55.31 L 449.19 -55.31 L 448.97 -55.31 L 448.75 -55.31 L 448.54 -55.31 L 448.32 -55.31 L 448.10 -55.31 L 447.88 -55.31 L 447.66 -55.31 L 447.45 -55.31 L 447.23 -55.31 L 447.01 -55.31 L 446.79 -55.31 L 446.58 -55.31 L 446.36 -55.31 L 446.14 -55.31 L 445.92 -55.31 L 445.70 -55.31 L 445.49 -55.31 L 445.27 -55.31 L 445.05 -55.31 L 444.83 -55.31 L 444.62 -55.31 L 444.40 -55.31 L 444.18 -55.31 L 443.97 -55.31 L 443.75 -55.31 L 443.53 -55.31 L 443.31 -55.31 L 443.10 -55.31 L 442.88 -55.31 L 442.66 -55.31 L 442.45 -55.31 L 442.23 -55.31 L 442.01 -55.31 L 441.80 -55.31 L 441.58 -55.31 L 441.36 -55.31 L 441.15 -55.31 L 440.93 -55.31 L 440.71 -55.31 L 440.50 -55.31 L 440.28 -55.31 L 440.07 -55.31 L 439.85 -55.31 L 439.63 -55.31 L 439.42 -55.31 L 439.20 -55.31 L 438.99 -55.31 L 438.77 -55.31 L 438.55 -55.31 L 438.34 -55.31 L 438.12 -55.31 L 437.91 -55.31 L 437.69 -55.31 L 437.47 -55.31 L 437.26 -55.31 L 437.04 -55.31 L 436.83 -55.31 L 436.61 -55.31 L 436.40 -55.31 L 436.18 -55.31 L 435.97 -55.31 L 435.75 -55.31 L 435.54 -55.31 L 435.32 -55.31 L 435.11 -55.31 L 434.89 -55.31 L 434.68 -55.31 L 434.46 -55.31 L 434.25 -55.31 L 434.03 -55.31 L 433.82 -55.31 L 433.60 -55.31 L 433.39 -55.31 L 433.17 -55.31 L 432.96 -55.31 L 432.74 -55.31 L 432.53 -55.31 L 432.31 -55.31 L 432.10 -55.31 L 431.88 -55.31 L 431.67 -55.31 L 431.46 -55.31 L 431.24 -55.31 L 431.03 -55.31 L 430.81 -55.31 L 430.60 -55.31 L 430.39 -55.31 L 430.17 -55.31 L 429.96 -55.31 L 429.74 -55.31 L 429.53 -55.31 L 429.32 -55.31 L 429.10 -55.31 L 428.89 -55.31 L 428.67 -55.31 L 428.46 -55.31 L 428.25 -55.31 L 428.03 -55.31 L 427.82 -55.31 L 427.61 -55.31 L 427.39 -55.31 L 427.18 -55.31 L 426.97 -55.31 L 426.75 -55.31 L 426.54 -55.31 L 426.33 -55.31 L 426.12 -55.31 L 425.90 -55.31 L 425.69 -55.31 L 425.48 -55.31 L 425.26 -55.31 L 425.05 -55.31 L 424.84 -55.31 L 424.63 -55.31 L 424.41 -55.31 L 424.20 -55.31 L 423.99 -55.31 L 423.77 -55.31 L 423.56 -55.31 L 423.35 -55.31 L 423.14 -55.31 L 422.93 -55.31 L 422.71 -55.31 L 422.50 -55.31 L 422.29 -55.31 L 422.08 -55.31 L 421.86 -55.31 L 421.65 -55.31 L 421.44 -55.31 L 421.23 -55.31 L 421.02 -55.31 L 420.80 -55.31 L 420.59 -55.31 L 420.38 -55.31 L 420.17 -55.31 L 419.96 -55.31 L 419.75 -55.31 L 419.53 -55.31 L 419.32 -55.31 L 419.11 -55.31 L 418.90 -55.31 L 418.69 -55.31 L 418.48 -55.31 L 418.27 -55.31 L 418.06 -55.31 L 417.84 -55.31 L 417.63 -55.31 L 417.42 -55.31 L 417.21 -55.31 L 417.00 -55.31 L 416.79 -55.31 L 416.58 -55.31 L 416.37 -55.31 L 416.16 -55.31 L 415.95 -55.31 L 415.74 -55.31 L 415.53 -55.31 L 415.31 -55.31 L 415.10 -55.31 L 414.89 -55.31 L 414.68 -55.31 L 414.47 -55.31 L 414.26 -55.31 L 414.05 -55.31 L 413.84 -55.31 L 413.63 -55.31 L 413.42 -55.31 L 413.21 -55.31 L 413.00 -55.31 L 412.79 -55.31 L 412.58 -55.31 L 412.37 -55.31 L 412.16 -55.31 L 411.95 -55.31 L 411.74 -55.31 L 411.53 -55.31 L 411.32 -55.31 L 411.11 -55.31 L 410.90 -55.31 L 410.69 -55.31 L 410.49 -55.31 L 410.28 -55.31 L 410.07 -55.31 L 409.86 -55.31 L 409.65 -55.31 L 409.44 -55.31 L 409.23 -55.31 L 409.02 -55.31 L 408.81 -55.31 L 408.60 -55.31 L 408.39 -55.31 L 408.18 -55.31 L 407.98 -55.31 L 407.77 -55.31 L 407.56 -55.31 L 407.35 -55.31 L 407.14 -55.31 L 406.93 -55.31 L 406.72 -55.31 L 406.51 -55.31 L 406.31 -55.31 L 406.10 -55.31 L 405.89 -55.31 L 405.68 -55.31 L 405.47 -55.31 L 405.26 -55.31 L 405.06 -55.31 L 404.85 -55.31 L 404.64 -55.31 L 404.43 -55.31 L 404.22 -55.31 L 404.02 -55.31 L 403.81 -55.31 L 403.60 -55.31 L 403.39 -55.31 L 403.18 -55.31 L 402.98 -55.31 L 402.77 -55.31 L 402.56 -55.31 L 402.35 -55.31 L 402.15 -55.31 L 401.94 -55.31 L 401.73 -55.31 L 401.52 -55.31 L 401.32 -55.31 L 401.11 -55.31 L 400.90 -55.31 L 400.70 -55.31 L 400.49 -55.31 L 400.28 -55.31 L 400.07 -55.31 L 399.87 -55.31 L 399.66 -55.31 L 399.45 -55.31 L 399.25 -55.31 L 399.04 -55.31 L 398.83 -55.31 L 398.63 -55.31 L 398.42 -55.31 L 398.21 -55.31 L 398.01 -55.31 L 397.80 -55.31 L 397.59 -55.31 L 397.39 -55.31 L 397.18 -55.31 L 396.97 -55.31 L 396.77 -55.31 L 396.56 -55.31 L 396.36 -55.31 L 396.15 -55.31 L 395.94 -55.31 L 395.74 -55.31 L 395.53 -55.31 L 395.32 -55.31 L 395.12 -55.31 L 394.91 -55.31 L 394.71 -55.31 L 394.50 -55.31 L 394.30 -55.31 L 394.09 -55.31 L 393.88 -55.31 L 393.68 -55.31 L 393.47 -55.31 L 393.27 -55.31 L 393.06 -55.31 L 392.86 -55.31 L 392.65 -55.31 L 392.45 -55.31 L 392.24 -55.31 L 392.04 -55.31 L 391.83 -55.31 L 391.63 -55.31 L 391.42 -55.31 L 391.22 -55.31 L 391.01 -55.31 L 390.81 -55.31 L 390.60 -55.31 L 390.40 -55.31 L 390.19 -55.31 L 389.99 -55.31 L 389.78 -55.31 L 389.58 -55.31 L 389.37 -55.31 L 389.17 -55.31 L 388.96 -55.31 L 388.76 -55.31 L 388.55 -55.31 L 388.35 -55.31 L 388.15 -55.31 L 387.94 -55.31 L 387.74 -55.31 L 387.53 -55.31 L 387.33 -55.31 L 387.13 -55.31 L 386.92 -55.31 L 386.72 -55.31 L 386.51 -55.31 L 386.31 -55.31 L 386.11 -55.31 L 385.90 -55.31 L 385.70 -55.31 L 385.49 -55.31 L 385.29 -55.31 L 385.09 -55.31 L 384.88 -55.31 L 384.68 -55.31 L 384.48 -55.31 L 384.27 -55.31 L 384.07 -55.31 L 383.87 -55.31 L 383.66 -55.31 L 383.46 -55.31 L 383.26 -55.31 L 383.05 -55.31 L 382.85 -55.31 L 382.65 -55.31 L 382.44 -55.31 L 382.24 -55.31 L 382.04 -55.31 L 381.84 -55.31 L 381.63 -55.31 L 381.43 -55.31 L 381.23 -55.31 L 381.03 -55.31 L 380.82 -55.31 L 380.62 -55.31 L 380.42 -55.31 L 380.22 -55.31 L 380.01 -55.31 L 379.81 -55.31 L 379.61 -55.31 L 379.41 -55.31 L 379.20 -55.31 L 379.00 -55.31 L 378.80 -55.31 L 378.60 -55.31 L 378.39 -55.31 L 378.19 -55.31 L 377.99 -55.31 L 377.79 -55.31 L 377.59 -55.31 L 377.39 -55.31 L 377.18 -55.31 L 376.98 -55.31 L 376.78 -55.31 L 376.58 -55.31 L 376.38 -55.31 L 376.18 -55.31 L 375.97 -55.31 L 375.77 -55.31 L 375.57 -55.31 L 375.37 -55.31 L 375.17 -55.31 L 374.97 -55.31 L 374.77 -55.31 L 374.56 -55.31 L 374.36 -55.31 L 374.16 -55.31 L 373.96 -55.31 L 373.76 -55.31 L 373.56 -55.31 L 373.36 -55.31 L 373.16 -55.31 L 372.96 -55.31 L 372.76 -55.31 L 372.56 -55.31 L 372.35 -55.31 L 372.15 -55.31 L 371.95 -55.31 L 371.75 -55.31 L 371.55 -55.31 L 371.35 -55.31 L 371.15 -55.31 L 370.95 -55.31 L 370.75 -55.31 L 370.55 -55.31 L 370.35 -55.31 L 370.15 -55.31 L 369.95 -55.31 L 369.75 -55.31 L 369.55 -55.31 L 369.35 -55.31 L 369.15 -55.31 L 368.95 -55.31 L 368.75 -55.31 L 368.55 -55.31 L 368.35 -55.31 L 368.15 -55.31 L 367.95 -55.31 L 367.75 -55.31 L 367.55 -55.31 L 367.35 -55.31 L 367.15 -55.31 L 366.95 -55.31 L 366.75 -55.31 L 366.56 -55.31 L 366.36 -55.31 L 366.16 -55.31 L 365.96 -55.31 L 365.76 -55.31 L 365.56 -55.31 L 365.36 -55.31 L 365.16 -55.31 L 364.96 -55.31 L 364.76 -55.31 L 364.56 -55.31 L 364.37 -55.31 L 364.17 -55.31 L 363.97 -55.31 L 363.77 -55.31 L 363.57 -55.31 L 363.37 -55.31 L 363.17 -55.31 L 362.98 -55.31 L 362.78 -55.31 L 362.58 -55.31 L 362.38 -55.31 L 362.18 -55.31 L 361.98 -55.31 L 361.79 -55.31 L 361.59 -55.31 L 361.39 -55.31 L 361.19 -55.31 L 360.99 -55.31 L 360.79 -55.31 L 360.60 -55.31 L 360.40 -55.31 L 360.20 -55.31 L 360.00 -55.31 L 359.81 -55.31 L 359.61 -55.31 L 359.41 -55.31 L 359.21 -55.31 L 359.01 -55.31 L 358.82 -55.31 L 358.62 -55.31 L 358.42 -55.31 L 358.22 -55.31 L 358.03 -55.31 L 357.83 -55.31 L 357.63 -55.31 L 357.44 -55.31 L 357.24 -55.31 L 357.04 -55.31 L 356.84 -55.31 L 356.65 -55.31 L 356.45 -55.31 L 356.25 -55.31 L 356.06 -55.31 L 355.86 -55.31 L 355.66 -55.31 L 355.47 -55.31 L 355.27 -55.31 L 355.07 -55.31 L 354.88 -55.31 L 354.68 -55.31 L 354.48 -55.31 L 354.29 -55.31 L 354.09 -55.31 L 353.89 -55.31 L 353.70 -55.31 L 353.50 -55.31 L 353.30 -55.31 L 353.11 -55.31 L 352.91 -55.31 L 352.72 -55.31 L 352.52 -55.31 L 352.32 -55.31 L 352.13 -55.31 L 351.93 -55.31 L 351.74 -55.31 L 351.54 -55.31 L 351.34 -55.31 L 351.15 -55.31 L 350.95 -55.31 L 350.76 -55.31 L 350.56 -55.31 L 350.37 -55.31 L 350.17 -55.31 L 349.97 -55.31 L 349.78 -55.31 L 349.58 -55.31 L 349.39 -55.31 L 349.19 -55.31 L 349.00 -55.31 L 348.80 -55.31 L 348.61 -55.31 L 348.41 -55.31 L 348.22 -55.31 L 348.02 -55.31 L 347.83 -55.31 L 347.63 -55.31 L 347.44 -55.31 L 347.24 -55.31 L 347.05 -55.31 L 346.85 -55.31 L 346.66 -55.31 L 346.46 -55.31 L 346.27 -55.31 L 346.07 -55.31 L 345.88 -55.31 L 345.68 -55.31 L 345.49 -55.31 L 345.30 -55.31 L 345.10 -55.31 L 344.91 -55.31 L 344.71 -55.31 L 344.52 -55.31 L 344.32 -55.31 L 344.13 -55.31 L 343.94 -55.31 L 343.74 -55.31 L 343.55 -55.31 L 343.35 -55.31 L 343.16 -55.31 L 342.97 -55.31 L 342.77 -55.31 L 342.58 -55.31 L 342.38 -55.31 L 342.19 -55.31 L 342.00 -55.31 L 341.80 -55.31 L 341.61 -55.31 L 341.42 -55.31 L 341.22 -55.31 L 341.03 -55.31 L 340.84 -55.31 L 340.64 -55.31 L 340.45 -55.31 L 340.26 -55.31 L 340.06 -55.31 L 339.87 -55.31 L 339.68 -55.31 L 339.48 -55.31 L 339.29 -55.31 L 339.10 -55.31 L 338.90 -55.31 L 338.71 -55.31 L 338.52 -55.31 L 338.33 -55.31 L 338.13 -55.31 L 337.94 -55.31 L 337.75 -55.31 L 337.55 -55.31 L 337.36 -55.31 L 337.17 -55.31 L 336.98 -55.31 L 336.78 -55.31 L 336.59 -55.31 L 336.40 -55.31 L 336.21 -55.31 L 336.02 -55.31 L 335.82 -55.31 L 335.63 -55.31 L 335.44 -55.31 L 335.25 -55.31 L 335.05 -55.31 L 334.86 -55.31 L 334.67 -55.31 L 334.48 -55.31 L 334.29 -55.31 L 334.09 -55.31 L 333.90 -55.31 L 333.71 -55.31 L 333.52 -55.31 L 333.33 -55.31 L 333.14 -55.31 L 332.94 -55.31 L 332.75 -55.31 L 332.56 -55.31 L 332.37 -55.31 L 332.18 -55.31 L 331.99 -55.31 L 331.80 -55.31 L 331.60 -55.31 L 331.41 -55.31 L 331.22 -55.31 L 331.03 -55.31 L 330.84 -55.31 L 330.65 -55.31 L 330.46 -55.31 L 330.27 -55.31 L 330.08 -55.31 L 329.89 -55.31 L 329.69 -55.31 L 329.50 -55.31 L 329.31 -55.31 L 329.12 -55.31 L 328.93 -55.31 L 328.74 -55.31 L 328.55 -55.31 L 328.36 -55.31 L 328.17 -55.31 L 327.98 -55.31 L 327.79 -55.31 L 327.60 -55.31 L 327.41 -55.31 L 327.22 -55.31 L 327.03 -55.31 L 326.84 -55.31 L 326.65 -55.31 L 326.46 -55.31 L 326.27 -55.31 L 326.08 -55.31 L 325.89 -55.31 L 325.70 -55.31 L 325.51 -55.31 L 325.32 -55.31 L 325.13 -55.31 L 324.94 -55.31 L 324.75 -55.31 L 324.56 -55.31 L 324.37 -55.31 L 324.18 -55.31 L 323.99 -55.31 L 323.80 -55.31 L 323.61 -55.31 L 323.42 -55.31 L 323.23 -55.31 L 323.04 -55.31 L 322.85 -55.31 L 322.66 -55.31 L 322.47 -55.31 L 322.29 -55.31 L 322.10 -55.31 L 321.91 -55.31 L 321.72 -55.31 L 321.53 -55.31 L 321.34 -55.31 L 321.15 -55.31 L 320.96 -55.31 L 320.77 -55.31 L 320.59 -55.31 L 320.40 -55.31 L 320.21 -55.31 L 320.02 -55.31 L 319.83 -55.31 L 319.64 -55.31 L 319.45 -55.31 L 319.27 -55.31 L 319.08 -55.31 L 318.89 -55.31 L 318.70 -55.31 L 318.51 -55.31 L 318.32 -55.31 L 318.14 -55.31 L 317.95 -55.31 L 317.76 -55.31 L 317.57 -55.31 L 317.38 -55.31 L 317.20 -55.31 L 317.01 -55.31 L 316.82 -55.31 L 316.63 -55.31 L 316.44 -55.31 L 316.26 -55.31 L 316.07 -55.31 L 315.88 -55.31 L 315.69 -55.31 L 315.51 -55.31 L 315.32 -55.31 L 315.13 -55.31 L 314.94 -55.31 L 314.76 -55.31 L 314.57 -55.31 L 314.38 -55.31 L 314.19 -55.31 L 314.01 -55.31 L 313.82 -55.31 L 313.63 -55.31 L 313.45 -55.31 L 313.26 -55.31 L 313.07 -55.31 L 312.88 -55.31 L 312.70 -55.31 L 312.51 -55.31 L 312.32 -55.31 L 312.14 -55.31 L 311.95 -55.31 L 311.76 -55.31 L 311.58 -55.31 L 311.39 -55.31 L 311.20 -55.31 L 311.02 -55.31 L 310.83 -55.31 L 310.64 -55.31 L 310.46 -55.31 L 310.27 -55.31 L 310.08 -55.31 L 309.90 -55.31 L 309.71 -55.31 L 309.53 -55.31 L 309.34 -55.31 L 309.15 -55.31 L 308.97 -55.31 L 308.78 -55.31 L 308.60 -55.31 L 308.41 -55.31 L 308.22 -55.31 L 308.04 -55.31 L 307.85 -55.31 L 307.67 -55.31 L 307.48 -55.31 L 307.29 -55.31 L 307.11 -55.31 L 306.92 -55.31 L 306.74 -55.31 L 306.55 -55.31 L 306.37 -55.31 L 306.18 -55.31 L 306.00 -55.31 L 305.81 -55.31 L 305.63 -55.31 L 305.44 -55.31 L 305.26 -55.31 L 305.07 -55.31 L 304.88 -55.31 L 304.70 -55.31 L 304.51 -55.31 L 304.33 -55.31 L 304.14 -55.31 L 303.96 -55.31 L 303.77 -55.31 L 303.59 -55.31 L 303.41 -55.31 L 303.22 -55.31 L 303.04 -55.31 L 302.85 -55.31 L 302.67 -55.31 L 302.48 -55.31 L 302.30 -55.31 L 302.11 -55.31 L 301.93 -55.31 L 301.74 -55.31 L 301.56 -55.31 L 301.38 -55.31 L 301.19 -55.31 L 301.01 -55.31 L 300.82 -55.31 L 300.64 -55.31 L 300.45 -55.31 L 300.27 -55.31 L 300.09 -55.31 L 299.90 -55.31 L 299.72 -55.31 L 299.53 -55.31 L 299.35 -55.31 L 299.17 -55.31 L 298.98 -55.31 L 298.80 -55.31 L 298.62 -55.31 L 298.43 -55.31 L 298.25 -55.31 L 298.06 -55.31 L 297.88 -55.31 L 297.70 -55.31 L 297.51 -55.31 L 297.33 -55.31 L 297.15 -55.31 L 296.96 -55.31 L 296.78 -55.31 L 296.60 -55.31 L 296.41 -55.31 L 296.23 -55.31 L 296.05 -55.31 L 295.87 -55.31 L 295.68 -55.31 L 295.50 -55.31 L 295.32 -55.31 L 295.13 -55.31 L 294.95 -55.31 L 294.77 -55.31 L 294.59 -55.31 L 294.40 -55.31 L 294.22 -55.31 L 294.04 -55.31 L 293.85 -55.31 L 293.67 -55.31 L 293.49 -55.31 L 293.31 -55.31 L 293.12 -55.31 L 292.94 -55.31 L 292.76 -55.31 L 292.58 -55.31 L 292.40 -55.31 L 292.21 -55.31 L 292.03 -55.31 L 291.85 -55.31 L 291.67 -55.31 L 291.48 -55.31 L 291.30 -55.31 L 291.12 -55.31 L 290.94 -55.31 L 290.76 -55.31 L 290.58 -55.31 L 290.39 -55.31 L 290.21 -55.31 L 290.03 -55.31 L 289.85 -55.31 L 289.67 -55.31 L 289.49 -55.31 L 289.30 -55.31 L 289.12 -55.31 L 288.94 -55.31 L 288.76 -55.31 L 288.58 -55.31 L 288.40 -55.31 L 288.22 -55.31 L 288.03 -55.31 L 287.85 -55.31 L 287.67 -55.31 L 287.49 -55.31 L 287.31 -55.31 L 287.13 -55.31 L 286.95 -55.31 L 286.77 -55.31 L 286.59 -55.31 L 286.40 -55.31 L 286.22 -55.31 L 286.04 -55.31 L 285.86 -55.31 L 285.68 -55.31 L 285.50 -55.31 L 285.32 -55.31 L 285.14 -55.31 L 284.96 -55.31 L 284.78 -55.31 L 284.60 -55.31 L 284.42 -55.31 L 284.24 -55.31 L 284.06 -55.31 L 283.88 -55.31 L 283.70 -55.31 L 283.52 -55.31 L 283.34 -55.31 L 283.16 -55.31 L 282.98 -55.31 L 282.80 -55.31 L 282.62 -55.31 L 282.44 -55.31 L 282.26 -55.31 L 282.08 -55.31 L 281.90 -55.31 L 281.72 -55.31 L 281.54 -55.31 L 281.36 -55.31 L 281.18 -55.31 L 281.00 -55.31 L 280.82 -55.31 L 280.64 -55.31 L 280.46 -55.31 L 280.28 -55.31 L 280.10 -55.31 L 279.92 -55.31 L 279.74 -55.31 L 279.56 -55.31 L 279.38 -55.31 L 279.20 -55.31 L 279.02 -55.31 L 278.85 -55.31 L 278.67 -55.31 L 278.49 -55.31 L 278.31 -55.31 L 278.13 -55.31 L 277.95 -55.31 L 277.77 -55.31 L 277.59 -55.31 L 277.41 -55.31 L 277.24 -55.31 L 277.06 -55.31 L 276.88 -55.31 L 276.70 -55.31 L 276.52 -55.31 L 276.34 -55.31 L 276.16 -55.31 L 275.98 -55.31 L 275.81 -55.31 L 275.63 -55.31 L 275.45 -55.31 L 275.27 -55.31 L 275.09 -55.31 L 274.91 -55.31 L 274.74 -55.31 L 274.56 -55.31 L 274.38 -55.31 L 274.20 -55.31 L 274.02 -55.31 L 273.85 -55.31 L 273.67 -55.31 L 273.49 -55.31 L 273.31 -55.31 L 273.13 -55.31 L 272.96 -55.31 L 272.78 -55.31 L 272.60 -55.31 L 272.42 -55.31 L 272.25 -55.31 L 272.07 -55.31 L 271.89 -55.31 L 271.71 -55.31 L 271.54 -55.31 L 271.36 -55.31 L 271.18 -55.31 L 271.00 -55.31 L 270.83 -55.31 L 270.65 -55.31 L 270.47 -55.31 L 270.30 -55.31 L 270.12 -55.31 L 269.94 -55.31 L 269.76 -55.31 L 269.59 -55.31 L 269.41 -55.31 L 269.23 -55.31 L 269.06 -55.31 L 268.88 -55.31 L 268.70 -55.31 L 268.53 -55.31 L 268.35 -55.31 L 268.17 -55.31 L 268.00 -55.31 L 267.82 -55.31 L 267.64 -55.31 L 267.47 -55.31 L 267.29 -55.31 L 267.11 -55.31 L 266.94 -55.31 L 266.76 -55.31 L 266.58 -55.31 L 266.41 -55.31 L 266.23 -55.31 L 266.06 -55.31 L 265.88 -55.31 L 265.70 -55.31 L 265.53 -55.31 L 265.35 -55.31 L 265.18 -55.31 L 265.00 -55.31 L 264.82 -55.31 L 264.65 -55.31 L 264.47 -55.31 L 264.30 -55.31 L 264.12 -55.31 L 263.94 -55.31 L 263.77 -55.31 L 263.59 -55.31 L 263.42 -55.31 L 263.24 -55.31 L 263.07 -55.31 L 262.89 -55.31 L 262.72 -55.31 L 262.54 -55.31 L 262.37 -55.31 L 262.19 -55.31 L 262.01 -55.31 L 261.84 -55.31 L 261.66 -55.31 L 261.49 -55.31 L 261.31 -55.31 L 261.14 -55.31 L 260.96 -55.31 L 260.79 -55.31 L 260.61 -55.31 L 260.44 -55.31 L 260.26 -55.31 L 260.09 -55.31 L 259.91 -55.31 L 259.74 -55.31 L 259.57 -55.31 L 259.39 -55.31 L 259.22 -55.31 L 259.04 -55.31 L 258.87 -55.31 L 258.69 -55.31 L 258.52 -55.31 L 258.34 -55.31 L 258.17 -55.31 L 257.99 -55.31 L 257.82 -55.31 L 257.65 -55.31 L 257.47 -55.31 L 257.30 -55.31 L 257.12 -55.31 L 256.95 -55.31 L 256.78 -55.31 L 256.60 -55.31 L 256.43 -55.31 L 256.25 -55.31 L 256.08 -55.31 L 255.91 -55.31 L 255.73 -55.31 L 255.56 -55.31 L 255.38 -55.31 L 255.21 -55.31 L 255.04 -55.31 L 254.86 -55.31 L 254.69 -55.31 L 254.52 -55.31 L 254.34 -55.31 L 254.17 -55.31 L 254.00 -55.31 L 253.82 -55.31 L 253.65 -55.31 L 253.48 -55.31 L 253.30 -55.31 L 253.13 -55.31 L 252.96 -55.31 L 252.78 -55.31 L 252.61 -55.31 L 252.44 -55.31 L 252.26 -55.31 L 252.09 -55.31 L 251.92 -55.31 L 251.75 -55.31 L 251.57 -55.31 L 251.40 -55.31 L 251.23 -55.31 L 251.05 -55.31 L 250.88 -55.31 L 250.71 -55.31 L 250.54 -55.31 L 250.36 -55.31 L 250.19 -55.31 L 250.02 -55.31 L 249.85 -55.31 L 249.67 -55.31 L 249.50 -55.31 L 249.33 -55.31 L 249.16 -55.31 L 248.98 -55.31 L 248.81 -55.31 L 248.64 -55.31 L 248.47 -55.31 L 248.30 -55.31 L 248.12 -55.31 L 247.95 -55.31 L 247.78 -55.31 L 247.61 -55.31 L 247.44 -55.31 L 247.26 -55.31 L 247.09 -55.31 L 246.92 -55.31 L 246.75 -55.31 L 246.58 -55.31 L 246.41 -55.31 L 246.23 -55.31 L 246.06 -55.31 L 245.89 -55.31 L 245.72 -55.31 L 245.55 -55.31 L 245.38 -55.31 L 245.21 -55.31 L 245.03 -55.31 L 244.86 -55.31 L 244.69 -55.31 L 244.52 -55.31 L 244.35 -55.31 L 244.18 -55.31 L 244.01 -55.31 L 243.84 -55.31 L 243.66 -55.31 L 243.49 -55.31 L 243.32 -55.31 L 243.15 -55.31 L 242.98 -55.31 L 242.81 -55.31 L 242.64 -55.31 L 242.47 -55.31 L 242.30 -55.31 L 242.13 -55.31 L 241.96 -55.31 L 241.79 -55.31 L 241.62 -55.31 L 241.44 -55.31 L 241.27 -55.31 L 241.10 -55.31 L 240.93 -55.31 L 240.76 -55.31 L 240.59 -55.31 L 240.42 -55.31 L 240.25 -55.31 L 240.08 -55.31 L 239.91 -55.31 L 239.74 -55.31 L 239.57 -55.31 L 239.40 -55.31 L 239.23 -55.31 L 239.06 -55.31 L 238.89 -55.31 L 238.72 -55.31 L 238.55 -55.31 L 238.38 -55.31 L 238.21 -55.31 L 238.04 -55.31 L 237.87 -55.31 L 237.70 -55.31 L 237.53 -55.31 L 237.36 -55.31 L 237.19 -55.31 L 237.02 -55.31 L 236.86 -55.31 L 236.69 -55.31 L 236.52 -55.31 L 236.35 -55.31 L 236.18 -55.31 L 236.01 -55.31 L 235.84 -55.31 L 235.67 -55.31 L 235.50 -55.31 L 235.33 -55.31 L 235.16 -55.31 L 234.99 -55.31 L 234.82 -55.31 L 234.66 -55.31 L 234.49 -55.31 L 234.32 -55.31 L 234.15 -55.31 L 233.98 -55.31 L 233.81 -55.31 L 233.64 -55.31 L 233.47 -55.31 L 233.31 -55.31 L 233.14 -55.31 L 232.97 -55.31 L 232.80 -55.31 L 232.63 -55.31 L 232.46 -55.31 L 232.29 -55.31 L 232.13 -55.31 L 231.96 -55.31 L 231.79 -55.31 L 231.62 -55.31 L 231.45 -55.31 L 231.28 -55.31 L 231.12 -55.31 L 230.95 -55.31 L 230.78 -55.31 L 230.61 -55.31 L 230.44 -55.31 L 230.28 -55.31 L 230.11 -55.31 L 229.94 -55.31 L 229.77 -55.31 L 229.61 -55.31 L 229.44 -55.31 L 229.27 -55.31 L 229.10 -55.31 L 228.93 -55.31 L 228.77 -55.31 L 228.60 -55.31 L 228.43 -55.31 L 228.26 -55.31 L 228.10 -55.31 L 227.93 -55.31 L 227.76 -55.31 L 227.59 -55.31 L 227.43 -55.31 L 227.26 -55.31 L 227.09 -55.31 L 226.93 -55.31 L 226.76 -55.31 L 226.59 -55.31 L 226.42 -55.31 L 226.26 -55.31 L 226.09 -55.31 L 225.92 -55.31 L 225.76 -55.31 L 225.59 -55.31 L 225.42 -55.31 L 225.26 -55.31 L 225.09 -55.31 L 224.92 -55.31 L 224.76 -55.31 L 224.59 -55.31 L 224.42 -55.31 L 224.26 -55.31 L 224.09 -55.31 L 223.92 -55.31 L 223.76 -55.31 L 223.59 -55.31 L 223.42 -55.31 L 223.26 -55.31 L 223.09 -55.31 L 222.93 -55.31 L 222.76 -55.31 L 222.59 -55.31 L 222.43 -55.31 L 222.26 -55.31 L 222.09 -55.31 L 221.93 -55.31 L 221.76 -55.31 L 221.60 -55.31 L 221.43 -55.31 L 221.26 -55.31 L 221.10 -55.31 L 220.93 -55.31 L 220.77 -55.31 L 220.60 -55.31 L 220.44 -55.31 L 220.27 -55.31 L 220.10 -55.31 L 219.94 -55.31 L 219.77 -55.31 L 219.61 -55.31 L 219.44 -55.31 L 219.28 -55.31 L 219.11 -55.31 L 218.95 -55.31 L 218.78 -55.31 L 218.62 -55.31 L 218.45 -55.31 L 218.29 -55.31 L 218.12 -55.31 L 217.96 -55.31 L 217.79 -55.31 L 217.63 -55.31 L 217.46 -55.31 L 217.30 -55.31 L 217.13 -55.31 L 216.97 -55.31 L 216.80 -55.31 L 216.64 -55.31 L 216.47 -55.31 L 216.31 -55.31 L 216.14 -55.31 L 215.98 -55.31 L 215.81 -55.31 L 215.65 -55.31 L 215.48 -55.31 L 215.32 -55.31 L 215.15 -55.31 L 214.99 -55.31 L 214.83 -55.31 L 214.66 -55.31 L 214.50 -55.31 L 214.33 -55.31 L 214.17 -55.31 L 214.00 -55.31 L 213.84 -55.31 L 213.68 -55.31 L 213.51 -55.31 L 213.35 -55.31 L 213.18 -55.31 L 213.02 -55.31 L 212.86 -55.31 L 212.69 -55.31 L 212.53 -55.31 L 212.36 -55.31 L 212.20 -55.31 L 212.04 -55.31 L 211.87 -55.31 L 211.71 -55.31 L 211.55 -55.31 L 211.38 -55.31 L 211.22 -55.31 L 211.05 -55.31 L 210.89 -55.31 L 210.73 -55.31 L 210.56 -55.31 L 210.40 -55.31 L 210.24 -55.31 L 210.07 -55.31 L 209.91 -55.31 L 209.75 -55.31 L 209.58 -55.31 L 209.42 -55.31 L 209.26 -55.31 L 209.10 -55.31 L 208.93 -55.31 L 208.77 -55.31 L 208.61 -55.31 L 208.44 -55.31 L 208.28 -55.31 L 208.12 -55.31 L 207.96 -55.31 L 207.79 -55.31 L 207.63 -55.31 L 207.47 -55.31 L 207.30 -55.31 L 207.14 -55.31 L 206.98 -55.31 L 206.82 -55.31 L 206.65 -55.31 L 206.49 -55.31 L 206.33 -55.31 L 206.17 -55.31 L 206.00 -55.31 L 205.84 -55.31 L 205.68 -55.31 L 205.52 -55.31 L 205.36 -55.31 L 205.19 -55.31 L 205.03 -55.31 L 204.87 -55.31 L 204.71 -55.31 L 204.54 -55.31 L 204.38 -55.31 L 204.22 -55.31 L 204.06 -55.31 L 203.90 -55.31 L 203.74 -55.31 L 203.57 -55.31 L 203.41 -55.31 L 203.25 -55.31 L 203.09 -55.31 L 202.93 -55.31 L 202.76 -55.31 L 202.60 -55.31 L 202.44 -55.31 L 202.28 -55.31 L 202.12 -55.31 L 201.96 -55.31 L 201.80 -55.31 L 201.63 -55.31 L 201.47 -55.31 L 201.31 -55.31 L 201.15 -55.31 L 200.99 -55.31 L 200.83 -55.31 L 200.67 -55.31 L 200.51 -55.31 L 200.35 -55.31 L 200.18 -55.31 L 200.02 -55.31 L 199.86 -55.31 L 199.70 -55.31 L 199.54 -55.31 L 199.38 -55.31 L 199.22 -55.31 L 199.06 -55.31 L 198.90 -55.31 L 198.74 -55.31 L 198.58 -55.31 L 198.42 -55.31 L 198.25 -55.31 L 198.09 -55.31 L 197.93 -55.31 L 197.77 -55.31 L 197.61 -55.31 L 197.45 -55.31 L 197.29 -55.31 L 197.13 -55.31 L 196.97 -55.31 L 196.81 -55.31 L 196.65 -55.31 L 196.49 -55.31 L 196.33 -55.31 L 196.17 -55.31 L 196.01 -55.31 L 195.85 -55.31 L 195.69 -55.31 L 195.53 -55.31 L 195.37 -55.31 L 195.21 -55.31 L 195.05 -55.31 L 194.89 -55.31 L 194.73 -55.31 L 194.57 -55.31 L 194.41 -55.31 L 194.25 -55.31 L 194.09 -55.31 L 193.93 -55.31 L 193.77 -55.31 L 193.61 -55.31 L 193.45 -55.31 L 193.30 -55.31 L 193.14 -55.31 L 192.98 -55.31 L 192.82 -55.31 L 192.66 -55.31 L 192.50 -55.31 L 192.34 -55.31 L 192.18 -55.31 L 192.02 -55.31 L 191.86 -55.31 L 191.70 -55.31 L 191.54 -55.31 L 191.39 -55.31 L 191.23 -55.31 L 191.07 -55.31 L 190.91 -55.31 L 190.75 -55.31 L 190.59 -55.31 L 190.43 -55.31 L 190.27 -55.31 L 190.11 -55.31 L 189.96 -55.31 L 189.80 -55.31 L 189.64 -55.31 L 189.48 -55.31 L 189.32 -55.31 L 189.16 -55.31 L 189.00 -55.31 L 188.85 -55.31 L 188.69 -55.31 L 188.53 -55.31 L 188.37 -55.31 L 188.21 -55.31 L 188.05 -55.31 L 187.90 -55.31 L 187.74 -55.31 L 187.58 -55.31 L 187.42 -55.31 L 187.26 -55.31 L 187.11 -55.31 L 186.95 -55.31 L 186.79 -55.31 L 186.63 -55.31 L 186.47 -55.31 L 186.32 -55.31 L 186.16 -55.31 L 186.00 -55.31 L 185.84 -55.31 L 185.69 -55.31 L 185.53 -55.31 L 185.37 -55.31 L 185.21 -55.31 L 185.06 -55.31 L 184.90 -55.31 L 184.74 -55.31 L 184.58 -55.31 L 184.43 -55.31 L 184.27 -55.31 L 184.11 -55.31 L 183.95 -55.31 L 183.80 -55.31 L 183.64 -55.31 L 183.48 -55.31 L 183.32 -55.31 L 183.17 -55.31 L 183.01 -55.31 L 182.85 -55.31 L 182.70 -55.31 L 182.54 -55.31 L 182.38 -55.31 L 182.23 -55.31 L 182.07 -55.31 L 181.91 -55.31 L 181.76 -55.31 L 181.60 -55.31 L 181.44 -55.31 L 181.29 -55.31 L 181.13 -55.31 L 180.97 -55.31 L 180.82 -55.31 L 180.66 -55.31 L 180.50 -55.31 L 180.35 -55.31 L 180.19 -55.31 L 180.03 -55.31 L 179.88 -55.31 L 179.72 -55.31 L 179.56 -55.31 L 179.41 -55.31 L 179.25 -55.31 L 179.10 -55.31 L 178.94 -55.31 L 178.78 -55.31 L 178.63 -55.31 L 178.47 -55.31 L 178.32 -55.31 L 178.16 -55.31 L 178.00 -55.31 L 177.85 -55.31 L 177.69 -55.31 L 177.54 -55.31 L 177.38 -55.31 L 177.22 -55.31 L 177.07 -55.31 L 176.91 -55.31 L 176.76 -55.31 L 176.60 -55.31 L 176.45 -55.31 L 176.29 -55.31 L 176.14 -55.31 L 175.98 -55.31 L 175.82 -55.31 L 175.67 -55.31 L 175.51 -55.31 L 175.36 -55.31 L 175.20 -55.31 L 175.05 -55.31 L 174.89 -55.31 L 174.74 -55.31 L 174.58 -55.31 L 174.43 -55.31 L 174.27 -55.31 L 174.12 -55.31 L 173.96 -55.31 L 173.81 -55.31 L 173.65 -55.31 L 173.50 -55.31 L 173.34 -55.31 L 173.19 -55.31 L 173.03 -55.31 L 172.88 -55.31 L 172.72 -55.31 L 172.57 -55.31 L 172.41 -55.31 L 172.26 -55.31 L 172.11 -55.31 L 171.95 -55.31 L 171.80 -55.31 L 171.64 -55.31 L 171.49 -55.31 L 171.33 -55.31 L 171.18 -55.31 L 171.02 -55.31 L 170.87 -55.31 L 170.72 -55.31 L 170.56 -55.31 L 170.41 -55.31 L 170.25 -55.31 L 170.10 -55.31 L 169.95 -55.31 L 169.79 -55.31 L 169.64 -55.31 L 169.48 -55.31 L 169.33 -55.31 L 169.18 -55.31 L 169.02 -55.31 L 168.87 -55.31 L 168.71 -55.31 L 168.56 -55.31 L 168.41 -55.31 L 168.25 -55.31 L 168.10 -55.31 L 167.95 -55.31 L 167.79 -55.31 L 167.64 -55.31 L 167.49 -55.31 L 167.33 -55.31 L 167.18 -55.31 L 167.03 -55.31 L 166.87 -55.31 L 166.72 -55.31 L 166.57 -55.31 L 166.41 -55.31 L 166.26 -55.31 L 166.11 -55.31 L 165.95 -55.31 L 165.80 -55.31 L 165.65 -55.31 L 165.49 -55.31 L 165.34 -55.31 L 165.19 -55.31 L 165.03 -55.31 L 164.88 -55.31 L 164.73 -55.31 L 164.58 -55.31 L 164.42 -55.31 L 164.27 -55.31 L 164.12 -55.31 L 163.97 -55.31 L 163.81 -55.31 L 163.66 -55.31 L 163.51 -55.31 L 163.35 -55.31 L 163.20 -55.31 L 163.05 -55.31 L 162.90 -55.31 L 162.74 -55.31 L 162.59 -55.31 L 162.44 -55.31 L 162.29 -55.31 L 162.14 -55.31 L 161.98 -55.31 L 161.83 -55.31 L 161.68 -55.31 L 161.53 -55.31 L 161.37 -55.31 L 161.22 -55.31 L 161.07 -55.31 L 160.92 -55.31 L 160.77 -55.31 L 160.62 -55.31 L 160.46 -55.31 L 160.31 -55.31 L 160.16 -55.31 L 160.01 -55.31 L 159.86 -55.31 L 159.70 -55.31 L 159.55 -55.31 L 159.40 -55.31 L 159.25 -55.31 L 159.10 -55.31 L 158.95 -55.31 L 158.79 -55.31 L 158.64 -55.31 L 158.49 -55.31 L 158.34 -55.31 L 158.19 -55.31 L 158.04 -55.31 L 157.89 -55.31 L 157.74 -55.31 L 157.58 -55.31 L 157.43 -55.31 L 157.28 -55.31 L 157.13 -55.31 L 156.98 -55.31 L 156.83 -55.31 L 156.68 -55.31 L 156.53 -55.31 L 156.38 -55.31 L 156.23 -55.31 L 156.07 -55.31 L 155.92 -55.31 L 155.77 -55.31 L 155.62 -55.31 L 155.47 -55.31 L 155.32 -55.31 L 155.17 -55.31 L 155.02 -55.31 L 154.87 -55.31 L 154.72 -55.31 L 154.57 -55.31 L 154.42 -55.31 L 154.27 -55.31 L 154.12 -55.31 L 153.97 -55.31 L 153.82 -55.31 L 153.67 -55.31 L 153.51 -55.31 L 153.36 -55.31 L 153.21 -55.31 L 153.06 -55.31 L 152.91 -55.31 L 152.76 -55.31 L 152.61 -55.31 L 152.46 -55.31 L 152.31 -55.31 L 152.16 -55.31 L 152.01 -55.31 L 151.86 -55.31 L 151.71 -55.31 L 151.56 -55.31 L 151.41 -55.31 L 151.26 -55.31 L 151.12 -55.31 L 150.97 -55.31 L 150.82 -55.31 L 150.67 -55.31 L 150.52 -55.31 L 150.37 -55.31 L 150.22 -55.31 L 150.07 -55.31 L 149.92 -55.31 L 149.77 -55.31 L 149.62 -55.31 L 149.47 -55.31 L 149.32 -55.31 L 149.17 -55.31 L 149.02 -55.31 L 148.87 -55.31 L 148.72 -55.31 L 148.58 -55.31 L 148.43 -55.31 L 148.28 -55.31 L 148.13 -55.31 L 147.98 -55.31 L 147.83 -55.31 L 147.68 -55.31 L 147.53 -55.31 L 147.38 -55.31 L 147.23 -55.31 L 147.09 -55.31 L 146.94 -55.31 L 146.79 -55.31 L 146.64 -55.31 L 146.49 -55.31 L 146.34 -55.31 L 146.19 -55.31 L 146.05 -55.31 L 145.90 -55.31 L 145.75 -55.31 L 145.60 -55.31 L 145.45 -55.31 L 145.30 -55.31 L 145.15 -55.31 L 145.01 -55.31 L 144.86 -55.31 L 144.71 -55.31 L 144.56 -55.31 L 144.41 -55.31 L 144.27 -55.31 L 144.12 -55.31 L 143.97 -55.31 L 143.82 -55.31 L 143.67 -55.31 L 143.53 -55.31 L 143.38 -55.31 L 143.23 -55.31 L 143.08 -55.31 L 142.93 -55.31 L 142.79 -55.31 L 142.64 -55.31 L 142.49 -55.31 L 142.34 -55.31 L 142.19 -55.31 L 142.05 -55.31 L 141.90 -55.31 L 141.75 -55.31 L 141.60 -55.31 L 141.46 -55.31 L 141.31 -55.31 L 141.16 -55.31 L 141.01 -55.31 L 140.87 -55.31 L 140.72 -55.31 L 140.57 -55.31 L 140.43 -55.31 L 140.28 -55.31 L 140.13 -55.31 L 139.98 -55.31 L 139.84 -55.31 L 139.69 -55.31 L 139.54 -55.31 L 139.40 -55.31 L 139.25 -55.31 L 139.10 -55.31 L 138.95 -55.31 L 138.81 -55.31 L 138.66 -55.31 L 138.51 -55.31 L 138.37 -55.31 L 138.22 -55.31 L 138.07 -55.31 L 137.93 -55.31 L 137.78 -55.31 L 137.63 -55.31 L 137.49 -55.31 L 137.34 -55.31 L 137.19 -55.31 L 137.05 -55.31 L 136.90 -55.31 L 136.76 -55.31 L 136.61 -55.31 L 136.46 -55.31 L 136.32 -55.31 L 136.17 -55.31 L 136.02 -55.31 L 135.88 -55.31 L 135.73 -55.31 L 135.59 -55.31 L 135.44 -55.31 L 135.29 -55.31 L 135.15 -55.31 L 135.00 -55.31 L 134.85 -55.31 L 134.71 -55.31 L 134.56 -55.31 L 134.42 -55.31 L 134.27 -55.31 L 134.13 -55.31 L 133.98 -55.31 L 133.83 -55.31 L 133.69 -55.31 L 133.54 -55.31 L 133.40 -55.31 L 133.25 -55.31 L 133.11 -55.31 L 132.96 -55.31 L 132.81 -55.31 L 132.67 -55.31 L 132.52 -55.31 L 132.38 -55.31 L 132.23 -55.31 L 132.09 -55.31 L 131.94 -55.31 L 131.80 -55.31 L 131.65 -55.31 L 131.51 -55.31 L 131.36 -55.31 L 131.22 -55.31 L 131.07 -55.31 L 130.93 -55.31 L 130.78 -55.31 L 130.64 -55.31 L 130.49 -55.31 L 130.35 -55.31 L 130.20 -55.31 L 130.06 -55.31 L 129.91 -55.31 L 129.77 -55.31 L 129.62 -55.31 L 129.48 -55.31 L 129.33 -55.31 L 129.19 -55.31 L 129.04 -55.31 L 128.90 -55.31 L 128.75 -55.31 L 128.61 -55.31 L 128.47 -55.31 L 128.32 -55.31 L 128.18 -55.31 L 128.03 -55.31 L 127.89 -55.31 L 127.74 -55.31 L 127.60 -55.31 L 127.45 -55.31 L 127.31 -55.31 L 127.17 -55.31 L 127.02 -55.31 L 126.88 -55.31 L 126.73 -55.31 L 126.59 -55.31 L 126.45 -55.31 L 126.30 -55.31 L 126.16 -55.31 L 126.01 -55.31 L 125.87 -55.31 L 125.73 -55.31 L 125.58 -55.31 L 125.44 -55.31 L 125.29 -55.31 L 125.15 -55.31 L 125.01 -55.31 L 124.86 -55.31 L 124.72 -55.31 L 124.58 -55.31 L 124.43 -55.31 L 124.29 -55.31 L 124.15 -55.31 L 124.00 -55.31 L 123.86 -55.31 L 123.72 -55.31 L 123.57 -55.31 L 123.43 -55.31 L 123.29 -55.31 L 123.14 -55.31 L 123.00 -55.31 L 122.86 -55.31 L 122.71 -55.31 L 122.57 -55.31 L 122.43 -55.31 L 122.28 -55.31 L 122.14 -55.31 L 122.00 -55.31 L 121.85 -55.31 L 121.71 -55.31 L 121.57 -55.31 L 121.43 -55.31 L 121.28 -55.31 L 121.14 -55.31 L 121.00 -55.31 L 120.85 -55.31 L 120.71 -55.31 L 120.57 -55.31 L 120.43 -55.31 L 120.28 -55.31 L 120.14 -55.31 L 120.00 -55.31 L 119.86 -55.31 L 119.71 -55.31 L 119.57 -55.31 L 119.43 -55.31 L 119.29 -55.31 L 119.14 -55.31 L 119.00 -55.31 L 118.86 -55.31 L 118.72 -55.31 L 118.57 -55.31 L 118.43 -55.31 L 118.29 -55.31 L 118.15 -55.31 L 118.01 -55.31 L 117.86 -55.31 L 117.72 -55.31 L 117.58 -55.31 L 117.44 -55.31 L 117.30 -55.31 L 117.15 -55.31 L 117.01 -55.31 L 116.87 -55.31 L 116.73 -55.31 L 116.59 -55.31 L 116.45 -55.31 L 116.30 -55.31 L 116.16 -55.31 L 116.02 -55.31 L 115.88 -55.31 L 115.74 -55.31 L 115.60 -55.31 L 115.45 -55.31 L 115.31 -55.31 L 115.17 -55.31 L 115.03 -55.31 L 114.89 -55.31 L 114.75 -55.31 L 114.61 -55.31 L 114.46 -55.31 L 114.32 -55.31 L 114.18 -55.31 L 114.04 -55.31 L 113.90 -55.31 L 113.76 -55.31 L 113.62 -55.31 L 113.48 -55.31 L 113.34 -55.31 L 113.19 -55.31 L 113.05 -55.31 L 112.91 -55.31 L 112.77 -55.31 L 112.63 -55.31 L 112.49 -55.31 L 112.35 -55.31 L 112.21 -55.31 L 112.07 -55.31 L 111.93 -55.31 L 111.79 -55.31 L 111.65 -55.31 L 111.50 -55.31 L 111.36 -55.31 L 111.22 -55.31 L 111.08 -55.31 L 110.94 -55.31 L 110.80 -55.31 L 110.66 -55.31 L 110.52 -55.31 L 110.38 -55.31 L 110.24 -55.31 L 110.10 -55.31 L 109.96 -55.31 L 109.82 -55.31 L 109.68 -55.31 L 109.54 -55.31 L 109.40 -55.31 L 109.26 -55.31 L 109.12 -55.31 L 108.98 -55.31 L 108.84 -55.31 L 108.70 -55.31 L 108.56 -55.31 L 108.42 -55.31 L 108.28 -55.31 L 108.14 -55.31 L 108.00 -55.31 L 107.86 -55.31 L 107.72 -55.31 L 107.58 -55.31 L 107.44 -55.31 L 107.30 -55.31 L 107.16 -55.31 L 107.02 -55.31 L 106.88 -55.31 L 106.74 -55.31 L 106.60 -55.31 L 106.46 -55.31 L 106.33 -55.31 L 106.19 -55.31 L 106.05 -55.31 L 105.91 -55.31 L 105.77 -55.31 L 105.63 -55.31 L 105.49 -55.31 L 105.35 -55.31 L 105.21 -55.31 L 105.07 -55.31 L 104.93 -55.31 L 104.79 -55.31 L 104.66 -55.31 L 104.52 -55.31 L 104.38 -55.31 L 104.24 -55.31 L 104.10 -55.31 L 103.96 -55.31 L 103.82 -55.31 L 103.68 -55.31 L 103.54 -55.31 L 103.41 -55.31 L 103.27 -55.31 L 103.13 -55.31 L 102.99 -55.31 L 102.85 -55.31 L 102.71 -55.31 L 102.57 -55.31 L 102.44 -55.31 L 102.30 -55.31 L 102.16 -55.31 L 102.02 -55.31 L 101.88 -55.31 L 101.74 -55.31 L 101.60 -55.31 L 101.47 -55.31 L 101.33 -55.31 L 101.19 -55.31 L 101.05 -55.31 L 100.91 -55.31 L 100.78 -55.31 L 100.64 -55.31 L 100.50 -55.31 L 100.36 -55.31 L 100.22 -55.31 L 100.09 -55.31 L 99.95 -55.31 L 99.81 -55.31 L 99.67 -55.31 L 99.53 -55.31 L 99.40 -55.31 L 99.26 -55.31 L 99.12 -55.31 L 98.98 -55.31 L 98.85 -55.31 L 98.71 -55.31 L 98.57 -55.31 L 98.43 -55.31 L 98.29 -55.31 L 98.16 -55.31 L 98.02 -55.31 L 97.88 -55.31 L 97.74 -55.31 L 97.61 -55.31 L 97.47 -55.31 L 97.33 -55.31 L 97.20 -55.31 L 97.06 -55.31 L 96.92 -55.31 L 96.78 -55.31 L 96.65 -55.31 L 96.51 -55.31 L 96.37 -55.31 L 96.24 -55.31 L 96.10 -55.31 L 95.96 -55.31 L 95.82 -55.31 L 95.69 -55.31 L 95.55 -55.31 L 95.41 -55.31 L 95.28 -55.31 L 95.14 -55.31 L 95.00 -55.31 L 94.87 -55.31 L 94.73 -55.31 L 94.59 -55.31 L 94.46 -55.31 L 94.32 -55.31 L 94.18 -55.31 L 94.05 -55.31 L 93.91 -55.31 L 93.77 -55.31 L 93.64 -55.31 L 93.50 -55.31 L 93.36 -55.31 L 93.23 -55.31 L 93.09 -55.31 L 92.95 -55.31 L 92.82 -55.31 L 92.68 -55.31 L 92.55 -55.31 L 92.41 -55.31 L 92.27 -55.31 L 92.14 -55.31 L 92.00 -55.31 L 91.87 -55.31 L 91.73 -55.31 L 91.59 -55.31 L 91.46 -55.31 L 91.32 -55.31 L 91.19 -55.31 L 91.05 -55.31 L 90.91 -55.31 L 90.78 -55.31 L 90.64 -55.31 L 90.51 -55.31 L 90.37 -55.31 L 90.23 -55.31 L 90.10 -55.31 L 89.96 -55.31 L 89.83 -55.31 L 89.69 -55.31 L 89.56 -55.31 L 89.42 -55.31 L 89.29 -55.31 L 89.15 -55.31 L 89.01 -55.31 L 88.88 -55.31 L 88.74 -55.31 L 88.61 -55.31 L 88.47 -55.31 L 88.34 -55.31 L 88.20 -55.31 L 88.07 -55.31 L 87.93 -55.31 L 87.80 -55.31 L 87.66 -55.31 L 87.53 -55.31 L 87.39 -55.31 L 87.26 -55.31 L 87.12 -55.31 L 86.99 -55.31 L 86.85 -55.31 L 86.72 -55.31 L 86.58 -55.31 L 86.45 -55.31 L 86.31 -55.31 L 86.18 -55.31 L 86.04 -55.31 L 85.91 -55.31 L 85.77 -55.31 L 85.64 -55.31 L 85.51 -55.31 L 85.37 -55.31 L 85.24 -55.31 L 85.10 -55.31 L 84.97 -55.31 L 84.83 -55.31 L 84.70 -55.31 L 84.56 -55.31 L 84.43 -55.31 L 84.29 -55.31 L 84.16 -55.31 L 84.03 -55.31 L 83.89 -55.31 L 83.76 -55.31 L 83.62 -55.31 L 83.49 -55.31 L 83.36 -55.31 L 83.22 -55.31 L 83.09 -55.31 L 82.95 -55.31 L 82.82 -55.31 L 82.69 -55.31 L 82.55 -55.31 L 82.42 -55.31 L 82.28 -55.31 L 82.15 -55.31 L 82.02 -55.31 L 81.88 -55.31 L 81.75 -55.31 L 81.61 -55.31 L 81.48 -55.31 L 81.35 -55.31 L 81.21 -55.31 L 81.08 -55.31 L 80.95 -55.31 L 80.81 -55.31 L 80.68 -55.31 L 80.55 -55.31 L 80.41 -55.31 L 80.28 -55.31 L 80.15 -55.31 L 80.01 -55.31 L 79.88 -55.31 L 79.75 -55.31 L 79.61 -55.31 L 79.48 -55.31 L 79.35 -55.31 L 79.21 -55.31 L 79.08 -55.31 L 78.95 -55.31 L 78.81 -55.31 L 78.68 -55.31 L 78.55 -55.31 L 78.41 -55.31 L 78.28 -55.31 L 78.15 -55.31 L 78.02 -55.31 L 77.88 -55.31 L 77.75 -55.31 L 77.62 -55.31 L 77.48 -55.31 L 77.35 -55.31 L 77.22 -55.31 L 77.09 -55.31 L 76.95 -55.31 L 76.82 -55.31 L 76.69 -55.31 L 76.56 -55.31 L 76.42 -55.31 L 76.29 -55.31 L 76.16 -55.31 L 76.03 -55.31 L 75.89 -55.31 L 75.76 -55.31 L 75.63 -55.31 L 75.50 -55.31 L 75.36 -55.31 L 75.23 -55.31 L 75.10 -55.31 L 74.97 -55.31 L 74.84 -55.31 L 74.70 -55.31 L 74.57 -55.31 L 74.44 -55.31 L 74.31 -55.31 L 74.18 -55.31 L 74.04 -55.31 L 73.91 -55.31 L 73.78 -55.31 L 73.65 -55.31 L 73.52 -55.31 L 73.38 -55.31 L 73.25 -55.31 L 73.12 -55.31 L 72.99 -55.31 L 72.86 -55.31 L 72.73 -55.31 L 72.59 -55.31 L 72.46 -55.31 L 72.33 -55.31 L 72.20 -55.31 L 72.07 -55.31 L 71.94 -55.31 L 71.81 -55.31 L 71.67 -55.31 L 71.54 -55.31 L 71.41 -55.31 L 71.28 -55.31 L 71.15 -55.31 L 71.02 -55.31 L 70.89 -55.31 L 70.75 -55.31 L 70.62 -55.31 L 70.49 -55.31 L 70.36 -55.31 L 70.23 -55.31 L 70.10 -55.31 L 69.97 -55.31 L 69.84 -55.31 L 69.71 -55.31 L 69.57 -55.31 L 69.44 -55.31 L 69.31 -55.31 L 69.18 -55.31 L 69.05 -55.31 L 68.92 -55.31 L 68.79 -55.31 L 68.66 -55.31 L 68.53 -55.31 L 68.40 -55.31 L 68.27 -55.31 L 68.14 -55.31 L 68.01 -55.31 L 67.88 -55.31 L 67.74 -55.31 L 67.61 -55.31 L 67.48 -55.31 L 67.35 -55.31 L 67.22 -55.31 L 67.09 -55.31 L 66.96 -55.31 L 66.83 -55.31 L 66.70 -55.31 L 66.57 -55.31 L 66.44 -55.31 L 66.31 -55.31 L 66.18 -55.31 L 66.05 -55.31 L 65.92 -55.31 L 65.79 -55.31 L 65.66 -55.31 L 65.53 -55.31 L 65.40 -55.31 L 65.27 -55.31 L 65.14 -55.31 L 65.01 -55.31 L 64.88 -55.31 L 64.75 -55.31 L 64.62 -55.31 L 64.49 -55.31 L 64.36 -55.31 L 64.23 -55.31 L 64.10 -55.31 L 63.97 -55.31 L 63.84 -55.31 L 63.71 -55.31 L 63.58 -55.31 L 63.45 -55.31 L 63.33 -55.31 L 63.20 -55.31 L 63.07 -55.31 L 62.94 -55.31 L 62.81 -55.31 L 62.68 -55.31 L 62.55 -55.31 L 62.42 -55.31 L 62.29 -55.31 L 62.16 -55.31 L 62.03 -55.31 L 61.90 -55.31 L 61.77 -55.31 L 61.64 -55.31 L 61.52 -55.31 L 61.39 -55.31 L 61.26 -55.31 L 61.13 -55.31 L 61.00 -55.31 L 60.87 -55.31 L 60.74 -55.31 L 60.61 -55.31 L 60.48 -55.31 L 60.35 -55.31 L 60.23 -55.31 L 60.10 -55.31 L 59.97 -55.31 L 59.84 -55.31 L 59.71 -55.31 L 59.58 -55.31 L 59.45 -55.31 L 59.33 -55.31 L 59.20 -55.31 L 59.07 -55.31 L 58.94 -55.31 L 58.81 -55.31 L 58.68 -55.31 L 58.55 -55.31 L 58.43 -55.31 L 58.30 -55.31 L 58.17 -55.31 L 58.04 -55.31 L 57.91 -55.31 L 57.78 -55.31 L 57.66 -55.31 L 57.53 -55.31 L 57.40 -55.31 L 57.27 -55.31 L 57.14 -55.31 L 57.02 -55.31 L 56.89 -55.31 L 56.76 -55.31 L 56.63 -55.31 L 56.50 -55.31 L 56.38 -55.31 L 56.25 -55.31 L 56.12 -55.31 L 55.99 -55.31 L 55.86 -55.31 L 55.74 -55.31 L 55.61 -55.31 L 55.48 -55.31 L 55.35 -55.31 L 55.23 -55.31 L 55.10 -55.31 L 54.97 -55.31 L 54.84 -55.31 L 54.72 -55.31 L 54.59 -55.31 L 54.46 -55.31 L 54.33 -55.31 L 54.21 -55.31 L 54.08 -55.31 L 53.95 -55.31 L 53.82 -55.31 L 53.70 -55.31 L 53.57 -55.31 L 53.44 -55.31 L 53.32 -55.31 L 53.19 -55.31 L 53.06 -55.31 L 52.93 -55.31 L 52.81 -55.31 L 52.68 -55.31 L 52.55 -55.31 L 52.43 -55.31 L 52.30 -55.31 L 52.17 -55.31 L 52.04 -55.31 L 51.92 -55.31 L 51.79 -55.31 L 51.66 -55.31 L 51.54 -55.31 L 51.41 -55.31 L 51.28 -55.31 L 51.16 -55.31 L 51.03 -55.31 L 50.90 -55.31 L 50.78 -55.31 L 50.65 -55.31 L 50.52 -55.31 L 50.40 -55.31 z
"/>
</defs>
<g clip-path="url(#pba4cbe3485)">
<use href="#m7d26e6ad8c" x="0" y="451.2" style="fill: #2e86ab; fill-opacity: 0.15"/>
</g>
</g>
<g id="line2d_31">
<path d="M 50.78 114.96 L 51.03 185.76 L 51.28 103.57 L 51.54 103.03 L 51.66 104.30 L 51.92 114.24 L 52.04 110.70 L 52.17 122.34 L 52.55 190.39 L 52.93 106.85 L 53.06 103.82 L 53.19 107.91 L 53.44 149.30 L 53.57 135.19 L 53.82 188.66 L 54.08 105.80 L 54.21 111.56 L 54.33 126.45 L 54.46 155.90 L 54.72 113.84 L 54.97 126.82 L 55.23 195.10 L 55.48 256.82 L 55.61 251.71 L 56.38 98.44 L 56.50 99.72 L 56.76 93.37 L 57.02 155.82 L 57.27 109.28 L 57.53 95.98 L 57.66 95.78 L 57.78 100.86 L 57.91 99.40 L 58.04 101.16 L 58.17 107.27 L 58.30 98.89 L 58.43 100.92 L 58.68 129.90 L 58.81 133.94 L 58.94 157.83 L 59.20 97.90 L 59.33 92.93 L 59.45 100.18 L 59.58 119.06 L 59.84 207.25 L 60.10 108.39 L 60.35 121.25 L 60.48 120.98 L 60.74 101.91 L 61.00 169.18 L 61.26 111.24 L 61.39 116.63 L 61.52 114.66 L 61.90 158.40 L 62.16 121.17 L 62.29 126.92 L 62.42 144.64 L 62.68 128.24 L 62.94 182.78 L 63.33 252.35 L 63.71 159.68 L 63.97 137.68 L 64.10 119.98 L 64.23 132.24 L 64.36 161.89 L 64.62 128.01 L 64.75 143.48 L 64.88 140.60 L 65.01 146.35 L 65.27 115.91 L 65.40 129.43 L 65.53 158.67 L 65.92 109.43 L 66.05 103.59 L 66.18 103.78 L 66.44 150.60 L 66.83 106.89 L 66.96 141.76 L 67.09 210.75 L 67.22 208.36 L 67.48 116.58 L 67.61 111.42 L 67.74 115.18 L 67.88 113.43 L 68.01 115.46 L 68.40 185.12 L 68.53 182.40 L 68.66 143.94 L 68.79 141.53 L 68.92 171.20 L 69.18 128.62 L 69.44 159.20 L 70.10 336.07 L 70.23 319.14 L 71.02 121.68 L 71.15 120.17 L 71.41 220.49 L 71.67 143.87 L 71.81 161.51 L 72.07 117.90 L 72.20 118.67 L 72.33 120.40 L 72.46 124.62 L 72.73 155.48 L 72.99 137.42 L 73.12 157.62 L 73.25 199.36 L 73.52 146.38 L 73.65 172.12 L 73.78 171.87 L 74.04 148.94 L 74.57 228.24 L 74.97 336.07 L 75.10 325.56 L 75.76 133.98 L 75.89 122.48 L 76.03 121.11 L 76.16 133.32 L 76.42 196.95 L 76.69 140.40 L 77.09 112.68 L 77.22 113.71 L 77.48 130.20 L 77.75 107.97 L 77.88 111.39 L 78.15 135.99 L 78.28 126.14 L 78.41 131.98 L 78.55 127.11 L 78.68 117.11 L 78.81 124.68 L 78.95 121.70 L 79.21 137.67 L 79.35 121.62 L 79.48 124.39 L 79.61 137.21 L 79.75 116.30 L 79.88 124.48 L 80.28 212.20 L 80.55 102.61 L 80.68 100.16 L 80.81 100.99 L 81.21 89.51 L 81.48 116.48 L 81.75 86.20 L 82.02 92.04 L 82.69 147.64 L 82.95 90.11 L 83.09 91.65 L 83.36 107.77 L 83.49 100.99 L 83.62 110.75 L 83.76 130.62 L 84.03 95.81 L 84.29 146.14 L 84.43 136.30 L 84.56 142.31 L 84.70 141.89 L 85.10 90.90 L 85.24 95.15 L 85.51 87.25 L 85.64 90.82 L 85.77 90.15 L 86.04 79.30 L 86.18 85.31 L 86.45 144.18 L 86.85 88.78 L 86.99 96.49 L 87.12 91.66 L 87.26 82.50 L 87.39 83.82 L 87.66 111.62 L 88.61 87.97 L 88.88 84.93 L 89.15 118.64 L 89.42 97.87 L 89.56 98.45 L 89.69 101.94 L 89.83 98.87 L 90.10 108.74 L 90.23 100.94 L 90.37 108.44 L 90.51 129.01 L 90.78 105.82 L 90.91 105.81 L 91.05 102.17 L 91.19 103.08 L 91.46 149.28 L 91.73 108.69 L 92.00 117.07 L 92.14 116.77 L 92.41 146.67 L 92.82 108.10 L 93.23 120.91 L 93.36 119.72 L 93.50 121.48 L 93.77 191.92 L 94.05 249.04 L 94.18 251.59 L 94.32 234.45 L 94.59 169.09 L 94.73 178.78 L 95.14 114.82 L 95.28 108.87 L 95.41 108.85 L 95.55 108.34 L 95.69 113.77 L 95.96 134.71 L 96.24 105.32 L 96.37 101.36 L 96.51 103.53 L 96.65 109.26 L 96.78 107.34 L 97.06 123.12 L 97.33 102.52 L 97.61 111.91 L 97.88 94.59 L 98.43 114.88 L 98.57 131.13 L 98.85 100.23 L 99.12 105.49 L 99.26 105.24 L 99.40 97.10 L 99.53 95.85 L 99.67 96.24 L 99.95 114.43 L 100.09 110.70 L 100.36 95.80 L 100.50 97.44 L 100.64 96.30 L 100.78 104.53 L 100.91 104.98 L 101.05 98.13 L 101.47 110.81 L 101.60 110.55 L 101.74 121.66 L 101.88 159.11 L 102.02 157.72 L 102.16 145.29 L 102.30 113.48 L 102.44 116.61 L 102.71 105.15 L 102.85 106.92 L 103.13 99.89 L 103.41 106.73 L 103.54 106.39 L 103.68 101.30 L 103.96 110.62 L 104.24 98.15 L 104.38 94.22 L 104.52 96.98 L 104.79 145.20 L 105.07 105.78 L 105.21 103.49 L 105.35 98.40 L 105.49 97.94 L 105.77 114.21 L 105.91 111.41 L 106.05 106.06 L 106.33 111.95 L 106.60 107.23 L 106.74 109.21 L 106.88 108.20 L 107.30 98.46 L 107.58 115.51 L 107.86 99.11 L 108.00 102.92 L 108.28 116.71 L 108.42 110.51 L 108.70 138.69 L 108.98 106.98 L 109.40 117.21 L 109.82 108.38 L 109.96 110.57 L 110.24 152.75 L 110.38 132.62 L 110.66 150.39 L 110.94 100.07 L 111.22 94.67 L 111.50 95.63 L 111.65 105.57 L 112.07 167.86 L 112.21 161.51 L 112.77 101.70 L 112.91 105.09 L 113.05 100.78 L 113.19 100.06 L 113.34 104.85 L 113.48 103.87 L 113.76 98.00 L 113.90 101.22 L 114.04 107.92 L 114.32 101.86 L 114.46 104.47 L 114.61 102.61 L 114.75 104.88 L 114.89 118.26 L 115.03 115.81 L 115.17 119.66 L 115.31 133.40 L 115.60 100.73 L 115.74 106.75 L 116.02 95.01 L 116.30 92.91 L 116.45 100.77 L 116.73 133.91 L 116.87 118.71 L 117.01 125.25 L 117.15 147.57 L 117.44 114.16 L 117.72 101.50 L 117.86 103.89 L 118.01 103.82 L 118.15 107.26 L 118.43 99.16 L 118.72 152.26 L 119.14 118.91 L 119.29 123.70 L 119.57 106.63 L 119.71 110.54 L 119.86 118.29 L 120.00 113.13 L 120.28 120.79 L 120.43 113.12 L 120.71 138.07 L 121.00 99.71 L 121.14 105.19 L 121.43 119.19 L 121.57 117.23 L 121.71 117.66 L 122.00 128.48 L 122.28 124.81 L 122.43 121.94 L 123.00 137.27 L 123.29 128.33 L 123.57 135.64 L 123.86 128.83 L 124.00 130.11 L 124.15 134.65 L 124.29 131.38 L 124.43 122.39 L 124.58 122.76 L 124.86 134.16 L 125.01 149.57 L 125.15 150.04 L 125.44 109.05 L 125.58 111.64 L 125.73 118.80 L 125.87 117.97 L 126.30 101.63 L 126.45 98.98 L 126.88 115.20 L 127.17 134.57 L 127.45 123.74 L 127.60 133.52 L 127.89 113.95 L 128.03 123.12 L 128.32 196.21 L 128.61 258.32 L 128.75 241.90 L 129.33 119.30 L 129.48 119.61 L 129.62 124.25 L 130.20 109.31 L 130.35 110.59 L 130.49 109.50 L 130.78 115.56 L 131.07 105.76 L 131.22 104.60 L 131.51 112.38 L 131.94 105.47 L 132.09 106.96 L 132.23 106.84 L 132.38 105.15 L 132.52 105.73 L 132.67 108.95 L 132.81 117.80 L 133.11 114.74 L 133.25 115.09 L 133.40 117.20 L 133.69 140.87 L 133.98 117.18 L 134.27 122.13 L 134.42 121.96 L 134.71 111.78 L 135.15 121.27 L 135.29 117.57 L 135.44 117.42 L 135.59 120.24 L 135.73 126.08 L 135.88 125.57 L 136.17 104.11 L 136.46 118.04 L 136.61 118.94 L 136.90 113.07 L 137.05 114.49 L 137.34 121.23 L 137.49 147.35 L 137.63 148.25 L 137.78 147.98 L 138.07 121.17 L 138.22 129.59 L 138.51 114.80 L 138.66 116.73 L 138.81 120.64 L 138.95 117.54 L 139.10 112.03 L 139.40 120.93 L 139.69 108.53 L 140.13 121.71 L 140.28 121.87 L 140.43 121.36 L 140.72 148.80 L 141.01 111.39 L 141.16 114.74 L 141.31 141.22 L 141.46 144.15 L 141.60 132.73 L 141.75 111.94 L 141.90 113.78 L 142.19 108.71 L 142.49 111.05 L 142.64 114.92 L 142.93 131.87 L 143.08 130.19 L 143.38 119.42 L 143.53 122.20 L 143.82 111.23 L 143.97 112.80 L 144.12 119.22 L 144.41 114.89 L 144.86 125.28 L 145.15 116.50 L 145.30 113.86 L 145.60 128.58 L 145.90 115.33 L 146.19 133.23 L 146.49 124.85 L 146.64 117.39 L 146.79 119.86 L 146.94 129.78 L 147.23 112.48 L 147.38 113.88 L 147.53 113.98 L 147.68 112.13 L 147.83 115.52 L 148.13 137.54 L 148.43 115.09 L 148.58 113.97 L 148.87 121.51 L 149.02 122.06 L 149.17 125.06 L 149.32 119.40 L 149.47 123.70 L 149.62 133.04 L 149.77 131.67 L 150.07 119.51 L 150.37 111.64 L 150.52 111.97 L 150.82 109.40 L 150.97 110.68 L 151.26 126.06 L 151.56 147.22 L 151.86 110.51 L 152.01 111.39 L 152.16 115.97 L 152.31 115.36 L 152.61 118.22 L 152.76 117.64 L 152.91 116.53 L 153.06 118.54 L 153.21 123.34 L 153.67 113.13 L 153.82 114.43 L 153.97 118.53 L 154.12 117.09 L 154.27 112.76 L 154.57 145.33 L 154.87 117.91 L 155.17 133.68 L 155.47 119.87 L 155.77 133.38 L 155.92 131.80 L 156.07 135.41 L 156.38 127.61 L 156.53 122.47 L 156.68 121.84 L 156.98 124.65 L 157.28 119.34 L 157.43 123.97 L 157.74 116.41 L 158.04 125.17 L 158.34 112.11 L 158.49 112.39 L 158.79 116.26 L 158.95 120.82 L 159.10 130.78 L 159.25 127.03 L 159.40 128.82 L 159.55 142.82 L 160.01 120.25 L 160.16 116.35 L 160.46 114.69 L 160.62 112.31 L 160.77 115.80 L 160.92 122.39 L 161.07 119.95 L 161.22 113.88 L 161.53 114.47 L 161.83 131.05 L 162.44 110.43 L 162.59 114.19 L 162.74 126.99 L 162.90 128.81 L 163.20 116.88 L 163.35 116.92 L 163.66 123.69 L 163.81 129.29 L 163.97 129.78 L 164.58 111.32 L 164.73 115.67 L 165.03 128.04 L 165.19 133.06 L 165.34 133.74 L 165.49 138.10 L 165.65 133.40 L 165.95 116.31 L 166.11 114.03 L 166.41 123.02 L 166.57 118.19 L 166.72 118.35 L 166.87 123.09 L 167.18 116.12 L 167.33 116.93 L 167.49 115.48 L 168.25 126.35 L 168.41 125.21 L 168.56 118.18 L 168.71 117.74 L 169.02 131.12 L 169.18 119.40 L 169.33 121.40 L 169.48 138.22 L 169.64 136.23 L 169.95 118.78 L 170.10 116.03 L 170.41 136.02 L 170.72 122.34 L 170.87 128.92 L 171.02 126.17 L 171.18 131.39 L 171.33 145.08 L 171.64 113.30 L 171.80 115.44 L 171.95 124.09 L 172.11 140.57 L 172.41 128.02 L 172.57 134.28 L 172.72 130.11 L 172.88 122.51 L 173.03 121.14 L 173.19 122.00 L 173.34 120.78 L 173.50 113.47 L 173.65 116.84 L 173.81 124.92 L 173.96 122.26 L 174.12 122.37 L 174.27 121.29 L 174.43 116.34 L 174.74 114.97 L 174.89 114.95 L 175.20 149.97 L 175.67 119.51 L 175.82 118.98 L 176.14 121.75 L 176.29 125.61 L 176.45 125.66 L 176.91 116.10 L 177.07 115.46 L 177.38 133.58 L 177.54 129.65 L 177.85 118.59 L 178.16 125.02 L 178.32 119.96 L 178.63 120.62 L 178.78 123.79 L 178.94 123.41 L 179.10 120.87 L 179.25 122.16 L 179.41 125.39 L 179.56 132.62 L 179.88 119.73 L 180.35 112.87 L 180.82 122.70 L 180.97 121.78 L 181.13 122.13 L 181.29 121.76 L 181.44 122.26 L 181.76 127.05 L 181.91 131.98 L 182.23 124.81 L 182.38 124.05 L 182.54 126.32 L 182.70 125.80 L 183.01 150.91 L 183.17 145.46 L 183.32 123.19 L 183.48 119.86 L 183.64 123.59 L 183.80 123.78 L 184.11 122.93 L 184.27 127.50 L 184.43 128.80 L 184.58 126.91 L 184.90 150.02 L 185.06 143.02 L 185.21 152.16 L 185.37 154.18 L 185.53 148.26 L 185.69 118.67 L 185.84 119.44 L 186.00 121.03 L 186.16 119.13 L 186.32 119.28 L 186.47 124.15 L 186.63 133.44 L 186.79 131.41 L 187.26 116.80 L 187.58 139.47 L 188.05 123.82 L 188.21 123.68 L 188.37 133.03 L 188.53 153.55 L 188.69 151.56 L 189.00 121.02 L 189.32 124.93 L 189.80 152.62 L 190.11 123.16 L 190.27 122.28 L 190.59 128.36 L 190.91 123.10 L 191.07 124.46 L 191.23 127.02 L 191.39 126.59 L 191.54 125.20 L 191.70 124.97 L 191.86 123.63 L 192.02 124.95 L 192.34 130.89 L 192.50 134.50 L 192.66 127.69 L 192.82 126.16 L 193.14 142.85 L 193.77 117.84 L 194.09 129.88 L 194.25 128.96 L 194.41 125.97 L 194.57 126.19 L 194.73 132.49 L 194.89 131.89 L 195.21 126.34 L 195.37 127.41 L 195.69 160.31 L 196.01 135.50 L 196.17 139.31 L 196.33 140.12 L 197.13 130.87 L 197.29 127.34 L 197.45 128.64 L 197.61 129.01 L 197.77 130.83 L 198.09 138.54 L 198.25 139.62 L 198.58 149.84 L 198.90 139.32 L 199.06 137.59 L 199.22 141.56 L 199.38 152.26 L 199.86 134.46 L 200.02 137.04 L 200.35 147.80 L 200.51 142.55 L 200.67 144.49 L 200.83 150.23 L 201.15 145.88 L 201.31 145.49 L 201.47 146.38 L 201.63 146.09 L 201.80 145.47 L 201.96 147.36 L 202.28 165.68 L 202.44 165.34 L 202.60 162.92 L 202.76 165.91 L 203.25 184.99 L 203.57 213.84 L 203.90 266.54 L 204.06 259.30 L 204.38 188.98 L 204.71 176.18 L 205.03 171.76 L 205.68 164.79 L 205.84 165.42 L 206.17 149.73 L 206.49 144.32 L 207.14 150.51 L 207.47 145.21 L 207.63 146.76 L 207.79 146.43 L 207.96 149.25 L 208.28 140.59 L 208.44 140.27 L 208.77 155.04 L 209.10 135.53 L 209.26 138.92 L 209.58 136.28 L 209.75 143.18 L 209.91 143.41 L 210.24 136.06 L 210.40 140.20 L 210.56 155.27 L 210.73 154.79 L 211.05 138.27 L 211.22 140.88 L 211.38 139.00 L 211.55 133.34 L 211.87 134.24 L 212.20 129.57 L 212.36 130.03 L 212.53 129.43 L 212.69 129.58 L 213.02 136.09 L 213.18 137.36 L 213.35 140.21 L 213.51 139.22 L 213.68 134.28 L 213.84 139.30 L 214.00 157.62 L 214.17 162.54 L 214.33 159.38 L 214.66 141.78 L 214.83 138.59 L 214.99 144.50 L 215.15 144.42 L 215.32 143.74 L 215.65 134.47 L 215.81 135.19 L 215.98 139.79 L 216.14 138.81 L 216.31 138.61 L 216.47 140.16 L 216.97 156.42 L 217.13 151.07 L 217.46 162.19 L 217.63 161.99 L 217.79 155.61 L 217.96 140.51 L 218.29 136.24 L 218.45 133.08 L 218.62 133.53 L 218.95 140.16 L 219.11 139.72 L 219.28 142.51 L 219.44 142.07 L 219.77 146.38 L 220.10 141.08 L 220.27 142.56 L 220.44 150.99 L 220.60 167.71 L 220.77 163.25 L 221.10 136.04 L 221.26 134.91 L 221.43 136.89 L 221.60 141.74 L 221.76 140.33 L 221.93 137.73 L 222.43 142.10 L 222.59 139.47 L 222.76 140.98 L 222.93 147.84 L 223.09 145.01 L 223.42 135.98 L 223.59 136.26 L 223.92 164.51 L 224.09 158.49 L 224.26 147.78 L 224.42 147.93 L 224.59 153.92 L 225.09 145.85 L 225.26 145.00 L 225.59 142.15 L 225.76 138.89 L 225.92 138.86 L 226.09 141.29 L 226.42 148.85 L 226.76 144.57 L 226.93 143.59 L 227.43 155.20 L 227.59 154.29 L 227.76 154.45 L 227.93 154.83 L 228.10 147.59 L 228.26 148.36 L 228.43 146.98 L 228.60 148.81 L 228.93 143.41 L 229.10 143.38 L 229.27 144.36 L 229.61 151.54 L 229.94 144.79 L 230.28 157.49 L 230.78 134.28 L 231.12 140.61 L 231.62 161.15 L 231.79 157.60 L 231.96 157.24 L 232.46 144.17 L 232.63 145.34 L 232.97 139.85 L 233.31 138.71 L 233.47 144.30 L 233.64 156.37 L 233.81 157.62 L 233.98 155.59 L 234.15 146.20 L 234.32 145.35 L 234.66 156.78 L 234.82 151.15 L 234.99 154.79 L 235.16 150.23 L 235.33 149.33 L 235.50 151.84 L 235.67 142.22 L 235.84 142.25 L 236.01 144.86 L 236.18 145.07 L 236.35 146.41 L 236.52 146.87 L 236.69 146.97 L 237.02 141.12 L 237.19 141.85 L 237.36 150.20 L 237.53 149.43 L 237.70 145.33 L 237.87 145.69 L 238.04 147.42 L 238.21 150.36 L 238.38 151.17 L 238.55 151.43 L 238.72 152.92 L 238.89 159.49 L 239.23 146.18 L 239.57 142.81 L 239.91 150.48 L 240.08 146.60 L 240.25 146.97 L 240.59 151.10 L 240.76 144.59 L 240.93 144.37 L 241.10 146.52 L 241.27 145.45 L 241.44 152.38 L 241.62 164.34 L 241.96 145.69 L 242.13 147.97 L 242.30 153.51 L 242.47 154.22 L 242.64 158.21 L 242.98 141.36 L 243.15 141.85 L 243.32 145.75 L 243.66 160.71 L 244.01 148.29 L 244.18 149.48 L 244.35 148.02 L 244.52 149.03 L 244.86 159.82 L 245.03 157.74 L 245.38 150.17 L 245.89 156.77 L 246.06 151.23 L 246.23 151.11 L 246.41 152.74 L 246.58 152.33 L 246.75 154.14 L 246.92 157.65 L 247.44 150.50 L 247.61 153.24 L 247.78 159.00 L 248.12 179.07 L 248.47 168.21 L 248.64 169.64 L 248.98 192.53 L 249.50 155.12 L 249.67 154.58 L 249.85 149.60 L 250.02 151.35 L 250.19 160.61 L 250.54 186.55 L 251.05 150.30 L 251.23 150.95 L 251.40 150.56 L 251.57 152.42 L 251.75 155.65 L 251.92 154.90 L 252.09 157.08 L 252.26 162.51 L 252.61 154.50 L 252.78 155.40 L 253.30 160.83 L 253.48 167.56 L 254.00 150.37 L 254.17 151.91 L 254.34 151.63 L 254.52 152.16 L 255.04 159.38 L 255.38 153.78 L 255.56 154.13 L 255.73 155.44 L 255.91 153.48 L 256.08 152.87 L 256.25 154.26 L 256.60 150.04 L 256.78 150.03 L 257.12 154.43 L 257.30 155.03 L 257.47 154.89 L 257.65 148.37 L 257.82 148.18 L 258.34 161.31 L 258.52 170.57 L 258.69 162.50 L 258.87 160.56 L 259.04 165.78 L 259.22 165.36 L 259.39 161.85 L 259.74 149.42 L 259.91 149.30 L 260.26 156.76 L 260.61 153.52 L 260.79 154.81 L 260.96 153.90 L 261.14 154.46 L 261.66 166.14 L 261.84 164.32 L 262.01 163.68 L 262.19 164.54 L 262.37 160.14 L 262.54 159.24 L 263.07 170.77 L 263.24 164.31 L 263.42 166.55 L 263.59 170.50 L 263.94 160.43 L 264.12 162.66 L 264.30 163.01 L 264.47 163.02 L 264.65 165.26 L 264.82 163.76 L 265.00 159.06 L 265.35 176.46 L 265.70 154.15 L 265.88 150.67 L 266.23 155.64 L 266.58 150.84 L 267.11 160.44 L 267.29 158.76 L 267.47 159.48 L 267.64 164.45 L 267.82 165.63 L 268.17 157.62 L 268.35 155.70 L 268.53 158.90 L 268.70 168.61 L 268.88 171.03 L 269.41 157.71 L 269.59 159.67 L 269.94 169.49 L 270.47 162.37 L 270.65 165.92 L 270.83 171.95 L 271.00 171.02 L 271.18 171.64 L 271.36 174.84 L 271.54 173.52 L 271.89 165.32 L 272.07 168.29 L 272.25 173.78 L 272.60 162.88 L 272.78 163.95 L 272.96 172.13 L 273.13 172.46 L 273.31 160.17 L 273.49 159.79 L 273.67 164.33 L 273.85 159.77 L 274.02 160.40 L 274.20 161.98 L 274.38 161.69 L 274.56 160.97 L 274.74 161.71 L 274.91 159.09 L 275.27 158.28 L 275.98 165.78 L 276.52 156.26 L 276.88 180.67 L 277.59 155.77 L 277.77 158.83 L 277.95 166.95 L 278.13 169.49 L 278.31 165.10 L 278.49 164.83 L 278.85 168.49 L 279.02 167.26 L 279.20 169.77 L 279.56 163.50 L 279.74 167.82 L 279.92 166.98 L 280.28 162.48 L 280.46 163.00 L 280.64 162.72 L 281.00 156.46 L 281.18 157.70 L 281.36 161.31 L 281.72 177.32 L 282.08 167.02 L 282.44 161.77 L 282.80 167.86 L 282.98 164.50 L 283.16 166.01 L 283.34 171.61 L 283.70 166.53 L 283.88 160.34 L 284.06 158.33 L 284.24 159.63 L 284.60 165.86 L 284.96 170.80 L 285.14 173.01 L 285.32 168.21 L 285.50 167.49 L 285.68 166.13 L 285.86 160.96 L 286.04 159.08 L 286.22 159.89 L 286.59 167.20 L 287.13 163.38 L 287.31 159.67 L 287.49 159.21 L 287.67 162.94 L 288.03 173.25 L 288.40 159.58 L 288.58 162.00 L 288.76 168.01 L 289.12 159.92 L 289.30 159.46 L 289.49 164.07 L 289.67 173.10 L 289.85 173.43 L 290.21 164.49 L 290.39 171.28 L 290.58 172.90 L 290.94 160.78 L 291.12 162.57 L 291.30 168.29 L 291.48 168.64 L 291.67 164.82 L 291.85 164.68 L 292.03 165.45 L 292.21 165.66 L 292.40 169.66 L 292.58 176.90 L 292.94 166.60 L 293.31 170.47 L 293.49 168.15 L 293.67 169.78 L 293.85 184.18 L 294.40 168.58 L 294.59 165.18 L 294.77 164.45 L 294.95 166.82 L 295.32 175.04 L 295.50 168.04 L 295.68 166.31 L 296.05 170.90 L 296.23 169.28 L 296.41 168.90 L 296.60 170.80 L 296.78 170.93 L 296.96 165.59 L 297.15 165.55 L 297.51 163.77 L 297.88 165.94 L 298.06 163.09 L 298.25 167.56 L 298.43 175.40 L 298.62 173.36 L 298.98 165.09 L 299.17 166.39 L 299.35 163.19 L 299.53 162.99 L 299.90 180.22 L 300.27 171.74 L 300.45 174.19 L 300.82 171.23 L 301.01 171.47 L 301.19 172.75 L 301.38 176.53 L 301.56 182.94 L 301.74 182.81 L 302.11 168.20 L 302.30 165.59 L 302.48 164.60 L 302.85 171.96 L 303.22 161.26 L 303.41 161.16 L 303.96 168.83 L 304.14 164.44 L 304.33 164.29 L 304.51 163.91 L 304.70 166.11 L 304.88 170.56 L 305.07 165.90 L 305.44 170.03 L 305.63 166.76 L 305.81 166.08 L 306.18 172.48 L 306.37 172.35 L 306.92 164.57 L 307.29 175.42 L 307.85 166.05 L 308.41 174.11 L 308.60 173.44 L 308.97 169.60 L 309.15 172.45 L 309.34 177.98 L 309.71 173.51 L 309.90 172.92 L 310.08 168.37 L 310.27 168.03 L 310.46 168.44 L 310.64 170.47 L 310.83 176.65 L 311.02 175.20 L 311.20 172.39 L 311.39 172.60 L 311.58 172.60 L 311.76 174.15 L 311.95 176.85 L 312.14 174.82 L 312.32 174.11 L 312.51 172.87 L 312.70 168.35 L 313.07 178.81 L 313.45 168.04 L 313.63 169.82 L 313.82 173.81 L 314.01 172.31 L 314.19 175.99 L 314.57 170.67 L 314.76 172.28 L 314.94 172.62 L 315.32 190.82 L 316.07 170.23 L 316.26 170.69 L 316.63 178.01 L 316.82 172.06 L 317.01 170.04 L 317.38 181.87 L 317.57 177.33 L 317.76 177.55 L 318.14 172.19 L 318.32 173.27 L 318.51 180.28 L 318.70 181.59 L 318.89 179.99 L 319.08 175.76 L 319.27 174.08 L 319.83 180.98 L 320.02 180.12 L 320.21 182.42 L 320.40 186.60 L 320.59 182.59 L 320.77 183.57 L 320.96 187.75 L 321.15 186.56 L 321.34 177.17 L 321.53 173.58 L 321.72 177.16 L 321.91 183.43 L 322.29 184.49 L 322.47 178.86 L 322.66 178.86 L 322.85 184.04 L 323.23 174.81 L 323.61 178.19 L 323.80 176.71 L 323.99 178.19 L 324.18 182.89 L 324.37 182.11 L 324.56 176.35 L 324.94 179.38 L 325.13 177.59 L 325.32 178.17 L 325.51 182.48 L 325.70 183.97 L 325.89 181.60 L 326.08 181.50 L 326.84 174.10 L 327.03 174.91 L 327.22 176.21 L 327.41 178.30 L 327.98 192.27 L 328.36 176.22 L 328.55 177.74 L 328.74 180.20 L 328.93 180.52 L 329.50 176.70 L 329.69 177.71 L 329.89 180.12 L 330.08 180.20 L 330.27 178.26 L 330.46 178.67 L 330.84 181.74 L 331.03 179.99 L 331.22 181.31 L 331.60 191.18 L 331.80 189.26 L 331.99 189.83 L 332.37 181.94 L 332.56 184.64 L 332.94 178.06 L 333.14 178.36 L 333.33 182.16 L 333.52 183.54 L 333.90 178.22 L 334.09 178.80 L 334.48 191.63 L 334.67 189.17 L 335.05 177.83 L 335.63 188.03 L 335.82 183.50 L 336.02 183.03 L 336.21 184.40 L 336.59 180.79 L 336.78 182.52 L 336.98 185.61 L 337.36 186.37 L 337.75 184.59 L 337.94 185.27 L 338.13 186.45 L 338.52 180.64 L 338.90 181.19 L 339.29 185.86 L 339.48 185.86 L 339.68 185.73 L 339.87 188.29 L 340.06 192.79 L 340.26 193.85 L 340.45 191.91 L 340.64 188.69 L 341.22 185.33 L 341.42 184.08 L 341.61 184.83 L 341.80 189.21 L 342.00 190.49 L 342.38 186.32 L 342.58 186.58 L 342.77 189.17 L 342.97 187.11 L 343.35 178.38 L 343.55 178.79 L 343.74 182.25 L 343.94 182.43 L 344.32 184.74 L 344.52 182.84 L 344.71 183.53 L 344.91 188.86 L 345.10 189.97 L 345.49 187.35 L 345.68 191.62 L 346.07 184.69 L 346.27 184.41 L 346.46 184.35 L 346.66 188.79 L 346.85 188.88 L 347.24 185.15 L 347.44 186.35 L 347.83 189.37 L 348.02 190.72 L 348.22 185.92 L 348.41 185.32 L 348.80 192.88 L 349.19 188.43 L 349.58 196.32 L 350.17 187.89 L 350.37 187.36 L 350.56 188.61 L 350.76 191.95 L 350.95 198.30 L 351.34 185.78 L 351.54 184.56 L 351.74 184.36 L 351.93 186.82 L 352.13 191.58 L 352.32 202.19 L 352.52 219.60 L 352.72 220.19 L 353.11 207.84 L 353.30 206.28 L 353.50 212.71 L 353.89 193.85 L 354.09 191.46 L 354.29 190.63 L 354.48 186.80 L 354.68 185.94 L 355.07 195.92 L 355.47 190.18 L 355.86 191.75 L 356.06 190.26 L 356.45 198.44 L 356.84 193.02 L 357.04 193.88 L 357.24 197.54 L 357.44 196.40 L 357.63 193.48 L 357.83 193.80 L 358.03 196.97 L 358.42 188.68 L 358.62 189.23 L 358.82 188.61 L 359.01 187.55 L 359.21 188.61 L 359.61 195.71 L 359.81 195.67 L 360.00 194.08 L 360.20 194.09 L 360.40 194.99 L 360.60 189.82 L 360.79 190.47 L 360.99 197.03 L 361.39 190.22 L 361.59 191.56 L 361.98 196.23 L 362.18 194.78 L 362.38 190.24 L 362.58 190.21 L 362.78 194.97 L 362.98 196.99 L 363.17 196.59 L 363.37 194.44 L 363.57 193.67 L 363.77 197.85 L 363.97 196.57 L 364.17 192.32 L 364.37 192.18 L 364.56 193.26 L 364.76 193.39 L 364.96 192.08 L 365.16 192.92 L 365.36 193.21 L 365.76 198.99 L 365.96 197.13 L 366.16 193.29 L 366.56 190.94 L 366.75 192.07 L 366.95 194.14 L 367.35 200.49 L 367.55 199.10 L 367.75 194.54 L 367.95 193.77 L 368.15 198.54 L 368.35 196.47 L 368.55 193.12 L 368.95 200.63 L 369.55 195.86 L 369.75 194.88 L 369.95 195.05 L 370.35 193.89 L 370.55 194.39 L 370.75 197.55 L 370.95 198.38 L 371.35 205.98 L 371.55 209.67 L 371.95 193.77 L 372.35 191.41 L 372.76 197.22 L 372.96 197.04 L 373.16 197.83 L 373.36 197.45 L 373.96 204.92 L 374.36 195.75 L 374.56 195.99 L 374.77 195.48 L 375.17 189.70 L 375.77 196.75 L 375.97 196.96 L 376.18 195.76 L 376.38 193.66 L 376.58 192.74 L 376.78 193.74 L 377.39 199.12 L 377.59 199.68 L 377.79 197.62 L 377.99 197.26 L 378.39 203.93 L 378.80 195.46 L 379.00 197.94 L 379.20 202.46 L 379.41 201.89 L 379.81 197.59 L 380.22 196.19 L 380.42 196.38 L 380.62 195.49 L 380.82 195.20 L 381.23 199.07 L 381.43 197.99 L 381.63 198.64 L 382.04 201.23 L 382.24 201.03 L 382.44 199.34 L 382.65 198.87 L 382.85 199.39 L 383.05 200.95 L 383.46 212.88 L 383.87 206.47 L 384.07 204.17 L 384.27 203.88 L 384.48 200.77 L 384.68 202.09 L 384.88 202.56 L 385.09 201.47 L 385.29 201.65 L 385.49 200.88 L 385.90 210.52 L 386.11 203.08 L 386.31 200.53 L 386.72 206.48 L 386.92 207.73 L 387.13 212.27 L 387.33 207.41 L 387.53 205.48 L 387.94 198.80 L 388.15 202.21 L 388.35 209.24 L 388.55 210.79 L 388.76 211.47 L 388.96 204.68 L 389.17 207.75 L 389.37 213.75 L 389.78 200.86 L 389.99 200.88 L 390.60 206.16 L 390.81 202.70 L 391.01 204.42 L 391.22 208.21 L 391.63 210.37 L 392.24 198.59 L 392.45 199.47 L 392.86 210.06 L 393.06 206.38 L 393.27 204.99 L 393.47 209.79 L 393.88 210.58 L 394.09 207.51 L 394.30 202.09 L 394.50 200.45 L 394.71 200.42 L 394.91 204.63 L 395.12 213.67 L 395.32 210.78 L 395.74 202.38 L 395.94 201.66 L 396.36 206.45 L 396.97 202.86 L 397.18 200.97 L 397.59 202.38 L 397.80 202.66 L 398.63 210.96 L 398.83 211.12 L 399.25 202.34 L 399.45 205.49 L 399.66 210.76 L 400.07 205.66 L 400.28 205.90 L 400.49 206.50 L 400.70 207.61 L 400.90 207.50 L 401.11 207.21 L 401.32 207.46 L 401.73 205.11 L 402.35 202.95 L 402.56 208.74 L 402.77 210.95 L 402.98 207.89 L 403.18 206.61 L 403.60 207.49 L 403.81 204.85 L 404.02 203.66 L 404.43 208.16 L 404.64 206.37 L 404.85 208.60 L 405.06 209.54 L 405.26 212.15 L 405.47 216.83 L 405.89 207.47 L 406.10 207.12 L 406.31 208.28 L 406.51 208.43 L 406.72 208.72 L 406.93 207.84 L 407.14 206.44 L 407.35 207.67 L 407.77 212.12 L 407.98 209.53 L 408.18 208.87 L 408.39 210.35 L 408.60 209.59 L 408.81 208.11 L 409.02 210.83 L 409.23 215.44 L 409.44 216.01 L 409.65 212.62 L 409.86 214.35 L 410.07 217.72 L 410.49 207.68 L 410.90 209.70 L 411.11 207.95 L 411.53 212.47 L 411.74 215.80 L 411.95 214.71 L 412.16 210.04 L 412.37 208.06 L 412.79 214.50 L 413.00 214.64 L 413.21 215.84 L 413.42 218.14 L 413.63 214.63 L 413.84 208.94 L 414.05 208.61 L 414.26 210.03 L 414.89 217.22 L 415.53 212.70 L 415.74 214.65 L 415.95 219.01 L 416.16 216.21 L 416.58 215.39 L 416.79 215.47 L 417.00 216.82 L 417.21 214.37 L 417.42 210.20 L 417.63 209.97 L 418.06 212.47 L 418.27 211.51 L 418.48 209.86 L 418.69 209.56 L 419.11 215.06 L 419.53 226.49 L 419.96 215.93 L 420.38 215.18 L 420.59 212.13 L 420.80 211.81 L 421.02 214.12 L 421.44 212.43 L 421.65 212.37 L 422.08 216.92 L 422.29 214.79 L 422.50 215.23 L 422.71 216.74 L 422.93 215.66 L 423.14 213.46 L 423.35 214.41 L 423.77 221.17 L 424.20 214.17 L 424.41 215.39 L 425.05 221.17 L 425.26 222.22 L 425.48 221.59 L 425.69 216.36 L 425.90 214.53 L 426.12 216.10 L 426.33 216.74 L 426.75 219.32 L 427.18 215.78 L 427.39 215.38 L 427.61 214.47 L 427.82 216.27 L 428.03 215.37 L 428.25 211.57 L 428.46 210.93 L 428.89 215.82 L 429.10 217.64 L 429.53 218.39 L 429.96 215.96 L 430.39 220.88 L 430.60 221.56 L 430.81 224.30 L 431.24 219.32 L 431.67 221.63 L 432.10 215.84 L 432.31 216.67 L 432.53 219.49 L 432.74 220.27 L 432.96 220.23 L 433.17 219.01 L 433.39 219.39 L 433.60 219.35 L 433.82 218.67 L 434.03 220.53 L 434.25 219.82 L 434.68 216.16 L 434.89 218.12 L 435.11 223.40 L 435.32 222.13 L 435.54 218.19 L 435.75 218.44 L 435.97 225.63 L 436.18 227.14 L 436.61 218.33 L 436.83 221.51 L 437.26 229.91 L 437.69 219.30 L 437.91 218.02 L 438.12 218.17 L 438.77 225.72 L 438.99 222.69 L 439.20 222.80 L 439.42 223.73 L 439.63 226.90 L 440.28 230.66 L 440.50 228.50 L 440.71 222.29 L 440.93 220.58 L 441.15 220.76 L 441.36 218.42 L 441.80 222.63 L 442.01 223.01 L 442.45 225.41 L 442.66 226.63 L 442.88 224.85 L 443.10 221.98 L 443.31 222.17 L 443.53 223.07 L 443.75 227.87 L 443.97 229.21 L 444.18 227.23 L 444.40 227.61 L 444.62 224.77 L 444.83 223.50 L 445.05 224.27 L 445.27 224.24 L 445.49 223.03 L 445.70 220.85 L 445.92 220.82 L 446.14 224.08 L 446.58 226.76 L 446.79 229.97 L 447.01 228.54 L 447.23 228.42 L 447.45 228.99 L 447.88 232.47 L 448.10 236.23 L 448.32 236.15 L 448.54 235.69 L 448.75 237.01 L 448.97 239.32 L 449.41 249.14 L 449.63 258.87 L 449.85 289.21 L 450.07 300.18 L 450.50 249.00 L 450.72 248.82 L 451.60 236.45 L 451.82 237.39 L 452.03 239.79 L 452.47 230.80 L 452.69 229.43 L 452.91 230.70 L 453.13 229.84 L 453.57 225.48 L 453.79 226.08 L 454.01 228.72 L 454.23 227.55 L 454.45 225.03 L 454.67 223.98 L 454.89 223.72 L 455.10 224.39 L 455.32 225.53 L 455.54 227.47 L 455.76 227.96 L 455.98 230.91 L 456.20 232.34 L 456.64 220.66 L 456.86 221.02 L 457.52 225.29 L 457.74 224.65 L 457.97 227.17 L 458.19 227.73 L 458.41 227.66 L 458.85 223.46 L 459.07 223.28 L 459.51 225.70 L 459.73 225.88 L 459.95 227.12 L 460.17 230.05 L 460.39 229.57 L 460.61 228.31 L 460.83 229.40 L 461.06 227.99 L 461.28 227.41 L 461.50 227.59 L 461.72 225.65 L 462.16 227.56 L 462.38 227.48 L 462.60 227.92 L 462.83 227.63 L 463.05 224.39 L 463.27 223.81 L 463.49 225.41 L 463.71 223.02 L 463.93 223.07 L 464.16 226.74 L 464.38 228.02 L 464.60 226.41 L 464.82 227.24 L 465.26 237.74 L 465.71 226.06 L 465.93 225.88 L 466.15 228.39 L 466.38 228.43 L 466.60 228.62 L 467.04 223.95 L 467.71 227.87 L 467.93 226.95 L 468.16 225.35 L 468.60 227.40 L 468.82 227.35 L 469.05 228.32 L 469.27 228.33 L 469.49 227.60 L 469.72 225.20 L 469.94 225.38 L 470.16 229.30 L 470.39 230.14 L 470.61 228.37 L 470.83 230.39 L 471.06 231.18 L 471.28 226.47 L 471.50 228.59 L 471.73 232.71 L 472.17 226.82 L 472.40 227.26 L 472.84 229.43 L 473.07 227.91 L 473.29 227.61 L 473.52 235.45 L 473.74 238.73 L 473.96 231.22 L 474.19 227.67 L 474.41 229.86 L 474.64 229.90 L 475.08 226.50 L 475.53 227.48 L 475.98 226.13 L 476.21 226.65 L 476.43 226.76 L 476.66 227.00 L 476.88 225.96 L 477.10 226.85 L 477.33 230.09 L 477.55 231.23 L 477.78 230.69 L 478.00 232.61 L 478.45 233.38 L 478.90 228.91 L 479.13 229.50 L 479.36 231.70 L 479.58 231.26 L 480.03 232.87 L 480.26 231.64 L 480.48 231.29 L 480.71 230.54 L 480.93 233.00 L 481.16 233.30 L 481.38 231.49 L 481.84 230.22 L 482.29 230.60 L 482.51 228.88 L 482.74 228.54 L 482.97 228.80 L 483.19 228.49 L 483.42 229.34 L 483.64 232.37 L 483.87 233.67 L 484.10 232.74 L 484.32 230.40 L 484.55 229.41 L 484.78 229.75 L 485.00 228.82 L 485.23 228.66 L 485.46 229.04 L 485.68 226.66 L 485.91 226.46 L 486.14 229.39 L 486.59 231.82 L 486.82 234.43 L 487.27 232.48 L 487.50 232.24 L 487.95 229.08 L 488.18 231.29 L 488.41 231.55 L 488.64 231.17 L 488.86 230.53 L 489.09 230.55 L 489.32 233.14 L 489.55 234.24 L 490.23 233.24 L 490.46 233.44 L 490.68 234.68 L 490.91 234.92 L 491.37 231.27 L 491.60 231.02 L 492.05 233.32 L 492.28 231.81 L 492.97 234.29 L 493.42 232.47 L 493.65 232.70 L 494.11 233.83 L 494.34 235.73 L 494.79 230.96 L 495.02 230.89 L 495.48 233.38 L 495.71 235.61 L 495.94 236.39 L 496.63 232.28 L 496.86 231.58 L 497.32 234.21 L 497.54 233.79 L 497.77 234.42 L 498.00 234.69 L 498.46 238.63 L 498.92 236.06 L 499.15 233.56 L 499.38 232.44 L 499.61 230.15 L 499.84 230.24 L 500.30 234.02 L 500.53 233.92 L 500.76 235.47 L 500.99 239.13 L 501.22 238.24 L 501.45 235.86 L 501.68 235.20 L 501.91 237.69 L 502.14 237.40 L 502.38 235.23 L 502.61 234.46 L 502.84 234.57 L 503.07 233.33 L 503.30 234.69 L 503.76 235.76 L 504.22 240.82 L 504.68 235.32 L 504.91 234.44 L 505.38 237.82 L 505.61 237.27 L 505.84 237.13 L 506.07 237.41 L 506.30 238.34 L 506.77 235.23 L 507.00 236.75 L 507.23 236.47 L 507.46 234.46 L 507.69 234.25 L 507.92 235.97 L 508.39 247.09 L 508.62 245.18 L 509.08 235.58 L 509.32 235.11 L 509.55 238.83 L 509.78 239.09 L 510.01 238.05 L 510.48 239.11 L 510.71 237.64 L 510.94 238.07 L 511.18 237.42 L 511.41 235.70 L 511.64 236.18 L 511.87 240.17 L 512.11 241.89 L 512.57 235.75 L 512.81 235.92 L 513.04 237.43 L 513.27 237.65 L 513.50 235.48 L 513.74 236.51 L 513.97 240.48 L 514.20 242.35 L 514.44 241.07 L 514.67 240.65 L 514.90 241.02 L 515.14 239.60 L 515.37 238.90 L 515.60 239.81 L 515.84 239.18 L 516.07 240.85 L 516.31 243.57 L 516.54 243.25 L 516.77 241.30 L 517.01 241.42 L 517.24 242.24 L 517.48 241.98 L 517.94 240.87 L 518.18 243.81 L 518.41 243.27 L 518.65 239.52 L 519.12 237.95 L 519.35 237.43 L 519.58 240.73 L 519.82 242.40 L 520.29 238.36 L 520.52 239.52 L 520.76 242.09 L 520.99 241.73 L 521.23 239.72 L 521.46 239.96 L 521.70 242.14 L 521.93 242.72 L 522.40 240.79 L 522.64 241.48 L 522.87 240.36 L 523.11 238.34 L 523.34 238.16 L 523.58 237.66 L 523.81 237.58 L 524.52 240.74 L 524.76 242.74 L 524.99 242.91 L 525.70 237.99 L 526.17 244.73 L 526.64 243.50 L 527.35 246.05 L 527.59 244.11 L 527.83 243.57 L 528.06 248.02 L 528.30 246.96 L 528.54 245.05 L 528.77 244.59 L 529.01 244.80 L 529.25 244.25 L 529.48 241.65 L 529.72 243.07 L 529.96 246.84 L 530.43 242.99 L 530.67 244.89 L 530.90 244.69 L 531.62 241.80 L 531.85 242.01 L 532.33 245.46 L 532.57 245.56 L 533.04 243.09 L 533.28 242.74 L 533.52 244.02 L 533.75 244.65 L 533.99 244.01 L 534.23 243.80 L 534.47 244.26 L 534.71 245.27 L 534.94 246.83 L 535.18 245.21 L 535.42 242.40 L 535.66 244.55 L 535.90 247.83 L 536.37 247.01 L 536.61 245.51 L 537.09 247.86 L 537.33 247.37 L 537.57 245.30 L 537.81 245.16 L 538.04 244.19 L 538.28 241.86 L 538.52 242.33 L 539.00 245.23 L 539.72 243.60 L 539.96 242.23 L 540.43 247.25 L 540.67 246.30 L 540.91 246.19 L 541.15 246.26 L 541.63 255.41 L 541.87 254.31 L 542.11 251.76 L 542.59 250.30 L 543.07 248.66 L 543.31 248.25 L 543.79 257.39 L 544.27 247.60 L 544.51 247.97 L 544.75 247.89 L 544.99 245.75 L 545.47 245.96 L 545.71 245.57 L 546.19 248.88 L 546.44 247.54 L 546.68 247.25 L 547.16 250.63 L 547.40 249.30 L 547.64 252.23 L 547.88 256.82 L 548.12 255.18 L 548.36 251.79 L 548.60 250.48 L 548.85 250.81 L 549.09 249.23 L 549.57 250.50 L 549.81 250.07 L 550.05 249.88 L 550.29 247.91 L 550.54 248.48 L 551.02 252.58 L 551.26 251.82 L 551.50 250.24 L 551.74 251.11 L 551.99 256.16 L 552.23 255.60 L 552.71 248.38 L 552.96 249.47 L 553.20 251.91 L 553.44 252.55 L 553.68 249.43 L 553.92 249.14 L 554.17 249.97 L 554.41 249.84 L 554.65 251.50 L 554.90 254.17 L 555.14 254.43 L 555.87 248.37 L 556.11 250.08 L 556.35 253.29 L 556.84 250.60 L 557.08 251.63 L 557.32 251.31 L 557.57 250.31 L 557.81 250.34 L 558.30 248.97 L 558.78 252.71 L 559.03 251.18 L 559.27 251.32 L 559.52 251.75 L 559.76 253.32 L 560.00 253.97 L 560.25 253.07 L 560.49 249.76 L 560.74 249.42 L 560.98 255.68 L 561.22 258.95 L 561.47 256.76 L 561.71 251.67 L 561.96 250.85 L 562.44 255.01 L 562.69 251.83 L 562.93 250.36 L 563.18 250.86 L 563.42 252.01 L 563.67 252.58 L 563.91 252.25 L 564.16 253.83 L 564.40 256.52 L 565.14 251.95 L 565.38 253.68 L 565.63 254.60 L 566.12 252.95 L 566.36 252.90 L 566.61 251.54 L 566.85 252.30 L 567.10 255.25 L 567.34 254.90 L 567.59 254.17 L 567.84 254.83 L 568.08 253.92 L 568.33 253.91 L 568.57 254.57 L 568.82 254.41 L 569.31 254.47 L 569.56 255.66 L 569.80 257.74 L 570.54 251.64 L 570.79 249.96 L 571.03 250.64 L 571.28 252.73 L 571.53 253.33 L 572.02 253.94 L 572.27 255.30 L 572.51 255.56 L 572.76 255.01 L 573.01 255.30 L 573.50 254.16 L 573.75 255.25 L 573.99 256.94 L 575.23 252.22 L 575.73 256.06 L 575.97 256.21 L 576.22 254.68 L 576.47 255.55 L 576.72 255.77 L 576.96 253.79 L 577.21 253.61 L 577.46 255.84 L 577.71 256.70 L 577.96 256.06 L 578.20 256.44 L 578.45 257.06 L 578.70 258.18 L 579.20 254.90 L 579.69 262.27 L 579.94 258.12 L 580.19 256.17 L 580.69 264.10 L 580.94 262.41 L 581.18 262.68 L 581.43 261.47 L 581.68 262.26 L 581.93 259.49 L 582.18 255.06 L 582.43 254.24 L 583.18 257.66 L 583.67 260.23 L 584.17 254.82 L 584.42 255.10 L 585.17 259.50 L 585.67 257.59 L 585.92 258.26 L 586.17 258.08 L 586.42 256.73 L 586.92 258.82 L 587.17 258.25 L 587.42 258.32 L 587.67 259.50 L 588.17 259.91 L 588.42 261.06 L 588.67 260.01 L 588.92 260.02 L 589.17 259.45 L 589.67 260.24 L 589.92 260.59 L 590.18 259.08 L 590.43 258.84 L 590.93 262.31 L 591.18 262.12 L 591.43 260.42 L 591.68 261.60 L 591.93 261.68 L 592.43 257.19 L 592.69 257.39 L 593.19 264.76 L 593.44 263.99 L 593.69 259.57 L 593.94 258.20 L 594.20 258.71 L 594.70 261.99 L 594.95 262.51 L 595.45 262.61 L 595.71 262.31 L 596.21 259.23 L 596.72 261.00 L 596.97 258.80 L 597.22 258.50 L 597.73 263.24 L 597.98 262.27 L 598.23 262.48 L 598.48 265.69 L 598.74 263.48 L 598.99 262.76 L 599.24 263.23 L 599.75 266.15 L 600.25 260.29 L 600.76 262.22 L 601.01 262.44 L 601.27 262.84 L 601.52 264.11 L 601.77 262.83 L 602.03 260.62 L 602.28 261.48 L 603.04 268.34 L 603.30 268.91 L 603.55 266.43 L 604.06 263.21 L 604.31 263.47 L 604.56 266.14 L 604.82 265.51 L 605.07 263.93 L 605.33 263.92 L 605.58 262.60 L 605.84 262.49 L 606.09 266.58 L 606.35 266.41 L 606.60 264.36 L 606.85 264.16 L 607.36 266.14 L 607.62 265.00 L 607.87 264.89 L 608.13 265.04 L 608.89 263.27 L 609.40 269.52 L 610.17 263.92 L 610.68 270.40 L 610.94 269.09 L 611.19 266.56 L 611.70 265.65 L 612.21 269.42 L 612.47 269.43 L 612.73 270.65 L 612.98 268.09 L 613.24 266.78 L 613.49 266.22 L 614.01 262.88 L 614.26 264.13 L 614.78 269.90 L 615.29 265.81 L 615.55 265.99 L 615.80 267.12 L 616.32 263.41 L 616.83 269.99 L 617.09 269.61 L 617.60 264.90 L 617.86 265.58 L 618.12 266.60 L 618.37 269.16 L 618.63 268.60 L 618.89 267.74 L 619.14 268.11 L 619.40 268.04 L 619.66 268.67 L 619.92 268.49 L 620.18 269.96 L 620.43 269.68 L 620.69 266.99 L 621.21 266.40 L 621.46 265.01 L 621.72 267.97 L 621.98 273.23 L 622.24 271.21 L 622.50 267.97 L 623.01 267.16 L 623.27 265.73 L 623.53 266.02 L 624.05 269.05 L 624.31 268.70 L 624.56 267.26 L 624.82 267.87 L 625.08 268.83 L 625.34 268.68 L 625.60 269.21 L 625.86 269.43 L 626.38 268.20 L 626.64 268.45 L 626.90 269.96 L 627.15 270.41 L 627.41 269.95 L 627.67 269.97 L 627.93 269.47 L 628.19 270.18 L 628.71 273.67 L 628.97 273.27 L 629.23 271.20 L 629.49 270.34 L 629.75 268.39 L 630.01 268.73 L 630.27 269.75 L 630.79 269.25 L 631.05 269.11 L 631.31 271.14 L 631.57 271.83 L 632.09 270.08 L 632.35 270.69 L 632.61 270.44 L 632.87 268.68 L 633.13 268.19 L 633.66 271.39 L 633.92 270.67 L 634.18 269.52 L 634.44 271.05 L 634.70 271.45 L 634.96 271.34 L 635.22 272.02 L 635.48 271.80 L 635.74 271.38 L 636.01 271.73 L 636.27 269.11 L 636.53 269.39 L 636.79 271.11 L 637.05 271.56 L 637.31 271.28 L 637.58 272.01 L 637.84 273.12 L 638.10 272.95 L 638.62 273.92 L 639.15 271.30 L 639.41 270.47 L 639.67 271.87 L 639.93 271.93 L 640.20 272.14 L 640.46 273.85 L 640.72 274.40 L 640.98 272.88 L 641.25 272.07 L 641.77 272.35 L 642.03 273.27 L 642.56 268.86 L 642.82 269.67 L 643.08 271.77 L 643.35 272.78 L 643.61 272.36 L 643.87 272.33 L 644.14 272.92 L 644.40 272.08 L 644.66 272.26 L 644.93 271.99 L 645.19 273.53 L 645.45 276.23 L 645.98 272.62 L 646.24 273.06 L 646.51 272.94 L 646.77 272.64 L 647.04 275.40 L 647.30 275.58 L 647.83 270.46 L 648.36 271.03 L 648.88 276.56 L 649.15 275.73 L 649.68 272.56 L 649.94 273.85 L 650.21 274.00 L 650.74 272.26 L 651.27 273.33 L 651.53 273.10 L 651.80 273.36 L 652.06 272.62 L 652.33 272.37 L 652.86 273.77 L 653.12 274.73 L 653.39 274.77 L 653.65 272.12 L 653.92 271.93 L 654.45 276.52 L 654.71 276.39 L 654.98 276.57 L 655.25 276.33 L 655.51 274.70 L 655.78 274.28 L 656.04 274.28 L 656.31 273.17 L 656.58 273.86 L 656.84 275.04 L 657.11 274.85 L 657.37 275.79 L 657.64 275.62 L 657.91 275.26 L 658.17 274.45 L 658.44 274.79 L 659.24 277.34 L 659.77 273.77 L 660.31 275.83 L 660.57 276.87 L 660.84 276.56 L 661.11 276.45 L 661.38 274.65 L 661.64 274.87 L 661.91 275.35 L 662.44 273.37 L 662.71 273.07 L 662.98 273.76 L 663.25 274.79 L 663.78 279.39 L 664.05 279.43 L 664.32 276.21 L 664.59 276.47 L 664.85 275.86 L 665.12 274.94 L 665.93 278.80 L 666.19 278.22 L 666.73 275.59 L 667.00 275.83 L 667.27 276.81 L 667.54 277.10 L 667.81 278.75 L 668.07 278.79 L 668.34 279.62 L 668.61 279.65 L 668.88 278.79 L 669.15 276.79 L 669.42 276.51 L 669.69 278.92 L 669.96 279.97 L 670.23 280.12 L 670.76 279.20 L 671.03 278.18 L 671.30 276.66 L 671.57 276.92 L 671.84 278.47 L 672.11 278.94 L 672.38 277.28 L 672.65 278.19 L 672.92 279.93 L 673.19 278.88 L 673.46 278.96 L 673.73 280.49 L 674.27 278.16 L 674.54 278.36 L 674.81 278.95 L 675.35 286.86 L 675.89 277.74 L 676.16 276.19 L 676.71 278.29 L 676.98 280.15 L 677.25 283.78 L 677.79 280.75 L 678.06 280.73 L 678.60 276.79 L 678.87 278.03 L 679.42 280.97 L 679.96 278.22 L 680.23 278.51 L 680.50 278.18 L 680.77 279.64 L 681.04 282.44 L 681.32 280.43 L 681.59 279.36 L 681.86 281.57 L 682.13 281.86 L 682.68 278.69 L 682.95 278.77 L 683.22 280.72 L 683.49 281.16 L 683.77 279.06 L 684.04 278.70 L 684.31 280.21 L 684.58 278.87 L 684.86 278.77 L 685.13 279.03 L 685.67 281.79 L 685.95 280.94 L 686.22 279.32 L 686.49 279.58 L 686.76 282.51 L 687.04 282.47 L 687.58 278.52 L 688.13 279.39 L 688.40 279.32 L 688.95 279.82 L 689.22 279.42 L 689.77 279.26 L 690.05 279.15 L 690.59 282.33 L 690.87 282.80 L 691.42 280.93 L 692.24 283.52 L 692.51 285.43 L 693.06 282.92 L 693.34 283.45 L 693.61 283.11 L 693.89 282.25 L 694.16 282.18 L 694.43 285.95 L 694.71 287.91 L 695.26 285.24 L 695.53 285.19 L 695.81 283.65 L 696.08 283.91 L 696.36 285.18 L 696.91 282.00 L 697.19 281.57 L 697.46 281.53 L 697.74 280.10 L 698.01 281.38 L 698.29 283.45 L 698.84 281.14 L 699.39 284.55 L 699.67 284.27 L 699.94 283.77 L 700.22 282.90 L 700.50 282.93 L 700.77 283.57 L 701.05 284.91 L 701.32 284.18 L 701.60 282.67 L 701.88 283.86 L 702.15 285.60 L 702.43 285.67 L 702.98 283.27 L 703.26 283.13 L 703.81 284.37 L 704.09 284.04 L 704.37 286.05 L 704.65 289.50 L 705.20 284.02 L 705.48 284.62 L 705.76 283.74 L 706.03 283.99 L 706.31 284.66 L 706.59 283.39 L 706.87 283.51 L 707.14 286.56 L 707.42 285.32 L 707.70 283.35 L 707.98 284.46 L 708.25 286.40 L 708.53 286.13 L 708.81 286.31 L 709.09 285.90 L 709.37 286.99 L 709.65 287.32 L 709.92 286.92 L 710.20 286.74 L 710.76 287.68 L 711.04 287.87 L 711.32 285.37 L 711.87 287.48 L 712.15 287.35 L 712.71 284.39 L 712.99 285.42 L 713.27 287.07 L 713.55 286.85 L 714.11 284.27 L 714.39 285.93 L 714.67 286.50 L 715.22 282.55 L 715.78 288.18 L 716.06 287.55 L 716.34 288.07 L 716.62 292.71 L 716.90 292.72 L 717.18 288.98 L 717.46 287.72 L 717.74 287.39 L 718.02 286.67 L 718.30 286.90 L 718.58 287.34 L 719.43 294.18 L 719.99 287.67 L 720.27 288.81 L 720.55 288.57 L 720.83 286.56 L 721.11 286.72 L 721.39 286.27 L 721.67 286.86 L 721.95 289.26 L 722.23 288.54 L 722.52 288.46 L 723.08 287.20 L 723.36 287.16 L 723.64 287.97 L 723.92 287.98 L 724.20 287.52 L 724.49 287.84 L 724.77 289.28 L 725.05 287.89 L 725.33 288.61 L 725.61 288.82 L 725.90 287.33 L 726.18 287.15 L 726.46 288.19 L 726.74 287.00 L 727.02 287.24 L 727.31 287.72 L 727.59 289.66 L 727.87 292.99 L 728.15 292.60 L 728.72 289.86 L 729.00 291.00 L 729.28 294.92 L 729.57 301.68 L 729.85 298.64 L 730.13 291.38 L 730.42 288.96 L 730.70 289.57 L 730.98 291.09 L 731.27 291.61 L 731.55 290.31 L 731.83 290.38 L 732.12 290.94 L 732.40 291.09 L 732.68 289.88 L 732.97 287.31 L 733.25 289.06 L 733.53 291.57 L 734.10 290.31 L 734.39 290.80 L 734.67 290.65 L 734.95 291.28 L 735.24 290.63 L 735.52 291.34 L 735.81 296.94 L 736.38 321.49 L 736.94 294.84 L 737.23 290.86 L 737.51 288.88 L 737.80 289.64 L 738.08 291.08 L 738.37 289.91 L 738.94 291.82 L 739.22 290.62 L 739.51 290.05 L 740.08 294.10 L 740.65 290.71 L 740.94 289.71 L 741.22 290.26 L 741.51 292.01 L 741.79 292.47 L 742.08 291.39 L 742.36 290.93 L 742.65 291.46 L 742.94 291.04 L 743.22 290.93 L 743.51 290.69 L 744.08 291.18 L 744.37 292.25 L 744.94 290.87 L 745.23 293.06 L 745.51 293.24 L 745.80 290.60 L 746.09 289.88 L 746.37 290.17 L 746.66 292.15 L 747.52 294.29 L 748.09 292.29 L 748.38 293.89 L 748.67 294.05 L 748.96 293.00 L 749.24 290.34 L 749.53 289.81 L 749.82 291.90 L 750.11 293.13 L 750.39 292.72 L 750.68 293.60 L 750.97 293.07 L 751.26 290.62 L 751.54 291.27 L 751.83 293.51 L 752.12 293.18 L 752.41 291.52 L 752.70 290.88 L 752.99 292.82 L 753.27 303.34 L 753.56 318.87 L 753.85 313.50 L 754.14 298.62 L 754.43 292.73 L 754.72 291.92 L 755.00 292.13 L 755.29 291.21 L 755.58 291.54 L 755.87 294.01 L 756.16 292.98 L 756.45 290.81 L 756.74 290.78 L 757.61 294.50 L 757.90 294.36 L 758.18 293.55 L 758.76 290.81 L 759.05 290.57 L 759.63 292.59 L 759.92 291.85 L 760.21 289.70 L 760.50 291.72 L 760.79 292.29 L 761.08 291.88 L 761.37 295.03 L 761.66 296.97 L 762.24 291.50 L 762.53 290.52 L 762.83 291.02 L 763.41 297.69 L 763.70 295.54 L 763.99 295.39 L 764.28 296.13 L 764.57 295.51 L 764.86 296.07 L 765.15 296.23 L 765.44 295.89 L 765.73 294.71 L 766.03 294.20 L 766.32 295.04 L 766.61 295.15 L 766.90 296.15 L 767.19 297.85 L 767.77 293.18 L 768.07 293.67 L 768.36 293.50 L 768.65 294.49 L 768.94 296.73 L 769.23 296.91 L 769.53 295.96 L 769.82 294.26 L 770.11 294.33 L 770.40 296.37 L 770.99 294.62 L 771.28 294.45 L 771.57 295.17 L 771.86 295.22 L 772.45 295.60 L 772.74 296.84 L 773.04 297.09 L 773.33 295.85 L 773.62 297.13 L 773.91 297.31 L 774.50 295.17 L 774.79 294.82 L 775.09 294.92 L 775.38 297.91 L 775.67 297.44 L 775.97 293.71 L 776.56 296.22 L 776.85 296.31 L 777.14 296.13 L 777.44 296.13 L 778.02 300.11 L 778.32 298.31 L 778.61 295.66 L 778.91 294.71 L 779.20 295.53 L 779.50 295.99 L 780.08 299.36 L 780.38 297.90 L 780.67 295.73 L 780.97 295.33 L 781.26 296.49 L 781.56 296.59 L 781.85 297.46 L 782.44 297.30 L 782.74 298.80 L 783.03 298.26 L 783.33 299.00 L 783.62 299.42 L 783.92 297.59 L 784.21 297.07 L 784.51 298.07 L 784.81 298.62 L 785.10 299.52 L 785.40 299.67 L 785.69 298.90 L 785.99 299.15 L 786.28 298.94 L 786.88 296.51 L 787.17 297.19 L 787.47 298.53 L 787.77 298.23 L 788.06 297.12 L 788.36 297.20 L 788.65 299.45 L 788.95 299.97 L 789.25 299.60 L 789.54 299.01 L 789.84 297.95 L 790.14 295.97 L 790.43 296.70 L 790.73 298.92 L 791.03 298.46 L 791.33 299.23 L 791.62 301.04 L 791.92 301.36 L 792.22 301.19 L 792.51 300.30 L 792.81 298.87 L 793.11 298.35 L 793.41 297.33 L 793.71 298.36 L 794.00 300.25 L 794.30 300.13 L 794.60 298.16 L 795.19 300.14 L 795.49 300.48 L 795.79 300.25 L 796.09 302.65 L 796.39 303.17 L 796.69 301.49 L 796.98 301.32 L 797.58 298.36 L 798.18 300.94 L 798.48 301.17 L 798.78 298.01 L 799.07 298.61 L 799.67 300.12 L 799.97 300.23 L 800.27 299.60 L 800.87 302.35 L 801.17 301.92 L 801.77 300.71 L 802.07 300.95 L 802.37 302.18 L 802.67 301.61 L 802.97 299.27 L 803.27 299.53 L 803.57 299.49 L 803.87 300.48 L 804.17 301.04 L 804.77 303.66 L 805.07 302.97 L 805.37 301.64 L 805.67 299.62 L 805.97 299.85 L 806.27 301.95 L 806.57 302.74 L 806.87 306.02 L 807.17 313.64 L 807.47 311.70 L 807.77 304.67 L 808.07 304.28 L 808.67 300.76 L 808.98 300.74 L 809.58 302.20 L 810.18 304.27 L 810.48 304.73 L 810.78 302.55 L 811.09 301.65 L 811.39 301.54 L 811.69 299.70 L 811.99 298.86 L 812.29 299.33 L 812.59 301.30 L 812.90 302.01 L 813.20 301.65 L 813.50 300.63 L 813.80 300.40 L 814.11 302.39 L 814.71 304.70 L 815.01 303.58 L 815.32 301.17 L 815.62 300.08 L 815.92 302.03 L 816.22 305.63 L 816.53 307.33 L 816.83 305.81 L 817.13 302.96 L 817.44 302.90 L 817.74 307.02 L 818.04 305.93 L 818.35 303.90 L 818.65 302.96 L 818.95 303.99 L 819.26 306.16 L 819.86 302.78 L 820.17 301.54 L 820.47 301.45 L 821.08 307.64 L 821.38 306.67 L 821.99 302.93 L 822.29 302.22 L 822.60 302.55 L 822.90 303.50 L 823.21 305.17 L 823.82 303.42 L 824.12 304.70 L 824.43 304.18 L 824.73 303.21 L 825.04 303.07 L 825.34 304.87 L 825.65 305.95 L 826.26 303.41 L 826.56 303.22 L 826.87 303.54 L 827.17 303.68 L 827.48 304.01 L 827.78 303.09 L 828.09 302.71 L 828.39 306.29 L 828.70 306.17 L 829.00 304.56 L 829.31 304.22 L 829.62 305.01 L 829.92 304.56 L 830.23 304.34 L 830.53 302.56 L 830.84 302.15 L 831.15 305.34 L 831.45 306.79 L 831.76 303.39 L 832.07 301.46 L 832.07 301.46 " clip-path="url(#pba4cbe3485)" style="fill: none; stroke: #2e86ab; stroke-opacity: 0.9; stroke-width: 0.7; stroke-linecap: square"/>
</g>
<g id="line2d_32">
<path d="M 69.60 324.91 L 69.60 22.08 " clip-path="url(#pba4cbe3485)" style="fill: none; stroke: #e67e22; stroke-opacity: 0.5; stroke-linecap: square"/>
</g>
<g id="line2d_33">
<path d="M 74.88 324.91 L 74.88 22.08 " clip-path="url(#pba4cbe3485)" style="fill: none; stroke: #e67e22; stroke-opacity: 0.5; stroke-linecap: square"/>
</g>
<g id="line2d_34">
<path d="M 94.08 324.91 L 94.08 22.08 " clip-path="url(#pba4cbe3485)" style="fill: none; stroke: #2e86ab; stroke-opacity: 0.5; stroke-linecap: square"/>
</g>
<g id="line2d_35">
<path d="M 128.64 324.91 L 128.64 22.08 " clip-path="url(#pba4cbe3485)" style="fill: none; stroke: #2e86ab; stroke-opacity: 0.5; stroke-linecap: square"/>
</g>
<g id="line2d_36">
<path d="M 204.00 324.91 L 204.00 22.08 " clip-path="url(#pba4cbe3485)" style="fill: none; stroke: #2e86ab; stroke-opacity: 0.5; stroke-linecap: square"/>
</g>
<g id="line2d_37">
<path d="M 249.12 324.91 L 249.12 22.08 " clip-path="url(#pba4cbe3485)" style="fill: none; stroke: #696969; stroke-opacity: 0.5; stroke-linecap: square"/>
</g>
<g id="line2d_38">
<path d="M 352.80 324.91 L 352.80 22.08 " clip-path="url(#pba4cbe3485)" style="fill: none; stroke: #696969; stroke-opacity: 0.5; stroke-linecap: square"/>
</g>
<g id="line2d_39">
<path d="M 449.76 324.91 L 449.76 22.08 " clip-path="url(#pba4cbe3485)" style="fill: none; stroke: #2e86ab; stroke-opacity: 0.5; stroke-linecap: square"/>
</g>
<g id="patch_3">
<path d="M 50.88 324.91 L 50.88 22.08 " style="fill: none; stroke: #000000; stroke-width: 0.8; stroke-linejoin: miter; stroke-linecap: square"/>
</g>
<g id="patch_4">
<path d="M 831.79 324.91 L 831.79 22.08 " style="fill: none; stroke: #000000; stroke-width: 0.8; stroke-linejoin: miter; stroke-linecap: square"/>
</g>
<g id="patch_5">
<path d="M 50.88 324.91 L 831.79 324.91 " style="fill: none; stroke: #000000; stroke-width: 0.8; stroke-linejoin: miter; stroke-linecap: square"/>
</g>
<g id="patch_6">
<path d="M 50.88 22.08 L 831.79 22.08 " style="fill: none; stroke: #000000; stroke-width: 0.8; stroke-linejoin: miter; stroke-linecap: square"/>
</g>
<g id="lbl_CaIIK" transform="translate(-0.38 0.81)">
<text style="font-size: 11px; font-family: 'DejaVu Sans', 'Liberation Sans', sans-serif; fill: #e67e22" transform="translate(72.76 46.30) rotate(-90)">Ca II K</text>
</g>
<g id="lbl_CaIIH" transform="translate(-0.38 0.81)">
<text style="font-size: 11px; font-family: 'DejaVu Sans', 'Liberation Sans', sans-serif; fill: #e67e22" transform="translate(77.79 70.53) rotate(-90)">Ca II H</text>
</g>
<g id="lbl_Hdelta" transform="translate(0.33 0.48)">
<g style="fill: #2e86ab" transform="translate(97.06 46.30) rotate(-90)">
<text>
<tspan x="0" y="-0.82" style="font-size: 11px; font-family: 'DejaVu Sans', 'Liberation Sans', sans-serif; fill: #2e86ab">H</tspan>
<tspan x="8.27" y="-0.82" style="font-style: oblique; font-size: 11px; font-family: 'DejaVu Sans', 'Liberation Sans', sans-serif; fill: #2e86ab">δ</tspan>
</text>
</g>
</g>
<g id="lbl_Hgamma" transform="translate(0.38 0.48)">
<g style="fill: #2e86ab" transform="translate(131.56 46.30) rotate(-90)">
<text>
<tspan x="0" y="-0.98" style="font-size: 11px; font-family: 'DejaVu Sans', 'Liberation Sans', sans-serif; fill: #2e86ab">H</tspan>
<tspan x="8.27" y="-0.98" style="font-style: oblique; font-size: 11px; font-family: 'DejaVu Sans', 'Liberation Sans', sans-serif; fill: #2e86ab">γ</tspan>
</text>
</g>
</g>
<g id="lbl_Hbeta" transform="translate(0.00 0.48)">
<g style="fill: #2e86ab" transform="translate(206.93 46.30) rotate(-90)">
<text>
<tspan x="0" y="-0.57" style="font-size: 11px; font-family: 'DejaVu Sans', 'Liberation Sans', sans-serif; fill: #2e86ab">H</tspan>
<tspan x="8.27" y="-0.57" style="font-style: oblique; font-size: 11px; font-family: 'DejaVu Sans', 'Liberation Sans', sans-serif; fill: #2e86ab">β</tspan>
</text>
</g>
</g>
<g id="lbl_MgIb" transform="translate(-0.38 0.81)">
<text style="font-size: 11px; font-family: 'DejaVu Sans', 'Liberation Sans', sans-serif; fill: #696969" transform="translate(252.24 46.30) rotate(-90)">Mg I b</text>
</g>
<g id="lbl_NaD" transform="translate(-0.38 0.81)">
<text style="font-size: 11px; font-family: 'DejaVu Sans', 'Liberation Sans', sans-serif; fill: #696969" transform="translate(356.05 46.30) rotate(-90)">Na D</text>
</g>
<g id="lbl_Halpha" transform="translate(0.96 0.48)">
<g style="fill: #2e86ab" transform="translate(452.89 46.30) rotate(-90)">
<text>
<tspan x="0" y="-0.98" style="font-size: 11px; font-family: 'DejaVu Sans', 'Liberation Sans', sans-serif; fill: #2e86ab">H</tspan>
<tspan x="8.27" y="-0.98" style="font-style: oblique; font-size: 11px; font-family: 'DejaVu Sans', 'Liberation Sans', sans-serif; fill: #2e86ab">α</tspan>
</text>
</g>
</g>
<g id="text_11">
<text style="font-size: 12px; font-family: 'DejaVu Sans', 'Liberation Sans', sans-serif; text-anchor: middle" x="441.33" y="16.08" transform="rotate(-0 441.33 16.08)">SDSS spec-2054-53431-0513</text>
</g>
</g>
<g id="axes_2">
<g id="patch_7">
<path d="M 50.88 409.92 L 831.79 409.92 L 831.79 334.22 L 50.88 334.22 z
" style="fill: #fafafa"/>
</g>
<g id="matplotlib.axis_3">
<g id="xtick_7">
<g id="line2d_40">
<path d="M 79.44 409.92 L 79.44 334.22 " clip-path="url(#p3f2d684a46)" style="fill: none; stroke: #b0b0b0; stroke-opacity: 0.35; stroke-width: 0.5; stroke-linecap: square"/>
</g>
<g id="line2d_41">
<g>
<use href="#m1504cfccaf" x="79.20" y="409.92" style="stroke: #000000; stroke-width: 0.8"/>
</g>
</g>
<g id="text_12" transform="translate(0.24 0.96)">
<text style="font-size: 10px; font-family: 'DejaVu Sans', 'Liberation Sans', sans-serif; text-anchor: middle" x="79.32" y="424.51" transform="rotate(-0 79.32 424.51)">4000</text>
</g>
</g>
<g id="xtick_8">
<g id="line2d_42">
<path d="M 223.92 409.92 L 223.92 334.22 " clip-path="url(#p3f2d684a46)" style="fill: none; stroke: #b0b0b0; stroke-opacity: 0.35; stroke-width: 0.5; stroke-linecap: square"/>
</g>
<g id="line2d_43">
<g>
<use href="#m1504cfccaf" x="223.68" y="409.92" style="stroke: #000000; stroke-width: 0.8"/>
</g>
</g>
<g id="text_13" transform="translate(0.24 0.96)">
<text style="font-size: 10px; font-family: 'DejaVu Sans', 'Liberation Sans', sans-serif; text-anchor: middle" x="223.90" y="424.51" transform="rotate(-0 223.90 424.51)">5000</text>
</g>
</g>
<g id="xtick_9">
<g id="line2d_44">
<path d="M 368.88 409.92 L 368.88 334.22 " clip-path="url(#p3f2d684a46)" style="fill: none; stroke: #b0b0b0; stroke-opacity: 0.35; stroke-width: 0.5; stroke-linecap: square"/>
</g>
<g id="line2d_45">
<g>
<use href="#m1504cfccaf" x="368.64" y="409.92" style="stroke: #000000; stroke-width: 0.8"/>
</g>
</g>
<g id="text_14" transform="translate(0.24 0.96)">
<text style="font-size: 10px; font-family: 'DejaVu Sans', 'Liberation Sans', sans-serif; text-anchor: middle" x="368.49" y="424.51" transform="rotate(-0 368.49 424.51)">6000</text>
</g>
</g>
<g id="xtick_10">
<g id="line2d_46">
<path d="M 513.36 409.92 L 513.36 334.22 " clip-path="url(#p3f2d684a46)" style="fill: none; stroke: #b0b0b0; stroke-opacity: 0.35; stroke-width: 0.5; stroke-linecap: square"/>
</g>
<g id="line2d_47">
<g>
<use href="#m1504cfccaf" x="513.12" y="409.92" style="stroke: #000000; stroke-width: 0.8"/>
</g>
</g>
<g id="text_15" transform="translate(0.24 0.96)">
<text style="font-size: 10px; font-family: 'DejaVu Sans', 'Liberation Sans', sans-serif; text-anchor: middle" x="513.07" y="424.51" transform="rotate(-0 513.07 424.51)">7000</text>
</g>
</g>
<g id="xtick_11">
<g id="line2d_48">
<path d="M 657.84 409.92 L 657.84 334.22 " clip-path="url(#p3f2d684a46)" style="fill: none; stroke: #b0b0b0; stroke-opacity: 0.35; stroke-width: 0.5; stroke-linecap: square"/>
</g>
<g id="line2d_49">
<g>
<use href="#m1504cfccaf" x="657.60" y="409.92" style="stroke: #000000; stroke-width: 0.8"/>
</g>
</g>
<g id="text_16" transform="translate(0.24 0.96)">
<text style="font-size: 10px; font-family: 'DejaVu Sans', 'Liberation Sans', sans-serif; text-anchor: middle" x="657.66" y="424.51" transform="rotate(-0 657.66 424.51)">8000</text>
</g>
</g>
<g id="xtick_12">
<g id="line2d_50">
<path d="M 802.32 409.92 L 802.32 334.22 " clip-path="url(#p3f2d684a46)" style="fill: none; stroke: #b0b0b0; stroke-opacity: 0.35; stroke-width: 0.5; stroke-linecap: square"/>
</g>
<g id="line2d_51">
<g>
<use href="#m1504cfccaf" x="802.08" y="409.92" style="stroke: #000000; stroke-width: 0.8"/>
</g>
</g>
<g id="text_17" transform="translate(0.24 0.96)">
<text style="font-size: 10px; font-family: 'DejaVu Sans', 'Liberation Sans', sans-serif; text-anchor: middle" x="802.24" y="424.51" transform="rotate(-0 802.24 424.51)">9000</text>
</g>
</g>
<g id="text_18" transform="translate(0.00 0.48)">
<text style="font-size: 12px; font-family: 'DejaVu Sans', 'Liberation Sans', sans-serif; text-anchor: middle" x="441.33" y="441.73" transform="rotate(-0 441.33 441.73)">Wavelength (Å)</text>
</g>
</g>
<g id="matplotlib.axis_4">
<g id="ytick_10">
<g id="line2d_52">
<path d="M 50.88 410.16 L 831.79 410.16 " clip-path="url(#p3f2d684a46)" style="fill: none; stroke: #b0b0b0; stroke-opacity: 0.35; stroke-width: 0.5; stroke-linecap: square"/>
</g>
<g id="line2d_53">
<g>
<use href="#m5d545ce8f8" x="50.88" y="409.92" style="stroke: #000000; stroke-width: 0.8"/>
</g>
</g>
<g id="text_19" transform="translate(0.00 0.48)">
<text style="font-size: 10px; font-family: 'DejaVu Sans', 'Liberation Sans', sans-serif; text-anchor: end" x="43.88" y="413.71" transform="rotate(-0 43.88 413.71)">0</text>
</g>
</g>
<g id="ytick_11">
<g id="line2d_54">
<path d="M 50.88 372.24 L 831.79 372.24 " clip-path="url(#p3f2d684a46)" style="fill: none; stroke: #b0b0b0; stroke-opacity: 0.35; stroke-width: 0.5; stroke-linecap: square"/>
</g>
<g id="line2d_55">
<g>
<use href="#m5d545ce8f8" x="50.88" y="372.00" style="stroke: #000000; stroke-width: 0.8"/>
</g>
</g>
<g id="text_20" transform="translate(0.00 0.48)">
<text style="font-size: 10px; font-family: 'DejaVu Sans', 'Liberation Sans', sans-serif; text-anchor: end" x="43.88" y="375.87" transform="rotate(-0 43.88 375.87)">5</text>
</g>
</g>
<g id="ytick_12">
<g id="line2d_56">
<path d="M 50.88 334.32 L 831.79 334.32 " clip-path="url(#p3f2d684a46)" style="fill: none; stroke: #b0b0b0; stroke-opacity: 0.35; stroke-width: 0.5; stroke-linecap: square"/>
</g>
<g id="line2d_57">
<g>
<use href="#m5d545ce8f8" x="50.88" y="334.08" style="stroke: #000000; stroke-width: 0.8"/>
</g>
</g>
<g id="text_21" transform="translate(0.00 0.48)">
<text style="font-size: 10px; font-family: 'DejaVu Sans', 'Liberation Sans', sans-serif; text-anchor: end" x="43.88" y="338.02" transform="rotate(-0 43.88 338.02)">10</text>
</g>
</g>
<g id="text_22" transform="translate(-0.52 0.86)">
<text style="font-size: 10px; font-family: 'DejaVu Sans', 'Liberation Sans', sans-serif; text-anchor: middle" x="25.07" y="372.07" transform="rotate(-90 25.07 372.07)">σ (noise)</text>
</g>
</g>
<g id="line2d_58">
<path d="M 50.78 340.17 L 51.03 345.38 L 51.16 347.66 L 51.28 338.94 L 51.41 341.27 L 51.54 326.79 L 51.79 340.48 L 51.92 340.46 L 52.17 344.46 L 52.30 344.08 L 52.43 344.51 L 52.55 347.51 L 52.68 340.83 L 52.81 342.30 L 52.93 340.22 L 53.06 334.74 L 53.44 344.16 L 53.70 338.88 L 53.82 348.95 L 54.08 337.74 L 54.21 344.40 L 54.33 343.89 L 54.59 341.22 L 54.72 341.60 L 54.84 340.46 L 54.97 352.99 L 55.10 345.33 L 55.35 364.46 L 55.61 361.73 L 55.86 356.53 L 56.25 336.39 L 56.50 339.25 L 56.63 335.83 L 56.89 344.12 L 57.14 339.62 L 57.40 341.57 L 57.53 337.83 L 57.66 347.07 L 57.78 337.31 L 57.91 338.18 L 58.04 345.42 L 58.17 340.44 L 58.30 343.29 L 58.43 338.02 L 58.55 348.29 L 58.81 341.68 L 58.94 342.73 L 59.07 350.09 L 59.33 340.47 L 59.45 344.15 L 59.58 339.06 L 59.71 350.39 L 59.97 349.19 L 60.10 339.54 L 60.35 345.73 L 60.48 349.86 L 60.61 339.45 L 61.00 346.03 L 61.13 345.15 L 61.39 347.21 L 61.52 347.51 L 61.64 342.56 L 61.77 351.37 L 62.03 348.18 L 62.29 344.82 L 62.42 351.33 L 62.55 351.98 L 62.68 347.50 L 62.81 348.15 L 63.20 369.39 L 63.33 369.53 L 63.45 365.16 L 63.71 354.83 L 63.97 347.83 L 64.10 344.68 L 64.23 346.36 L 64.36 342.39 L 64.49 342.99 L 64.62 342.13 L 64.75 352.66 L 64.88 347.72 L 65.01 348.92 L 65.14 344.68 L 65.27 351.19 L 65.40 342.83 L 65.66 350.25 L 66.05 344.57 L 66.31 340.56 L 66.44 348.60 L 66.57 344.73 L 66.70 344.76 L 66.83 340.36 L 67.22 355.09 L 67.35 348.64 L 67.48 347.97 L 67.61 341.63 L 67.88 346.52 L 68.01 346.94 L 68.14 346.31 L 68.40 353.82 L 68.53 350.38 L 68.66 342.32 L 68.92 351.84 L 69.05 351.39 L 69.18 351.37 L 69.31 349.05 L 69.44 352.04 L 70.10 389.82 L 70.23 385.76 L 70.89 351.55 L 71.02 346.25 L 71.41 353.82 L 71.67 345.40 L 71.81 355.61 L 71.94 347.01 L 72.07 349.13 L 72.46 345.23 L 72.59 346.20 L 72.73 349.77 L 72.86 345.35 L 73.12 350.49 L 73.25 351.79 L 73.38 351.42 L 73.52 343.50 L 73.65 348.31 L 73.78 345.88 L 74.04 350.21 L 74.31 352.64 L 74.97 387.70 L 75.23 378.42 L 75.76 348.36 L 75.89 344.22 L 76.03 345.78 L 76.29 345.31 L 76.42 351.39 L 76.69 347.68 L 76.82 349.99 L 76.95 343.92 L 77.09 349.29 L 77.22 343.52 L 77.35 345.71 L 77.48 343.43 L 77.75 346.36 L 77.88 343.72 L 78.02 346.81 L 78.15 346.35 L 78.28 345.15 L 78.55 346.23 L 78.68 346.99 L 78.81 345.72 L 78.95 350.08 L 79.08 346.26 L 79.21 349.08 L 79.35 342.20 L 79.48 341.74 L 79.61 350.15 L 79.75 344.45 L 79.88 345.59 L 80.01 349.71 L 80.15 348.19 L 80.28 353.19 L 80.41 350.57 L 80.55 344.08 L 80.81 343.46 L 80.95 346.04 L 81.08 341.48 L 81.21 341.35 L 81.35 346.39 L 81.48 346.13 L 81.61 343.76 L 81.75 344.10 L 81.88 338.78 L 82.15 346.12 L 82.28 346.25 L 82.42 345.09 L 82.55 340.83 L 82.69 347.75 L 82.95 342.28 L 83.09 343.65 L 83.22 338.90 L 83.36 345.74 L 83.49 342.47 L 83.89 347.57 L 84.03 340.05 L 84.29 347.33 L 84.43 348.79 L 84.56 348.97 L 84.97 342.96 L 85.10 341.58 L 85.37 344.31 L 85.51 342.51 L 85.77 344.84 L 86.04 341.46 L 86.45 346.92 L 86.58 342.74 L 86.72 345.33 L 86.85 344.93 L 86.99 345.41 L 87.12 342.40 L 87.26 348.64 L 87.53 342.99 L 87.66 348.10 L 87.80 343.01 L 88.07 347.07 L 88.20 345.36 L 88.34 348.93 L 88.47 346.91 L 88.61 341.66 L 88.74 347.26 L 88.88 341.60 L 89.01 346.31 L 89.15 345.13 L 89.29 346.35 L 89.42 350.47 L 89.69 346.22 L 89.96 349.13 L 90.10 346.05 L 90.37 350.46 L 90.51 349.60 L 90.64 345.64 L 90.78 347.87 L 91.05 343.60 L 91.46 352.29 L 91.73 345.25 L 91.87 346.68 L 92.00 346.52 L 92.14 348.66 L 92.27 348.17 L 92.41 350.70 L 92.55 349.42 L 92.82 350.63 L 92.95 348.70 L 93.09 350.44 L 93.23 350.69 L 93.36 347.93 L 93.50 349.79 L 93.64 348.50 L 94.05 371.46 L 94.18 372.64 L 94.32 369.97 L 94.59 356.97 L 94.73 358.97 L 94.87 349.85 L 95.00 350.65 L 95.14 346.05 L 95.28 349.69 L 95.41 350.29 L 95.55 344.82 L 95.69 350.09 L 95.96 346.72 L 96.10 347.96 L 96.37 347.51 L 96.51 346.19 L 96.65 349.56 L 96.78 346.58 L 96.92 347.12 L 97.06 344.71 L 97.20 348.69 L 97.33 349.28 L 97.47 346.66 L 97.61 349.12 L 97.74 347.40 L 97.88 347.17 L 98.02 345.12 L 98.16 348.78 L 98.29 348.19 L 98.43 353.38 L 98.57 351.53 L 98.71 345.82 L 98.85 349.07 L 98.98 349.44 L 99.12 350.28 L 99.26 346.67 L 99.40 347.12 L 99.53 349.62 L 99.67 346.02 L 99.81 347.05 L 99.95 346.90 L 100.09 349.33 L 100.22 344.33 L 100.50 347.88 L 100.64 348.59 L 100.78 348.48 L 100.91 346.37 L 101.05 348.06 L 101.19 345.76 L 101.33 346.76 L 101.47 345.48 L 101.60 346.08 L 101.74 348.32 L 101.88 354.37 L 102.16 348.93 L 102.44 346.96 L 102.57 348.41 L 102.71 348.11 L 102.85 349.33 L 102.99 344.73 L 103.41 349.82 L 103.68 344.92 L 103.96 349.42 L 104.10 345.18 L 104.24 345.04 L 104.66 347.41 L 104.79 350.16 L 104.93 348.26 L 105.07 349.64 L 105.21 345.60 L 105.35 347.70 L 105.49 344.82 L 105.63 352.67 L 105.91 347.32 L 106.05 349.10 L 106.33 347.61 L 106.46 347.89 L 106.60 350.06 L 106.74 349.59 L 107.02 346.97 L 107.16 348.87 L 107.44 349.29 L 107.58 348.37 L 107.72 351.23 L 107.86 351.41 L 108.00 349.21 L 108.14 351.54 L 108.28 351.09 L 108.42 349.80 L 108.56 349.75 L 108.70 353.48 L 108.84 349.27 L 108.98 352.81 L 109.12 349.28 L 109.26 352.92 L 109.40 352.51 L 109.54 348.98 L 109.82 351.04 L 110.10 350.43 L 110.24 352.93 L 110.52 350.70 L 110.66 353.97 L 111.08 347.69 L 111.22 347.97 L 111.36 347.53 L 111.65 350.64 L 111.79 351.74 L 112.07 361.37 L 112.35 356.62 L 112.63 350.57 L 112.91 345.86 L 113.05 350.04 L 113.19 350.11 L 113.34 354.00 L 113.48 349.94 L 113.62 350.04 L 113.76 351.73 L 113.90 349.05 L 114.04 352.77 L 114.32 349.80 L 114.46 351.92 L 114.75 345.52 L 114.89 344.81 L 115.03 341.02 L 115.17 340.42 L 115.45 351.84 L 115.60 351.07 L 115.74 351.30 L 115.88 351.04 L 116.02 349.19 L 116.16 349.76 L 116.30 347.74 L 116.45 348.73 L 116.73 351.78 L 116.87 350.25 L 117.01 351.30 L 117.15 355.52 L 117.30 351.24 L 117.44 351.46 L 117.58 348.65 L 117.72 350.70 L 117.86 350.23 L 118.01 350.74 L 118.15 349.20 L 118.43 351.74 L 118.57 352.48 L 118.72 354.75 L 119.00 352.85 L 119.14 352.13 L 119.29 350.06 L 119.43 352.64 L 119.57 351.50 L 119.71 352.16 L 119.86 351.52 L 120.00 353.83 L 120.28 352.85 L 120.43 351.76 L 120.71 354.65 L 120.85 353.89 L 121.14 350.16 L 121.28 352.13 L 121.43 352.50 L 121.57 352.19 L 121.71 354.08 L 121.85 353.67 L 122.00 354.26 L 122.14 353.59 L 122.28 353.95 L 122.43 355.42 L 122.57 352.43 L 122.71 351.88 L 122.86 354.73 L 123.00 354.23 L 123.14 354.27 L 123.29 353.42 L 123.43 356.65 L 123.57 352.88 L 123.72 355.08 L 123.86 352.58 L 124.15 355.07 L 124.29 354.49 L 124.43 352.77 L 124.58 355.16 L 124.72 354.77 L 124.86 355.02 L 125.01 357.65 L 125.15 354.30 L 125.44 353.69 L 125.58 352.27 L 125.73 355.37 L 125.87 354.05 L 126.01 351.37 L 126.16 352.19 L 126.45 357.66 L 126.73 352.29 L 126.88 354.53 L 127.02 354.89 L 127.17 354.48 L 127.31 356.26 L 127.45 354.73 L 127.89 354.34 L 128.18 359.64 L 128.47 372.35 L 128.61 374.13 L 128.75 374.16 L 128.90 369.65 L 129.19 355.70 L 129.33 353.46 L 129.48 353.16 L 129.62 355.39 L 129.77 354.89 L 129.91 352.00 L 130.06 354.74 L 130.20 351.88 L 130.35 353.33 L 130.49 352.05 L 130.78 352.29 L 130.93 351.96 L 131.07 353.96 L 131.22 352.40 L 131.36 352.93 L 131.51 352.71 L 131.65 351.40 L 131.94 353.56 L 132.09 353.50 L 132.23 353.04 L 132.38 351.77 L 132.52 353.59 L 132.67 351.44 L 132.81 352.80 L 132.96 353.06 L 133.11 354.13 L 133.25 352.23 L 133.40 351.81 L 133.54 355.50 L 133.83 351.50 L 133.98 352.34 L 134.13 352.28 L 134.27 350.05 L 134.42 351.34 L 134.56 353.76 L 134.71 352.73 L 135.00 353.12 L 135.15 355.95 L 135.29 352.20 L 135.44 353.57 L 135.59 352.68 L 135.73 353.23 L 135.88 352.13 L 136.17 353.47 L 136.46 351.09 L 136.61 353.45 L 136.76 351.46 L 137.05 353.48 L 137.19 351.16 L 137.34 354.04 L 137.49 353.74 L 137.63 355.36 L 137.78 354.32 L 137.93 354.76 L 138.07 354.02 L 138.22 352.30 L 138.37 352.62 L 138.51 352.37 L 138.66 352.95 L 138.81 352.16 L 138.95 354.08 L 139.10 353.68 L 139.25 352.86 L 139.40 353.93 L 139.54 353.47 L 139.69 352.48 L 139.84 352.52 L 139.98 352.82 L 140.13 351.17 L 140.28 351.93 L 140.43 351.67 L 140.72 355.26 L 140.87 355.35 L 141.01 352.93 L 141.16 354.95 L 141.31 354.94 L 141.75 351.76 L 141.90 353.59 L 142.05 351.98 L 142.19 353.26 L 142.34 351.56 L 142.49 352.52 L 142.79 350.39 L 142.93 352.53 L 143.08 351.02 L 143.23 352.82 L 143.38 353.08 L 143.67 350.90 L 143.82 353.24 L 143.97 352.54 L 144.12 354.07 L 144.41 351.73 L 144.86 354.67 L 145.15 351.83 L 145.30 351.99 L 145.45 352.65 L 145.60 354.81 L 145.75 351.70 L 146.05 353.34 L 146.19 353.05 L 146.34 355.66 L 146.49 353.25 L 146.94 352.35 L 147.09 352.62 L 147.23 354.57 L 147.53 352.51 L 147.68 352.53 L 147.98 355.20 L 148.28 352.87 L 148.43 352.82 L 148.58 354.59 L 148.72 351.23 L 148.87 356.09 L 149.17 351.27 L 149.32 353.35 L 149.47 353.35 L 149.62 355.36 L 149.77 352.62 L 149.92 354.54 L 150.07 352.82 L 150.22 352.81 L 150.37 353.94 L 150.52 352.09 L 150.67 354.28 L 150.97 353.07 L 151.12 353.88 L 151.26 353.06 L 151.41 353.23 L 151.56 355.25 L 151.86 353.55 L 152.01 353.45 L 152.16 352.48 L 152.31 353.26 L 152.46 352.50 L 152.76 354.02 L 152.91 352.26 L 153.06 354.25 L 153.21 353.40 L 153.36 351.75 L 153.51 354.25 L 153.67 353.09 L 153.82 354.56 L 153.97 353.54 L 154.12 354.49 L 154.27 353.38 L 154.57 354.63 L 154.72 352.42 L 154.87 353.02 L 155.02 352.98 L 155.17 354.36 L 155.32 353.90 L 155.47 354.10 L 155.62 355.37 L 155.92 352.54 L 156.23 354.51 L 156.38 352.15 L 156.53 353.91 L 156.68 354.14 L 156.83 354.74 L 157.13 353.49 L 157.28 351.43 L 157.43 353.96 L 157.58 354.58 L 157.89 353.70 L 158.04 355.45 L 158.34 352.50 L 158.49 352.86 L 158.64 352.61 L 158.95 355.07 L 159.55 343.62 L 160.16 353.81 L 160.31 353.14 L 160.46 353.24 L 160.62 353.48 L 160.92 356.59 L 161.07 354.35 L 161.22 354.95 L 161.37 353.07 L 161.53 352.69 L 161.83 354.85 L 162.14 352.34 L 162.29 354.07 L 162.44 352.48 L 162.59 352.96 L 162.74 354.03 L 162.90 352.96 L 163.05 354.44 L 163.20 352.54 L 163.35 354.35 L 163.51 354.30 L 163.66 354.68 L 163.81 353.54 L 163.97 355.01 L 164.12 354.15 L 164.27 355.05 L 164.58 351.71 L 164.73 353.40 L 164.88 352.40 L 165.03 353.70 L 165.19 352.75 L 165.49 356.64 L 165.65 353.28 L 165.95 354.53 L 166.11 354.29 L 166.26 355.53 L 166.41 354.39 L 166.57 354.85 L 166.72 352.40 L 166.87 353.52 L 167.03 355.47 L 167.18 355.19 L 167.33 354.42 L 167.49 355.54 L 167.64 353.73 L 167.79 353.77 L 167.95 354.65 L 168.10 354.55 L 168.56 352.75 L 168.71 353.91 L 168.87 353.38 L 169.02 355.07 L 169.18 353.72 L 169.33 355.29 L 169.48 354.65 L 169.64 356.29 L 170.10 353.46 L 170.25 355.83 L 170.41 355.85 L 170.72 354.33 L 170.87 355.70 L 171.02 354.50 L 171.18 355.24 L 171.49 354.36 L 171.80 356.03 L 171.95 354.52 L 172.11 354.41 L 172.26 354.98 L 172.41 354.00 L 172.72 356.31 L 172.88 353.93 L 173.03 354.30 L 173.19 353.59 L 173.34 355.44 L 173.50 353.94 L 173.65 354.84 L 173.81 353.83 L 173.96 355.03 L 174.12 355.16 L 174.27 355.05 L 174.43 353.29 L 174.74 354.90 L 174.89 355.28 L 175.05 356.23 L 175.20 355.05 L 175.36 357.39 L 175.82 353.30 L 175.98 354.54 L 176.14 353.94 L 176.29 354.08 L 176.45 353.70 L 176.60 354.49 L 176.76 352.94 L 176.91 354.21 L 177.07 353.07 L 177.22 355.85 L 177.38 354.50 L 177.54 356.08 L 177.69 355.87 L 177.85 354.09 L 178.00 355.66 L 178.16 354.71 L 178.32 355.68 L 178.47 353.06 L 178.78 355.87 L 179.10 353.90 L 179.25 355.49 L 179.56 353.75 L 180.03 355.31 L 180.19 354.25 L 180.50 357.38 L 180.66 355.42 L 180.82 355.93 L 180.97 353.31 L 181.29 355.80 L 181.44 356.01 L 181.60 354.61 L 181.76 355.93 L 181.91 356.01 L 182.23 355.10 L 182.54 355.41 L 182.70 354.27 L 182.85 354.86 L 183.01 358.31 L 183.17 354.47 L 183.32 355.28 L 183.48 354.03 L 183.64 355.82 L 183.80 354.99 L 183.95 355.02 L 184.11 355.25 L 184.27 354.81 L 184.43 354.98 L 184.58 356.43 L 184.74 356.41 L 184.90 356.22 L 185.06 355.85 L 185.21 357.37 L 185.37 357.34 L 185.53 356.98 L 185.69 356.23 L 185.84 356.33 L 186.00 353.99 L 186.16 355.67 L 186.32 355.33 L 186.47 356.18 L 186.63 354.68 L 186.79 354.34 L 186.95 356.00 L 187.11 355.02 L 187.26 356.00 L 187.42 354.31 L 187.74 357.08 L 187.90 355.07 L 188.05 355.38 L 188.21 355.26 L 188.37 355.78 L 188.53 357.94 L 188.69 357.84 L 188.85 356.09 L 189.00 355.68 L 189.16 356.63 L 189.32 354.34 L 189.64 357.22 L 189.80 358.08 L 190.11 354.85 L 190.27 355.60 L 190.43 355.14 L 190.59 357.17 L 190.75 356.32 L 190.91 356.45 L 191.07 356.16 L 191.23 355.53 L 191.39 357.51 L 191.54 353.23 L 191.70 356.63 L 192.02 355.13 L 192.18 355.19 L 192.34 356.08 L 192.50 359.11 L 192.82 355.48 L 193.14 358.05 L 193.30 358.59 L 193.45 355.35 L 193.61 355.76 L 193.77 356.76 L 193.93 356.19 L 194.09 356.35 L 194.25 357.14 L 194.57 355.94 L 194.73 355.81 L 194.89 355.26 L 195.05 356.37 L 195.21 356.69 L 195.37 356.01 L 195.69 359.22 L 195.85 356.54 L 196.01 356.89 L 196.33 356.50 L 196.49 357.79 L 196.65 356.38 L 196.81 356.38 L 196.97 356.75 L 197.13 356.43 L 197.45 358.45 L 197.61 356.92 L 197.77 357.46 L 197.93 356.11 L 198.25 357.50 L 198.42 357.46 L 198.58 356.84 L 198.74 356.79 L 198.90 357.27 L 199.06 357.22 L 199.38 358.64 L 199.54 357.75 L 199.70 357.79 L 199.86 357.38 L 200.18 359.57 L 200.35 359.90 L 200.67 357.70 L 200.83 358.07 L 201.15 360.10 L 201.31 358.57 L 201.47 359.19 L 201.63 360.91 L 201.80 359.43 L 201.96 360.40 L 202.12 360.13 L 202.28 361.57 L 202.44 361.48 L 202.60 362.30 L 202.76 363.82 L 202.93 364.03 L 203.09 365.10 L 203.25 364.84 L 203.57 370.01 L 203.90 379.00 L 204.06 377.65 L 204.38 367.62 L 204.87 364.51 L 205.03 365.28 L 205.36 362.39 L 205.52 362.88 L 205.84 361.10 L 206.00 361.18 L 206.17 359.74 L 206.33 359.37 L 206.49 359.44 L 206.65 359.20 L 206.82 359.60 L 206.98 358.43 L 207.14 359.77 L 207.30 359.50 L 207.47 358.18 L 207.63 359.22 L 207.79 358.52 L 207.96 358.40 L 208.12 358.78 L 208.28 358.55 L 208.44 357.78 L 208.61 358.18 L 208.77 360.20 L 208.93 359.45 L 209.10 357.08 L 209.26 357.79 L 209.42 359.64 L 209.75 358.46 L 209.91 359.14 L 210.07 357.68 L 210.40 357.92 L 210.56 359.92 L 210.89 356.77 L 211.05 358.62 L 211.22 357.20 L 211.71 358.28 L 211.87 359.05 L 212.04 358.74 L 212.20 357.35 L 212.53 357.02 L 212.86 357.67 L 213.18 359.27 L 213.51 358.13 L 213.68 358.13 L 213.84 359.70 L 214.00 360.14 L 214.17 360.91 L 214.33 359.48 L 214.50 359.77 L 214.83 358.49 L 214.99 358.96 L 215.15 357.89 L 215.48 360.22 L 215.81 352.89 L 215.98 346.87 L 216.14 346.00 L 216.64 359.49 L 216.97 359.15 L 217.13 359.68 L 217.30 358.30 L 217.46 361.30 L 217.63 360.54 L 217.79 358.81 L 218.29 359.82 L 218.45 359.16 L 218.62 357.47 L 218.78 358.41 L 218.95 358.48 L 219.11 359.30 L 219.28 358.54 L 219.44 358.97 L 219.61 359.72 L 219.94 358.76 L 220.10 358.03 L 220.27 359.02 L 220.44 359.20 L 220.60 359.15 L 220.77 360.92 L 220.93 360.30 L 221.10 358.28 L 221.43 359.13 L 221.60 359.01 L 221.76 359.34 L 221.93 358.72 L 222.09 359.32 L 222.26 358.56 L 222.43 360.03 L 222.59 359.88 L 222.76 359.35 L 222.93 359.96 L 223.09 358.89 L 223.42 359.63 L 223.59 359.30 L 223.92 362.11 L 224.42 360.12 L 224.59 359.99 L 224.76 359.30 L 224.92 359.30 L 225.09 358.33 L 225.26 358.73 L 225.42 359.89 L 225.59 358.55 L 225.76 358.80 L 225.92 359.99 L 226.26 359.31 L 226.42 359.93 L 226.59 359.17 L 226.76 359.56 L 226.93 359.36 L 227.09 360.30 L 227.26 360.08 L 227.43 360.84 L 227.59 360.18 L 227.76 361.71 L 228.10 359.35 L 228.43 360.20 L 228.60 360.10 L 228.77 360.89 L 228.93 360.71 L 229.44 359.60 L 229.61 361.01 L 229.77 359.58 L 229.94 361.16 L 230.28 361.03 L 230.44 359.64 L 230.78 361.37 L 230.95 359.69 L 231.12 360.10 L 231.45 361.36 L 231.62 361.74 L 231.96 360.40 L 232.13 361.62 L 232.29 358.72 L 232.46 360.24 L 232.63 360.66 L 232.80 359.85 L 232.97 360.09 L 233.14 358.62 L 233.64 361.29 L 233.98 361.13 L 234.15 360.12 L 234.32 360.87 L 234.49 359.69 L 234.66 361.25 L 234.82 361.13 L 234.99 360.56 L 235.16 362.05 L 235.50 360.56 L 235.67 360.67 L 235.84 360.58 L 236.01 360.34 L 236.18 361.02 L 236.35 360.86 L 236.69 361.67 L 236.86 359.66 L 237.02 361.17 L 237.19 361.24 L 237.36 360.18 L 237.53 360.17 L 237.70 360.96 L 237.87 360.96 L 238.04 360.81 L 238.21 361.66 L 238.38 360.79 L 238.72 361.28 L 238.89 361.26 L 239.06 360.76 L 239.23 359.69 L 239.40 359.86 L 239.57 361.92 L 239.74 360.48 L 239.91 361.89 L 240.08 361.90 L 240.25 360.53 L 240.42 361.61 L 240.59 361.64 L 240.76 360.40 L 240.93 361.27 L 241.10 361.43 L 241.27 360.76 L 241.44 360.74 L 241.79 362.44 L 241.96 361.38 L 242.13 361.36 L 242.30 360.52 L 242.47 361.10 L 242.64 361.25 L 242.81 360.56 L 242.98 361.21 L 243.15 360.68 L 243.32 360.74 L 243.49 362.10 L 243.66 362.08 L 243.84 361.14 L 244.01 361.78 L 244.18 360.62 L 244.52 360.45 L 244.69 361.94 L 244.86 361.77 L 245.03 360.71 L 245.21 361.02 L 245.38 361.96 L 245.72 360.64 L 245.89 361.65 L 246.06 361.13 L 246.23 359.66 L 246.41 361.45 L 246.58 361.61 L 246.75 362.18 L 246.92 362.16 L 247.09 360.87 L 247.26 361.84 L 247.44 362.15 L 247.61 361.96 L 247.78 362.34 L 248.12 366.87 L 248.30 363.98 L 248.47 363.24 L 248.64 363.73 L 248.81 367.86 L 248.98 368.84 L 249.33 362.25 L 249.50 361.55 L 249.67 362.74 L 249.85 361.67 L 250.02 361.40 L 250.19 362.15 L 250.54 367.82 L 250.88 362.70 L 251.05 361.72 L 251.23 361.41 L 251.40 361.60 L 251.57 362.51 L 251.75 362.16 L 251.92 362.99 L 252.09 361.29 L 252.26 362.35 L 252.44 361.67 L 252.61 362.34 L 252.78 361.73 L 253.13 361.65 L 253.30 362.99 L 253.48 361.88 L 253.82 362.15 L 254.00 361.41 L 254.17 361.96 L 254.34 361.98 L 254.52 362.17 L 254.69 361.68 L 255.21 362.73 L 255.73 361.14 L 255.91 361.84 L 256.08 361.04 L 256.43 362.55 L 256.60 361.52 L 256.78 362.49 L 256.95 361.79 L 257.12 361.59 L 257.30 362.41 L 257.47 362.27 L 257.65 360.59 L 257.82 361.84 L 257.99 361.89 L 258.17 361.57 L 258.52 363.05 L 258.69 362.27 L 258.87 363.66 L 259.04 361.86 L 259.22 363.34 L 259.39 363.34 L 259.57 362.10 L 259.74 362.15 L 259.91 362.91 L 260.09 362.19 L 260.26 363.19 L 260.44 362.71 L 260.61 362.97 L 260.96 361.92 L 261.14 362.26 L 261.31 362.34 L 261.49 362.10 L 261.66 362.83 L 261.84 363.00 L 262.01 362.70 L 262.19 361.72 L 262.37 362.62 L 262.54 362.47 L 262.72 362.76 L 262.89 362.81 L 263.07 362.97 L 263.42 362.97 L 263.59 363.50 L 263.77 363.30 L 263.94 362.39 L 264.30 362.20 L 264.65 363.25 L 264.82 362.37 L 265.00 362.21 L 265.18 363.79 L 265.53 362.76 L 265.70 361.64 L 265.88 363.08 L 266.06 363.18 L 266.23 362.09 L 266.41 363.50 L 266.58 362.98 L 266.76 363.28 L 266.94 363.31 L 267.11 363.83 L 267.47 362.24 L 267.64 362.77 L 267.82 362.84 L 268.00 363.11 L 268.17 362.12 L 268.35 362.50 L 268.53 362.34 L 268.70 364.12 L 268.88 363.06 L 269.06 363.73 L 269.23 362.70 L 269.41 362.80 L 269.59 363.75 L 269.94 362.73 L 270.12 362.98 L 270.30 362.90 L 270.47 363.62 L 270.65 363.61 L 270.83 364.02 L 271.18 362.87 L 271.71 364.19 L 271.89 363.23 L 272.07 363.69 L 272.25 364.81 L 272.42 364.43 L 272.60 363.48 L 272.78 363.85 L 272.96 362.82 L 273.13 363.70 L 273.31 363.92 L 273.49 363.62 L 273.67 362.77 L 273.85 363.87 L 274.02 362.75 L 274.20 362.91 L 274.38 362.46 L 274.74 363.54 L 274.91 362.96 L 275.09 363.19 L 275.27 362.80 L 275.45 363.35 L 275.63 362.24 L 275.81 363.37 L 275.98 363.27 L 276.16 363.75 L 276.34 363.25 L 276.52 363.33 L 277.06 364.36 L 277.24 364.39 L 277.41 363.03 L 277.77 363.88 L 277.95 363.24 L 278.13 363.48 L 278.31 364.98 L 278.67 363.22 L 278.85 363.40 L 279.02 364.02 L 279.20 363.01 L 279.38 364.05 L 279.56 363.86 L 279.92 363.95 L 280.28 363.24 L 280.46 363.71 L 280.64 363.06 L 280.82 364.08 L 281.00 363.78 L 281.18 362.86 L 281.36 363.80 L 281.54 363.59 L 281.72 364.81 L 282.08 363.94 L 282.26 363.84 L 282.44 364.06 L 282.62 363.96 L 282.98 363.30 L 283.16 364.05 L 283.34 364.14 L 283.52 363.94 L 283.70 364.84 L 283.88 364.80 L 284.06 363.16 L 284.24 363.49 L 284.42 364.21 L 284.60 364.12 L 284.78 364.94 L 284.96 365.20 L 285.14 364.52 L 285.32 365.10 L 285.50 363.64 L 285.68 364.41 L 285.86 364.02 L 286.04 363.16 L 286.22 363.16 L 286.40 364.38 L 286.59 363.89 L 286.77 364.72 L 287.13 363.96 L 287.31 363.45 L 287.49 364.40 L 287.67 364.05 L 288.03 365.41 L 288.40 363.50 L 288.58 364.39 L 288.76 364.38 L 288.94 364.06 L 289.12 364.67 L 289.30 363.71 L 289.49 363.80 L 289.67 364.26 L 289.85 364.38 L 290.03 364.93 L 290.21 364.86 L 290.39 365.24 L 290.58 365.24 L 290.76 364.81 L 290.94 363.82 L 291.12 363.56 L 291.30 364.56 L 291.48 363.92 L 291.67 364.87 L 291.85 364.47 L 292.21 365.27 L 292.40 364.74 L 292.58 365.04 L 292.94 364.75 L 293.12 365.06 L 293.31 364.59 L 293.67 364.84 L 293.85 366.24 L 294.22 364.31 L 294.40 363.87 L 294.59 363.92 L 294.95 364.95 L 295.13 365.73 L 295.32 365.15 L 295.50 364.13 L 295.68 363.78 L 295.87 365.70 L 296.05 364.91 L 296.23 364.64 L 296.41 365.01 L 296.60 364.74 L 296.96 364.94 L 297.15 364.68 L 297.33 365.33 L 297.51 364.97 L 297.70 364.92 L 297.88 364.12 L 298.06 365.24 L 298.25 364.72 L 298.43 364.54 L 298.62 364.82 L 298.80 364.24 L 298.98 364.94 L 299.35 364.34 L 299.53 363.69 L 299.72 364.66 L 299.90 364.53 L 300.09 364.89 L 300.27 364.73 L 300.45 364.07 L 300.64 364.57 L 300.82 364.29 L 301.01 364.54 L 301.19 363.97 L 301.38 364.18 L 301.56 366.24 L 301.74 365.08 L 302.11 364.40 L 302.30 364.64 L 302.48 364.32 L 302.67 365.36 L 302.85 365.45 L 303.04 365.17 L 303.41 364.23 L 303.59 364.31 L 303.77 364.57 L 304.14 365.62 L 304.33 364.63 L 304.70 364.78 L 304.88 364.65 L 305.07 365.03 L 305.26 364.91 L 305.44 365.95 L 305.63 364.61 L 306.00 365.11 L 306.18 364.69 L 306.37 365.36 L 306.55 365.05 L 306.74 363.88 L 306.92 364.38 L 307.11 363.91 L 307.48 357.85 L 307.67 359.21 L 308.04 364.76 L 308.22 364.73 L 308.41 365.10 L 308.60 365.13 L 308.78 365.96 L 308.97 365.70 L 309.15 364.37 L 309.34 364.64 L 309.53 365.28 L 309.90 364.87 L 310.08 365.38 L 310.27 364.16 L 310.46 365.33 L 310.64 365.33 L 310.83 366.47 L 311.02 364.67 L 311.20 365.08 L 311.39 364.46 L 311.58 365.45 L 311.76 364.85 L 311.95 365.11 L 312.14 365.11 L 312.32 364.36 L 312.51 364.18 L 312.70 364.44 L 312.88 365.37 L 313.07 365.14 L 313.26 364.67 L 313.82 364.90 L 314.01 365.62 L 314.19 365.38 L 314.38 364.56 L 314.57 365.43 L 314.94 364.90 L 315.13 366.29 L 315.51 366.55 L 315.69 365.74 L 315.88 365.88 L 316.26 365.31 L 316.63 365.57 L 316.82 366.24 L 317.01 364.58 L 317.38 366.21 L 317.76 365.33 L 317.95 365.73 L 318.14 365.40 L 318.32 365.55 L 318.51 365.42 L 318.70 365.81 L 318.89 365.27 L 319.08 365.20 L 319.27 365.32 L 319.45 364.84 L 319.83 365.91 L 320.02 365.28 L 320.40 365.97 L 320.59 365.64 L 320.77 364.92 L 320.96 366.10 L 321.34 365.66 L 321.53 364.97 L 321.91 366.38 L 322.10 366.37 L 322.47 365.49 L 322.66 366.41 L 322.85 366.31 L 323.23 365.10 L 323.42 366.02 L 323.61 365.71 L 323.80 365.16 L 324.18 365.99 L 324.56 366.30 L 324.75 365.76 L 324.94 365.59 L 325.13 366.08 L 325.32 365.54 L 325.51 365.38 L 325.70 365.91 L 325.89 365.54 L 326.08 366.09 L 326.27 365.25 L 326.46 365.91 L 326.65 364.81 L 326.84 365.68 L 327.22 365.93 L 327.41 365.90 L 327.98 366.77 L 328.36 365.29 L 328.55 365.72 L 328.74 365.25 L 328.93 366.21 L 329.31 366.09 L 329.50 365.40 L 329.69 366.20 L 329.89 366.16 L 330.08 365.18 L 330.27 365.07 L 330.46 365.35 L 330.65 366.61 L 331.03 365.72 L 331.22 365.99 L 331.41 366.81 L 331.60 366.62 L 331.80 366.80 L 331.99 366.58 L 332.18 365.31 L 332.37 365.77 L 332.56 366.67 L 332.75 366.51 L 332.94 365.69 L 333.14 366.09 L 333.33 365.81 L 333.52 366.29 L 333.90 365.85 L 334.29 366.96 L 334.48 366.95 L 335.05 365.93 L 335.25 366.00 L 335.44 365.94 L 335.63 366.62 L 335.82 365.60 L 336.02 365.24 L 336.21 365.78 L 336.40 365.87 L 336.59 365.49 L 336.98 366.03 L 337.17 366.06 L 337.55 366.35 L 337.75 365.60 L 337.94 365.44 L 338.13 366.30 L 338.33 365.84 L 338.52 365.68 L 338.90 366.09 L 339.10 366.08 L 339.29 366.59 L 339.48 365.84 L 339.68 365.91 L 339.87 365.25 L 340.26 366.68 L 340.45 366.52 L 340.64 365.91 L 340.84 366.07 L 341.03 366.75 L 341.22 366.96 L 341.42 367.53 L 341.61 367.35 L 341.80 367.58 L 342.00 368.12 L 342.19 367.53 L 342.38 368.79 L 342.58 368.31 L 342.97 368.56 L 343.16 368.15 L 343.35 369.22 L 343.74 369.07 L 344.13 369.51 L 344.32 369.77 L 344.52 369.37 L 344.71 370.22 L 344.91 370.37 L 345.10 370.09 L 345.30 370.12 L 345.49 370.57 L 345.68 371.47 L 345.88 371.40 L 346.07 371.45 L 346.27 371.65 L 346.46 371.62 L 346.66 371.35 L 347.44 372.67 L 347.63 372.32 L 347.83 373.52 L 348.02 373.10 L 348.22 373.50 L 348.41 373.48 L 348.61 373.88 L 348.80 373.40 L 349.00 373.74 L 349.19 373.09 L 349.39 374.43 L 349.58 374.76 L 349.78 374.32 L 349.97 374.45 L 350.17 374.72 L 350.37 375.28 L 350.56 374.47 L 350.95 375.31 L 351.15 375.44 L 351.34 375.04 L 351.54 375.41 L 351.74 375.33 L 351.93 375.55 L 352.13 375.49 L 352.52 378.35 L 352.72 378.37 L 353.11 376.93 L 353.30 377.09 L 353.50 377.44 L 353.70 377.31 L 354.09 375.93 L 354.48 376.79 L 354.68 376.93 L 354.88 376.80 L 355.07 377.43 L 355.27 377.46 L 355.47 377.19 L 355.66 377.33 L 355.86 376.93 L 356.06 377.66 L 356.25 377.18 L 356.45 377.92 L 356.84 377.47 L 357.04 377.80 L 357.24 377.89 L 357.63 378.62 L 357.83 378.35 L 358.03 379.01 L 358.42 378.06 L 358.82 378.58 L 359.01 378.76 L 359.21 378.65 L 359.41 378.76 L 359.61 379.31 L 359.81 379.01 L 360.00 379.39 L 360.20 379.05 L 360.40 379.26 L 360.60 378.84 L 360.79 378.92 L 360.99 379.30 L 361.19 379.22 L 361.59 378.83 L 361.98 379.23 L 362.18 379.18 L 362.38 378.83 L 362.58 379.64 L 362.78 379.28 L 362.98 379.50 L 363.17 378.93 L 363.37 379.37 L 363.57 379.40 L 363.77 379.89 L 364.37 378.89 L 364.56 379.58 L 364.76 379.42 L 364.96 378.44 L 365.36 379.39 L 365.56 379.47 L 365.76 380.36 L 365.96 379.26 L 366.16 379.40 L 366.36 379.72 L 366.56 379.15 L 366.75 379.57 L 366.95 379.71 L 367.15 379.50 L 367.55 379.82 L 367.75 379.60 L 368.15 380.12 L 368.35 379.55 L 368.55 379.33 L 369.15 379.88 L 369.35 379.73 L 369.55 379.88 L 369.75 379.30 L 369.95 379.81 L 370.15 379.49 L 370.35 379.52 L 370.55 379.89 L 370.75 379.31 L 370.95 379.82 L 371.15 379.98 L 371.35 379.83 L 371.55 380.23 L 371.75 379.57 L 371.95 379.45 L 372.15 379.03 L 372.35 379.13 L 372.56 379.51 L 372.76 378.99 L 372.96 379.10 L 373.16 379.36 L 373.36 378.96 L 373.56 378.99 L 373.76 378.79 L 373.96 379.39 L 374.16 378.73 L 374.36 378.77 L 374.56 378.56 L 374.77 378.73 L 375.17 378.46 L 375.57 379.00 L 375.77 378.46 L 375.97 378.56 L 376.18 378.47 L 376.38 378.26 L 376.58 378.38 L 376.78 378.06 L 376.98 378.35 L 377.59 378.03 L 377.79 378.10 L 377.99 378.02 L 378.19 378.30 L 378.39 378.37 L 378.80 377.68 L 379.00 377.93 L 379.61 377.24 L 379.81 377.64 L 380.01 377.27 L 380.22 377.26 L 380.62 377.02 L 381.43 377.08 L 382.04 376.59 L 382.24 376.60 L 382.65 376.29 L 382.85 376.76 L 383.05 376.48 L 383.26 376.57 L 383.46 376.98 L 383.66 376.95 L 383.87 376.30 L 384.07 376.32 L 384.27 376.47 L 384.48 375.54 L 384.68 376.15 L 384.88 375.77 L 385.09 375.90 L 385.49 375.42 L 385.70 375.86 L 385.90 375.88 L 386.11 375.54 L 386.31 375.45 L 386.51 374.92 L 386.92 375.40 L 387.13 375.68 L 387.53 374.87 L 387.74 374.79 L 387.94 374.23 L 388.15 375.28 L 388.35 375.42 L 388.55 374.84 L 388.76 375.17 L 388.96 374.43 L 389.17 374.60 L 389.37 374.55 L 389.58 374.19 L 389.78 373.59 L 390.19 373.43 L 390.40 373.78 L 390.60 373.87 L 390.81 373.75 L 391.22 374.04 L 391.42 373.90 L 391.63 373.57 L 391.83 374.06 L 392.04 373.07 L 392.24 373.17 L 392.45 372.74 L 392.65 372.88 L 392.86 373.18 L 393.06 372.79 L 393.27 373.34 L 393.47 372.80 L 393.68 372.60 L 393.88 373.26 L 394.09 372.51 L 394.30 372.38 L 394.50 372.09 L 394.71 372.41 L 394.91 371.98 L 395.12 372.19 L 395.32 372.18 L 395.53 372.37 L 395.74 371.73 L 395.94 371.46 L 396.15 371.69 L 396.36 371.60 L 396.56 372.03 L 396.77 371.82 L 396.97 371.78 L 397.18 371.90 L 397.39 371.29 L 397.80 372.19 L 398.01 371.95 L 398.21 372.53 L 398.42 372.35 L 398.83 372.66 L 399.04 372.34 L 399.25 372.45 L 399.45 372.33 L 399.66 372.66 L 399.87 371.93 L 400.28 372.35 L 400.49 372.71 L 400.70 371.98 L 401.11 372.47 L 401.52 372.52 L 401.73 372.66 L 401.94 372.05 L 402.35 372.92 L 402.56 372.94 L 402.77 373.60 L 402.98 372.63 L 403.60 372.40 L 403.81 373.02 L 404.02 372.68 L 404.22 372.69 L 404.64 373.17 L 404.85 372.87 L 405.06 372.97 L 405.26 372.91 L 405.47 373.62 L 406.10 373.19 L 406.31 373.27 L 406.72 372.98 L 406.93 373.04 L 407.14 372.82 L 407.35 372.90 L 407.56 373.11 L 407.77 373.70 L 408.18 373.03 L 408.39 373.67 L 408.60 373.77 L 408.81 373.71 L 409.44 374.03 L 409.65 373.54 L 409.86 374.18 L 410.07 374.23 L 410.69 373.30 L 410.90 373.68 L 411.11 373.48 L 411.32 373.54 L 411.53 372.03 L 411.74 369.07 L 411.95 369.50 L 412.16 372.86 L 412.79 373.99 L 413.21 374.15 L 413.63 374.29 L 413.84 373.80 L 414.05 373.65 L 414.47 374.10 L 414.68 373.74 L 414.89 374.10 L 415.31 374.05 L 415.53 374.62 L 415.95 374.53 L 416.16 373.90 L 416.37 374.56 L 416.58 374.22 L 416.79 373.65 L 417.00 374.00 L 417.21 374.03 L 417.42 373.74 L 417.63 374.00 L 417.84 374.04 L 418.06 373.92 L 418.27 373.94 L 418.48 374.35 L 418.69 373.75 L 418.90 374.48 L 419.11 374.33 L 419.32 373.82 L 419.53 375.01 L 419.75 374.50 L 419.96 374.56 L 420.17 374.38 L 420.38 374.55 L 420.59 374.42 L 421.02 373.96 L 421.23 374.13 L 421.44 373.99 L 421.65 374.46 L 421.86 374.07 L 422.08 374.35 L 422.29 374.11 L 422.50 374.51 L 422.71 374.59 L 422.93 374.25 L 423.35 374.48 L 423.56 374.83 L 423.77 374.92 L 424.20 374.42 L 424.41 374.76 L 424.63 374.87 L 424.84 374.77 L 425.05 375.02 L 425.26 374.54 L 425.48 374.73 L 425.69 374.69 L 425.90 375.18 L 426.33 374.96 L 426.54 374.97 L 426.75 375.16 L 426.97 374.76 L 427.39 374.84 L 427.61 375.31 L 427.82 374.70 L 428.03 374.99 L 428.25 374.76 L 428.46 375.07 L 429.32 374.74 L 429.53 374.97 L 429.74 374.53 L 429.96 375.41 L 430.39 375.00 L 430.81 375.87 L 431.03 375.90 L 431.24 374.96 L 431.46 375.69 L 431.67 375.25 L 431.88 375.19 L 432.31 374.96 L 432.53 375.45 L 432.74 375.44 L 432.96 375.32 L 433.17 375.58 L 433.39 375.07 L 433.60 375.38 L 433.82 375.33 L 434.03 375.70 L 434.25 375.43 L 434.46 375.50 L 434.68 375.35 L 434.89 375.65 L 435.11 375.35 L 435.54 375.90 L 435.75 375.38 L 435.97 376.06 L 436.18 376.29 L 436.40 375.31 L 436.61 375.52 L 437.04 376.10 L 437.47 375.80 L 437.69 375.27 L 437.91 375.27 L 438.12 375.70 L 438.55 375.79 L 438.77 376.04 L 439.20 375.66 L 439.42 375.86 L 439.63 376.36 L 440.28 375.87 L 440.50 376.17 L 440.71 375.59 L 440.93 376.00 L 441.15 376.15 L 441.36 375.80 L 441.58 376.25 L 442.01 375.81 L 442.23 376.33 L 442.45 376.19 L 442.66 375.79 L 443.97 376.35 L 444.18 375.83 L 444.40 376.36 L 444.62 376.37 L 444.83 376.18 L 445.05 376.18 L 445.27 376.53 L 445.49 376.42 L 445.70 375.98 L 445.92 376.63 L 446.14 376.58 L 446.36 376.37 L 446.58 376.56 L 446.79 377.27 L 447.01 376.71 L 447.23 377.08 L 447.45 376.81 L 447.88 377.55 L 448.10 377.64 L 448.32 377.87 L 448.54 378.39 L 448.75 378.25 L 448.97 379.16 L 449.19 379.43 L 449.41 380.28 L 449.63 382.06 L 449.85 387.04 L 450.07 388.86 L 450.72 380.29 L 451.38 378.75 L 451.60 378.37 L 451.82 378.60 L 452.25 377.54 L 452.47 377.05 L 452.69 377.50 L 453.13 377.10 L 453.35 377.22 L 453.57 377.04 L 453.79 377.11 L 454.23 376.90 L 454.45 376.54 L 454.89 376.96 L 455.10 376.64 L 455.76 376.47 L 455.98 376.96 L 456.20 376.81 L 456.42 376.91 L 456.64 376.55 L 456.86 376.45 L 457.08 376.64 L 457.30 376.64 L 457.52 376.87 L 457.97 376.62 L 458.19 376.97 L 458.41 376.98 L 458.63 376.31 L 459.07 376.75 L 459.29 376.78 L 459.51 376.34 L 459.73 377.13 L 459.95 376.82 L 460.17 376.78 L 460.39 376.95 L 460.61 376.76 L 460.83 377.06 L 461.06 376.77 L 462.16 376.51 L 462.38 376.77 L 462.83 376.82 L 463.05 376.81 L 463.49 377.11 L 463.71 377.02 L 463.93 376.75 L 464.16 376.97 L 464.38 377.01 L 464.60 376.37 L 465.04 377.16 L 465.26 377.61 L 465.49 376.93 L 465.71 377.06 L 465.93 376.65 L 466.15 376.77 L 466.38 376.71 L 466.60 377.19 L 466.82 376.82 L 467.04 377.24 L 467.49 376.79 L 467.71 376.92 L 467.93 377.29 L 468.16 376.81 L 469.27 377.08 L 469.49 376.83 L 469.72 376.92 L 469.94 376.83 L 470.16 376.92 L 470.39 377.24 L 470.83 376.83 L 471.06 377.50 L 471.28 377.12 L 471.73 377.48 L 472.17 377.00 L 472.62 377.15 L 472.84 377.01 L 473.07 377.43 L 473.29 377.09 L 473.74 377.86 L 473.96 377.50 L 474.19 377.39 L 474.41 377.11 L 474.64 377.40 L 474.86 377.46 L 475.08 377.21 L 475.31 377.36 L 475.53 377.34 L 475.76 377.04 L 475.98 377.30 L 476.21 377.26 L 476.43 376.91 L 476.66 377.54 L 476.88 377.29 L 477.55 377.08 L 477.78 377.46 L 478.00 377.26 L 478.45 377.69 L 478.68 377.60 L 478.90 377.65 L 479.13 377.51 L 479.58 377.74 L 479.81 377.30 L 480.26 377.70 L 480.48 378.11 L 480.71 377.50 L 481.16 377.72 L 481.38 377.63 L 481.61 377.79 L 481.84 377.53 L 482.06 377.68 L 482.51 377.68 L 482.74 377.86 L 482.97 377.90 L 483.19 377.61 L 483.42 377.96 L 483.87 377.54 L 484.10 377.90 L 484.32 377.59 L 484.55 377.72 L 484.78 377.68 L 485.00 377.86 L 485.68 377.51 L 485.91 377.73 L 486.14 377.79 L 486.36 378.02 L 486.59 377.79 L 486.82 378.05 L 487.50 377.74 L 488.18 377.94 L 488.41 377.71 L 488.64 378.10 L 488.86 378.03 L 489.09 377.76 L 489.32 377.99 L 489.55 377.89 L 489.77 377.95 L 490.00 377.78 L 490.23 377.94 L 490.46 378.38 L 490.68 378.13 L 490.91 378.15 L 491.14 378.00 L 491.37 378.00 L 491.60 377.76 L 491.82 377.97 L 492.05 378.43 L 492.28 378.28 L 492.51 378.48 L 492.74 377.96 L 492.97 378.30 L 493.19 378.31 L 493.42 378.56 L 493.88 378.33 L 494.34 378.57 L 494.57 378.46 L 494.79 377.96 L 495.25 378.62 L 495.48 378.50 L 495.71 378.52 L 496.17 378.39 L 496.40 378.58 L 496.86 378.38 L 497.09 378.64 L 497.32 378.12 L 497.54 378.24 L 497.77 378.92 L 498.23 378.43 L 498.46 378.45 L 498.69 378.32 L 498.92 378.88 L 499.61 378.50 L 499.84 378.77 L 500.07 378.55 L 500.53 378.54 L 500.76 378.92 L 501.22 378.72 L 501.45 378.77 L 501.68 378.57 L 501.91 378.90 L 502.14 378.54 L 502.38 378.83 L 502.61 378.46 L 502.84 378.47 L 503.07 378.89 L 503.30 378.76 L 503.53 378.84 L 503.76 379.06 L 503.99 378.86 L 504.45 379.10 L 504.91 378.71 L 505.38 379.02 L 505.61 378.66 L 505.84 379.07 L 506.07 378.93 L 506.53 378.91 L 506.77 379.29 L 507.00 379.10 L 507.92 378.95 L 508.39 379.63 L 508.85 379.15 L 509.08 379.47 L 509.32 378.75 L 509.55 379.19 L 509.78 379.01 L 510.01 379.41 L 510.25 379.22 L 510.48 379.34 L 510.71 379.00 L 511.64 379.22 L 511.87 379.61 L 512.11 379.70 L 512.34 379.52 L 512.57 379.18 L 513.04 379.54 L 513.27 379.26 L 513.74 379.09 L 513.97 379.41 L 514.44 379.05 L 514.67 379.50 L 514.90 379.63 L 515.14 379.43 L 515.37 379.53 L 515.84 379.57 L 516.07 379.61 L 516.31 379.38 L 516.77 379.68 L 517.24 379.51 L 517.94 379.29 L 518.18 379.82 L 518.41 379.72 L 518.65 379.87 L 518.88 379.54 L 519.12 379.51 L 519.82 379.86 L 520.05 379.94 L 520.52 379.35 L 520.76 379.86 L 520.99 379.39 L 521.46 379.84 L 521.70 379.59 L 522.17 379.60 L 522.40 379.74 L 522.64 379.53 L 522.87 379.85 L 523.11 379.62 L 523.34 379.58 L 523.81 379.98 L 524.05 380.00 L 524.29 379.79 L 524.52 379.78 L 524.76 380.30 L 524.99 380.08 L 525.23 379.57 L 525.46 380.03 L 525.70 379.69 L 526.17 379.86 L 526.41 380.23 L 526.64 379.84 L 526.88 380.03 L 527.12 379.69 L 527.35 380.17 L 527.59 379.94 L 527.83 380.15 L 528.30 380.27 L 528.54 379.89 L 528.77 379.88 L 529.01 380.09 L 529.25 379.83 L 529.96 380.30 L 530.19 379.86 L 530.43 380.08 L 531.14 379.91 L 531.38 379.99 L 531.62 379.86 L 532.57 380.11 L 532.80 380.54 L 533.04 379.92 L 533.28 380.22 L 533.99 380.11 L 534.23 380.27 L 534.71 379.92 L 534.94 380.04 L 535.18 379.97 L 535.42 380.23 L 535.66 380.31 L 536.14 380.03 L 536.85 380.65 L 537.09 380.25 L 537.33 380.56 L 537.57 380.20 L 537.81 380.20 L 538.04 379.78 L 538.28 380.21 L 538.52 380.28 L 539.24 380.13 L 539.96 380.58 L 540.20 380.22 L 540.43 380.40 L 540.67 380.17 L 540.91 380.68 L 541.15 380.39 L 541.63 381.04 L 541.87 380.51 L 542.35 380.47 L 542.59 380.42 L 542.83 380.60 L 543.07 380.48 L 543.31 380.63 L 543.55 380.53 L 543.79 380.94 L 544.27 380.30 L 544.51 380.58 L 544.99 380.76 L 545.23 380.37 L 545.71 380.52 L 545.95 380.29 L 546.19 380.77 L 546.44 380.47 L 546.68 380.76 L 547.16 380.78 L 547.40 380.45 L 547.64 381.01 L 547.88 381.28 L 548.12 381.09 L 548.36 380.36 L 548.85 380.64 L 549.09 380.37 L 549.57 380.93 L 549.81 380.68 L 550.05 380.80 L 550.29 380.36 L 550.54 380.95 L 550.78 380.81 L 551.02 381.07 L 551.50 380.76 L 551.74 380.89 L 551.99 381.24 L 552.23 381.20 L 552.47 380.88 L 553.44 380.88 L 553.68 380.73 L 553.92 380.87 L 554.17 380.62 L 554.41 380.95 L 554.65 381.04 L 554.90 380.91 L 555.14 381.08 L 555.62 380.67 L 556.11 381.04 L 556.60 380.96 L 557.57 381.17 L 557.81 381.04 L 558.05 381.07 L 558.30 380.90 L 558.54 380.93 L 558.78 381.18 L 559.03 381.10 L 559.52 381.27 L 560.25 380.98 L 560.49 380.94 L 560.74 381.15 L 560.98 381.87 L 561.47 381.22 L 561.71 380.96 L 562.44 380.86 L 562.69 381.13 L 562.93 380.91 L 564.16 381.40 L 564.40 381.24 L 565.38 381.34 L 565.63 380.94 L 565.87 381.22 L 566.12 381.18 L 566.36 381.42 L 566.61 381.43 L 566.85 381.09 L 567.10 381.30 L 567.34 381.30 L 567.59 381.05 L 567.84 381.00 L 568.33 381.25 L 568.82 381.40 L 569.06 381.09 L 569.31 381.54 L 569.56 381.42 L 569.80 381.81 L 570.54 381.32 L 571.77 381.45 L 572.02 381.24 L 572.27 381.20 L 573.01 381.63 L 573.25 381.53 L 573.50 381.59 L 573.75 381.84 L 573.99 381.43 L 574.49 381.65 L 574.74 381.67 L 574.98 381.51 L 575.23 379.48 L 575.48 376.12 L 575.97 381.22 L 576.96 381.69 L 577.21 381.55 L 577.71 381.79 L 577.96 381.60 L 578.70 381.90 L 578.95 381.62 L 579.20 381.54 L 579.69 382.05 L 579.94 382.02 L 580.19 381.77 L 580.44 381.99 L 580.69 382.53 L 580.94 382.14 L 581.18 382.41 L 581.43 382.06 L 581.93 381.92 L 582.18 381.79 L 582.43 381.83 L 582.68 382.10 L 582.93 382.13 L 583.18 381.92 L 583.42 382.12 L 583.67 382.49 L 583.92 382.40 L 584.17 381.90 L 584.42 381.72 L 584.92 382.20 L 585.17 382.10 L 585.42 382.53 L 586.17 382.15 L 586.42 382.49 L 586.67 382.00 L 586.92 382.12 L 587.17 382.10 L 587.42 382.28 L 587.67 382.25 L 587.92 382.41 L 588.17 382.28 L 588.42 382.30 L 588.67 382.51 L 588.92 382.30 L 589.17 382.46 L 589.42 382.26 L 589.67 382.27 L 589.92 382.75 L 590.18 382.37 L 590.43 382.36 L 590.68 382.70 L 591.18 382.50 L 591.43 382.71 L 591.68 382.66 L 591.93 382.34 L 592.18 382.44 L 592.43 382.29 L 593.44 382.61 L 593.69 382.39 L 593.94 382.42 L 594.70 382.87 L 595.20 382.68 L 595.45 383.00 L 595.71 382.68 L 596.21 382.65 L 596.46 382.80 L 596.72 382.44 L 597.22 382.94 L 597.73 382.71 L 598.48 383.09 L 598.99 382.65 L 599.24 382.25 L 599.75 380.14 L 600.25 375.78 L 600.51 375.57 L 601.01 377.85 L 601.52 381.53 L 601.77 382.43 L 602.28 382.89 L 602.53 382.93 L 602.79 383.08 L 603.04 383.07 L 603.30 383.27 L 603.55 383.29 L 604.06 382.98 L 604.56 383.51 L 604.82 382.88 L 605.33 383.07 L 605.58 383.13 L 606.09 382.90 L 606.35 383.21 L 606.60 383.01 L 606.85 383.14 L 607.11 383.01 L 607.62 383.29 L 607.87 383.05 L 608.13 383.09 L 608.38 382.96 L 608.64 383.16 L 608.89 382.92 L 609.15 383.18 L 609.40 383.09 L 609.66 383.22 L 609.91 382.90 L 610.17 383.17 L 610.68 383.24 L 610.94 383.53 L 611.19 383.35 L 611.45 382.93 L 611.70 383.39 L 612.47 383.15 L 612.73 383.49 L 612.98 383.32 L 613.24 383.38 L 614.01 383.19 L 614.78 383.44 L 615.29 383.30 L 615.55 383.42 L 615.80 383.20 L 616.06 383.42 L 616.57 382.98 L 616.83 383.12 L 617.09 383.06 L 617.34 383.48 L 617.60 383.29 L 617.86 383.47 L 618.12 383.48 L 618.37 383.68 L 618.63 383.58 L 618.89 383.25 L 619.92 383.28 L 620.18 383.48 L 620.95 383.20 L 621.21 383.45 L 621.46 383.50 L 621.72 383.30 L 621.98 381.95 L 622.24 382.25 L 622.50 383.31 L 622.76 383.52 L 623.01 383.36 L 623.27 383.64 L 623.53 383.46 L 624.05 383.53 L 624.56 383.41 L 624.82 383.07 L 625.08 383.48 L 625.34 383.42 L 625.86 383.76 L 626.12 383.38 L 626.38 383.29 L 626.64 383.68 L 627.15 383.44 L 627.41 383.59 L 627.67 383.91 L 627.93 383.45 L 628.19 383.63 L 628.45 383.51 L 628.71 383.79 L 628.97 383.62 L 629.23 383.58 L 629.49 383.84 L 629.75 383.61 L 630.27 383.77 L 630.53 383.81 L 630.79 383.65 L 631.05 383.09 L 631.31 382.79 L 631.57 383.64 L 631.83 383.91 L 632.09 383.61 L 632.35 383.69 L 632.61 383.60 L 632.87 383.74 L 633.13 383.65 L 633.66 384.01 L 633.92 383.83 L 634.70 383.71 L 634.96 384.05 L 635.22 383.82 L 635.48 384.02 L 636.27 383.89 L 636.53 383.98 L 637.05 383.75 L 637.31 382.82 L 637.58 382.92 L 637.84 383.91 L 638.10 384.09 L 638.62 383.92 L 639.67 384.10 L 639.93 384.10 L 640.20 383.92 L 640.46 384.02 L 640.72 383.89 L 640.98 384.01 L 641.25 383.79 L 641.51 384.02 L 641.77 383.96 L 642.03 384.11 L 642.56 383.94 L 643.35 384.24 L 643.87 383.98 L 644.14 384.19 L 645.72 384.19 L 646.51 384.48 L 646.77 384.02 L 647.04 384.49 L 647.30 384.40 L 647.56 384.45 L 647.83 384.27 L 648.36 384.25 L 648.62 384.14 L 648.88 384.49 L 649.15 384.28 L 649.41 384.33 L 649.68 384.26 L 649.94 384.50 L 650.21 384.33 L 650.74 384.64 L 651.27 384.47 L 651.53 384.50 L 652.06 384.26 L 652.33 384.59 L 652.59 384.37 L 652.86 384.41 L 653.39 384.61 L 653.65 384.45 L 654.45 384.52 L 654.71 384.50 L 654.98 384.66 L 655.25 384.47 L 655.51 384.45 L 655.78 384.29 L 656.04 384.71 L 657.11 384.63 L 658.17 384.53 L 658.44 384.81 L 658.71 384.58 L 658.97 385.03 L 659.24 384.63 L 659.51 384.60 L 659.77 384.70 L 660.04 384.50 L 660.31 384.77 L 660.57 384.83 L 661.11 384.58 L 662.71 384.88 L 662.98 384.45 L 663.25 384.56 L 663.51 384.88 L 663.78 384.79 L 664.32 385.09 L 665.12 384.45 L 666.46 384.90 L 666.73 384.63 L 667.00 384.64 L 667.27 384.90 L 667.81 384.57 L 668.07 384.56 L 668.34 384.71 L 668.61 385.04 L 669.15 384.89 L 669.42 384.64 L 669.69 384.95 L 669.96 384.96 L 670.23 385.10 L 670.76 384.83 L 671.30 384.88 L 671.84 384.59 L 672.11 384.94 L 672.38 384.80 L 673.46 384.74 L 673.73 384.86 L 674.00 384.70 L 674.81 384.88 L 675.08 385.21 L 675.35 385.27 L 676.16 384.87 L 676.43 385.08 L 676.98 385.03 L 677.52 385.17 L 678.06 384.75 L 678.33 384.80 L 678.87 385.11 L 679.42 385.10 L 679.69 385.21 L 680.50 385.00 L 680.77 384.76 L 681.04 384.76 L 681.32 385.09 L 681.59 385.05 L 681.86 385.26 L 682.13 385.20 L 682.40 384.96 L 682.68 384.94 L 682.95 385.06 L 683.22 384.98 L 683.49 385.07 L 683.77 384.84 L 684.04 385.10 L 684.31 385.01 L 684.58 385.09 L 685.13 384.93 L 685.40 385.17 L 686.49 385.03 L 686.76 385.20 L 687.04 385.22 L 687.58 384.98 L 687.86 385.12 L 688.13 384.89 L 688.68 384.93 L 688.95 384.92 L 689.22 385.13 L 689.50 384.76 L 689.77 385.11 L 690.32 384.94 L 691.42 385.19 L 691.96 384.96 L 692.24 385.22 L 692.79 385.12 L 693.34 385.30 L 693.61 385.17 L 693.89 385.35 L 694.16 385.21 L 694.71 385.61 L 694.98 385.23 L 695.26 385.15 L 695.53 385.35 L 695.81 385.07 L 696.08 385.22 L 696.36 384.93 L 696.64 385.28 L 697.74 384.96 L 698.29 385.26 L 698.56 384.90 L 699.39 385.14 L 699.67 385.29 L 700.22 384.89 L 700.50 385.25 L 700.77 385.31 L 701.05 385.21 L 701.32 385.50 L 701.60 384.98 L 701.88 385.33 L 702.98 385.03 L 703.26 385.33 L 703.54 385.33 L 703.81 385.11 L 704.09 385.41 L 704.37 385.29 L 704.65 385.52 L 704.92 385.15 L 705.20 384.98 L 705.48 385.48 L 705.76 385.09 L 706.03 385.02 L 706.31 385.21 L 706.87 385.17 L 707.14 383.63 L 707.42 380.07 L 707.70 380.88 L 707.98 384.17 L 708.25 385.34 L 708.53 385.37 L 708.81 385.01 L 709.09 385.45 L 709.92 384.84 L 710.20 385.24 L 710.48 385.11 L 710.76 385.30 L 711.32 385.18 L 711.59 385.27 L 711.87 385.12 L 712.15 385.13 L 712.43 385.02 L 712.99 385.23 L 713.55 384.97 L 713.83 385.17 L 714.11 384.92 L 714.67 385.14 L 715.22 380.89 L 715.50 384.02 L 715.78 384.97 L 716.06 385.00 L 716.62 385.55 L 716.90 385.38 L 717.18 385.03 L 717.46 384.89 L 717.74 385.18 L 718.02 385.09 L 718.30 385.19 L 719.14 384.89 L 719.43 382.28 L 719.71 382.91 L 719.99 385.08 L 720.27 384.84 L 720.55 385.15 L 721.67 385.16 L 721.95 385.18 L 722.23 385.08 L 722.52 385.23 L 722.80 384.92 L 723.08 385.08 L 723.36 385.38 L 723.64 384.96 L 723.92 385.28 L 724.20 385.02 L 724.49 384.35 L 724.77 383.34 L 725.05 384.53 L 725.33 385.21 L 725.61 385.26 L 725.90 384.99 L 726.18 385.23 L 726.46 385.02 L 727.31 385.09 L 727.59 384.89 L 727.87 385.33 L 728.15 385.22 L 728.72 384.50 L 729.00 382.19 L 729.28 383.46 L 729.57 387.03 L 729.85 386.65 L 730.13 385.54 L 730.42 384.88 L 731.55 384.96 L 731.83 384.93 L 732.12 385.06 L 732.68 384.98 L 732.97 385.09 L 733.25 384.96 L 733.82 385.18 L 734.39 384.85 L 734.67 384.94 L 734.95 385.35 L 735.24 385.08 L 735.52 385.29 L 735.81 386.58 L 736.09 390.12 L 736.38 391.63 L 736.94 385.70 L 737.23 385.04 L 737.80 385.20 L 738.37 385.25 L 738.65 385.03 L 738.94 385.23 L 739.79 385.00 L 740.08 385.17 L 740.36 384.95 L 740.94 384.97 L 741.22 384.91 L 741.51 385.19 L 742.08 384.87 L 742.36 385.10 L 742.65 385.12 L 742.94 384.81 L 743.22 385.00 L 743.51 384.85 L 743.79 385.30 L 744.08 385.01 L 744.37 385.10 L 744.94 385.01 L 745.23 385.28 L 745.51 385.18 L 745.80 385.38 L 746.09 384.89 L 746.37 384.83 L 746.95 385.11 L 747.52 384.98 L 747.81 385.01 L 748.09 384.92 L 748.38 385.30 L 748.67 385.28 L 748.96 384.95 L 749.24 384.82 L 749.53 385.04 L 749.82 385.00 L 750.97 385.31 L 751.26 385.01 L 751.83 384.93 L 752.12 385.13 L 752.41 385.12 L 752.99 385.50 L 753.27 386.78 L 753.56 389.06 L 753.85 388.80 L 754.14 386.21 L 754.43 385.02 L 754.72 385.09 L 755.00 384.94 L 755.29 385.05 L 755.58 385.04 L 755.87 384.87 L 756.45 385.16 L 756.74 384.90 L 757.61 385.26 L 757.90 385.04 L 758.18 385.13 L 758.76 384.90 L 759.05 385.02 L 759.34 384.85 L 759.63 385.21 L 760.50 384.76 L 760.79 384.98 L 761.08 384.86 L 761.95 385.20 L 762.24 385.13 L 762.53 384.88 L 762.83 385.08 L 763.41 385.20 L 763.99 384.89 L 764.28 384.80 L 764.57 385.12 L 765.73 384.91 L 766.03 385.04 L 766.32 384.97 L 766.61 385.17 L 766.90 385.00 L 767.19 385.49 L 767.48 384.77 L 767.77 382.87 L 768.07 381.99 L 768.36 384.22 L 768.65 384.95 L 768.94 385.21 L 769.23 385.17 L 769.53 384.82 L 769.82 384.93 L 770.11 385.19 L 770.40 385.26 L 770.69 385.00 L 770.99 384.98 L 771.57 385.38 L 771.86 385.13 L 772.45 384.91 L 772.74 385.13 L 773.33 384.85 L 773.62 385.22 L 773.91 385.17 L 774.21 384.84 L 774.50 385.05 L 775.09 384.91 L 775.38 385.19 L 775.67 385.07 L 775.97 385.19 L 776.26 384.94 L 776.56 384.94 L 776.85 381.70 L 777.14 376.68 L 777.44 382.72 L 777.73 385.04 L 778.02 385.51 L 778.32 385.04 L 778.61 385.32 L 778.91 385.00 L 779.20 385.19 L 779.50 384.65 L 779.79 385.37 L 780.97 384.87 L 781.56 385.02 L 781.85 384.73 L 782.15 385.11 L 782.74 384.77 L 783.03 385.18 L 783.33 385.16 L 783.62 384.90 L 783.92 384.96 L 784.21 385.18 L 784.51 385.06 L 784.81 384.28 L 785.10 378.25 L 785.40 376.55 L 785.69 383.99 L 785.99 385.05 L 786.28 384.81 L 786.58 384.89 L 786.88 384.83 L 787.17 385.03 L 787.77 385.00 L 788.06 384.97 L 788.65 385.13 L 788.95 384.86 L 789.25 385.11 L 789.84 385.01 L 790.14 384.09 L 790.43 376.73 L 790.73 378.39 L 791.03 384.39 L 791.33 385.00 L 791.62 385.11 L 791.92 384.90 L 792.22 385.29 L 792.51 384.98 L 792.81 384.97 L 793.11 385.13 L 794.00 384.79 L 794.60 385.02 L 795.19 385.25 L 795.49 385.14 L 795.79 385.15 L 796.39 381.49 L 796.69 384.33 L 796.98 384.83 L 797.28 384.96 L 797.58 384.95 L 797.88 385.05 L 798.18 384.94 L 798.48 385.02 L 798.78 384.83 L 799.07 384.79 L 799.37 385.05 L 799.67 385.14 L 799.97 384.88 L 800.27 384.83 L 800.57 385.10 L 800.87 384.83 L 801.17 384.98 L 801.47 384.98 L 801.77 384.10 L 802.07 382.13 L 802.37 384.26 L 802.67 385.07 L 802.97 385.16 L 803.27 384.99 L 803.57 384.97 L 803.87 385.30 L 804.47 384.90 L 804.77 385.26 L 805.07 385.09 L 805.37 385.30 L 805.67 385.29 L 805.97 384.87 L 806.27 384.89 L 806.57 385.10 L 806.87 385.80 L 807.17 387.50 L 807.47 387.31 L 807.77 385.65 L 808.07 385.09 L 808.98 384.89 L 809.28 385.04 L 809.58 384.94 L 810.18 385.05 L 810.48 385.05 L 811.09 384.85 L 811.39 384.91 L 811.69 385.09 L 811.99 384.92 L 812.29 385.11 L 812.59 385.14 L 813.20 384.93 L 813.80 384.93 L 814.11 384.82 L 815.32 385.05 L 815.62 384.98 L 816.53 385.56 L 816.83 385.23 L 817.44 385.15 L 817.74 385.34 L 818.35 385.27 L 818.65 384.96 L 819.26 385.24 L 819.56 385.13 L 819.86 384.78 L 820.47 384.97 L 820.77 384.94 L 821.08 385.14 L 821.38 385.00 L 822.60 385.08 L 823.21 384.86 L 823.51 385.09 L 823.82 385.05 L 824.12 385.15 L 824.43 384.87 L 824.73 384.99 L 825.04 384.86 L 825.34 385.10 L 825.65 384.92 L 825.95 385.06 L 827.17 385.03 L 827.48 384.87 L 827.78 384.99 L 828.39 384.79 L 828.70 385.21 L 829.00 385.06 L 829.31 385.15 L 829.62 385.12 L 829.92 384.92 L 830.53 384.94 L 830.84 384.90 L 831.45 385.31 L 831.76 384.94 L 832.07 384.99 L 832.07 384.99 " clip-path="url(#p3f2d684a46)" style="fill: none; stroke: #c73e1d; stroke-opacity: 0.58; stroke-width: 0.55; stroke-linecap: square"/>
</g>
<g id="line2d_59">
<path d="M 50.88 372.45 L 831.79 372.45 " clip-path="url(#p3f2d684a46)" style="fill: none; stroke-dasharray: 2.96,1.28; stroke-dashoffset: 0; stroke: #808080; stroke-opacity: 0.7; stroke-width: 0.8"/>
</g>
<g id="patch_8">
<path d="M 50.88 409.92 L 50.88 334.22 " style="fill: none; stroke: #000000; stroke-width: 0.8; stroke-linejoin: miter; stroke-linecap: square"/>
</g>
<g id="patch_9">
<path d="M 831.79 409.92 L 831.79 334.22 " style="fill: none; stroke: #000000; stroke-width: 0.8; stroke-linejoin: miter; stroke-linecap: square"/>
</g>
<g id="patch_10">
<path d="M 50.88 409.92 L 831.79 409.92 " style="fill: none; stroke: #000000; stroke-width: 0.8; stroke-linejoin: miter; stroke-linecap: square"/>
</g>
<g id="patch_11">
<path d="M 50.88 334.22 L 831.79 334.22 " style="fill: none; stroke: #000000; stroke-width: 0.8; stroke-linejoin: miter; stroke-linecap: square"/>
</g>
</g>
<g id="infobox">
<path d="M 654.43 25.44 L 816.04 25.44 Q 818.73 25.44 818.73 28.12 L 818.73 79.34 Q 818.73 82.03 816.04 82.03 L 654.43 82.03 Q 651.74 82.03 651.74 79.34 L 651.74 28.12 Q 651.74 25.44 654.43 25.44 z
" style="fill: #ffffff; opacity: 0.8; stroke: #cccccc; stroke-linejoin: miter"/>
</g>
<g id="info0">
<text style="font-size: 9px; font-family: 'DejaVu Sans Mono', 'Liberation Mono', monospace; text-anchor: end" x="816.62" y="35.66" transform="rotate(-0 816.62 35.66)">RA, Dec: 116.46496°, 18.24842°</text>
</g>
<g id="info1">
<text style="font-size: 9px; font-family: 'DejaVu Sans Mono', 'Liberation Mono', monospace; text-anchor: end" x="816.62" y="46.10" transform="rotate(-0 816.62 46.10)">Teff: 6500 K</text>
</g>
<g id="info2">
<text style="font-size: 9px; font-family: 'DejaVu Sans Mono', 'Liberation Mono', monospace; text-anchor: end" x="816.62" y="56.54" transform="rotate(-0 816.62 56.54)">log g: 3.81</text>
</g>
<g id="info3">
<text style="font-size: 9px; font-family: 'DejaVu Sans Mono', 'Liberation Mono', monospace; text-anchor: end" x="816.62" y="66.98" transform="rotate(-0 816.62 66.98)">[Fe/H]: -0.45</text>
</g>
<g id="info4">
<text style="font-size: 9px; font-family: 'DejaVu Sans Mono', 'Liberation Mono', monospace; text-anchor: end" x="816.62" y="77.42" transform="rotate(-0 816.62 77.42)">S/N: 49.8</text>
</g>
</g>
<defs>
<clipPath id="pba4cbe3485">
<rect x="50.88" y="22.08" width="780.912" height="302.832"/>
</clipPath>
<clipPath id="p3f2d684a46">
<rect x="50.88" y="334.22" width="780.912" height="75.696"/>
</clipPath>
</defs>
</svg>
</body></html>
